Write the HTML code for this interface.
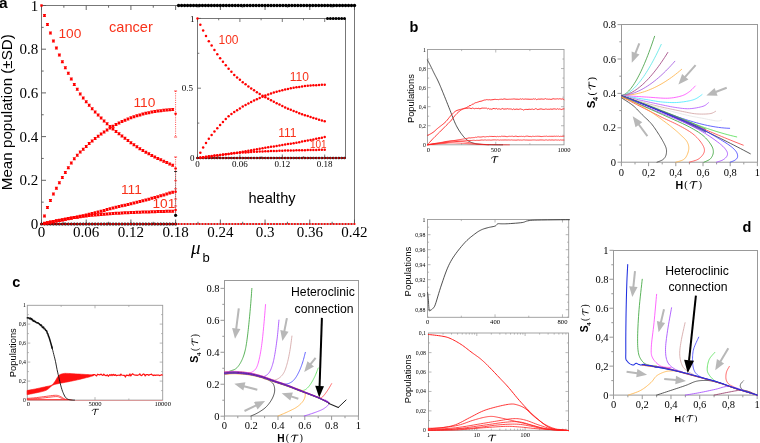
<!DOCTYPE html>
<html><head><meta charset="utf-8"><style>html,body{margin:0;padding:0;background:#fff;overflow:hidden}svg{display:block;will-change:transform}</style></head>
<body>
<svg width="760" height="443" viewBox="0 0 760 443">
<rect width="760" height="443" fill="#fff"/>
<rect x="41.5" y="5.5" width="313" height="218.5" fill="none" stroke="#777" stroke-width="1"/>
<line x1="41.5" y1="224" x2="41.5" y2="219.5" stroke="#555" stroke-width="0.9" />
<line x1="41.5" y1="5.5" x2="41.5" y2="10" stroke="#555" stroke-width="0.9" />
<line x1="63.86" y1="224" x2="63.86" y2="221.8" stroke="#555" stroke-width="0.9" />
<line x1="63.86" y1="5.5" x2="63.86" y2="7.7" stroke="#555" stroke-width="0.9" />
<line x1="86.21" y1="224" x2="86.21" y2="219.5" stroke="#555" stroke-width="0.9" />
<line x1="86.21" y1="5.5" x2="86.21" y2="10" stroke="#555" stroke-width="0.9" />
<line x1="108.57" y1="224" x2="108.57" y2="221.8" stroke="#555" stroke-width="0.9" />
<line x1="108.57" y1="5.5" x2="108.57" y2="7.7" stroke="#555" stroke-width="0.9" />
<line x1="130.92" y1="224" x2="130.92" y2="219.5" stroke="#555" stroke-width="0.9" />
<line x1="130.92" y1="5.5" x2="130.92" y2="10" stroke="#555" stroke-width="0.9" />
<line x1="153.28" y1="224" x2="153.28" y2="221.8" stroke="#555" stroke-width="0.9" />
<line x1="153.28" y1="5.5" x2="153.28" y2="7.7" stroke="#555" stroke-width="0.9" />
<line x1="175.64" y1="224" x2="175.64" y2="219.5" stroke="#555" stroke-width="0.9" />
<line x1="175.64" y1="5.5" x2="175.64" y2="10" stroke="#555" stroke-width="0.9" />
<line x1="197.99" y1="224" x2="197.99" y2="221.8" stroke="#555" stroke-width="0.9" />
<line x1="197.99" y1="5.5" x2="197.99" y2="7.7" stroke="#555" stroke-width="0.9" />
<line x1="220.35" y1="224" x2="220.35" y2="219.5" stroke="#555" stroke-width="0.9" />
<line x1="220.35" y1="5.5" x2="220.35" y2="10" stroke="#555" stroke-width="0.9" />
<line x1="242.7" y1="224" x2="242.7" y2="221.8" stroke="#555" stroke-width="0.9" />
<line x1="242.7" y1="5.5" x2="242.7" y2="7.7" stroke="#555" stroke-width="0.9" />
<line x1="265.06" y1="224" x2="265.06" y2="219.5" stroke="#555" stroke-width="0.9" />
<line x1="265.06" y1="5.5" x2="265.06" y2="10" stroke="#555" stroke-width="0.9" />
<line x1="287.42" y1="224" x2="287.42" y2="221.8" stroke="#555" stroke-width="0.9" />
<line x1="287.42" y1="5.5" x2="287.42" y2="7.7" stroke="#555" stroke-width="0.9" />
<line x1="309.77" y1="224" x2="309.77" y2="219.5" stroke="#555" stroke-width="0.9" />
<line x1="309.77" y1="5.5" x2="309.77" y2="10" stroke="#555" stroke-width="0.9" />
<line x1="332.13" y1="224" x2="332.13" y2="221.8" stroke="#555" stroke-width="0.9" />
<line x1="332.13" y1="5.5" x2="332.13" y2="7.7" stroke="#555" stroke-width="0.9" />
<line x1="354.48" y1="224" x2="354.48" y2="219.5" stroke="#555" stroke-width="0.9" />
<line x1="354.48" y1="5.5" x2="354.48" y2="10" stroke="#555" stroke-width="0.9" />
<line x1="41.5" y1="224" x2="46" y2="224" stroke="#555" stroke-width="0.9" />
<line x1="41.5" y1="202.15" x2="43.7" y2="202.15" stroke="#555" stroke-width="0.9" />
<line x1="41.5" y1="180.3" x2="46" y2="180.3" stroke="#555" stroke-width="0.9" />
<line x1="41.5" y1="158.45" x2="43.7" y2="158.45" stroke="#555" stroke-width="0.9" />
<line x1="41.5" y1="136.6" x2="46" y2="136.6" stroke="#555" stroke-width="0.9" />
<line x1="41.5" y1="114.75" x2="43.7" y2="114.75" stroke="#555" stroke-width="0.9" />
<line x1="41.5" y1="92.9" x2="46" y2="92.9" stroke="#555" stroke-width="0.9" />
<line x1="41.5" y1="71.05" x2="43.7" y2="71.05" stroke="#555" stroke-width="0.9" />
<line x1="41.5" y1="49.2" x2="46" y2="49.2" stroke="#555" stroke-width="0.9" />
<line x1="41.5" y1="27.35" x2="43.7" y2="27.35" stroke="#555" stroke-width="0.9" />
<line x1="41.5" y1="5.5" x2="46" y2="5.5" stroke="#555" stroke-width="0.9" />
<circle cx="41.5" cy="224" r="1.5" fill="#000"/>
<circle cx="44.48" cy="224" r="1.5" fill="#000"/>
<circle cx="47.46" cy="224" r="1.5" fill="#000"/>
<circle cx="50.44" cy="224" r="1.5" fill="#000"/>
<circle cx="53.42" cy="224" r="1.5" fill="#000"/>
<circle cx="56.4" cy="224" r="1.5" fill="#000"/>
<circle cx="59.38" cy="224" r="1.5" fill="#000"/>
<circle cx="62.37" cy="224" r="1.5" fill="#000"/>
<circle cx="65.35" cy="224" r="1.5" fill="#000"/>
<circle cx="68.33" cy="224" r="1.5" fill="#000"/>
<circle cx="71.31" cy="224" r="1.5" fill="#000"/>
<circle cx="74.29" cy="224" r="1.5" fill="#000"/>
<circle cx="77.27" cy="224" r="1.5" fill="#000"/>
<circle cx="80.25" cy="224" r="1.5" fill="#000"/>
<circle cx="83.23" cy="224" r="1.5" fill="#000"/>
<circle cx="86.21" cy="224" r="1.5" fill="#000"/>
<circle cx="89.19" cy="224" r="1.5" fill="#000"/>
<circle cx="92.17" cy="224" r="1.5" fill="#000"/>
<circle cx="95.15" cy="224" r="1.5" fill="#000"/>
<circle cx="98.14" cy="224" r="1.5" fill="#000"/>
<circle cx="101.12" cy="224" r="1.5" fill="#000"/>
<circle cx="104.1" cy="224" r="1.5" fill="#000"/>
<circle cx="107.08" cy="224" r="1.5" fill="#000"/>
<circle cx="110.06" cy="224" r="1.5" fill="#000"/>
<circle cx="113.04" cy="224" r="1.5" fill="#000"/>
<circle cx="116.02" cy="224" r="1.5" fill="#000"/>
<circle cx="119" cy="224" r="1.5" fill="#000"/>
<circle cx="121.98" cy="224" r="1.5" fill="#000"/>
<circle cx="124.96" cy="224" r="1.5" fill="#000"/>
<circle cx="127.94" cy="224" r="1.5" fill="#000"/>
<circle cx="130.92" cy="224" r="1.5" fill="#000"/>
<circle cx="133.9" cy="224" r="1.5" fill="#000"/>
<circle cx="136.89" cy="224" r="1.5" fill="#000"/>
<circle cx="139.87" cy="224" r="1.5" fill="#000"/>
<circle cx="142.85" cy="224" r="1.5" fill="#000"/>
<circle cx="145.83" cy="224" r="1.5" fill="#000"/>
<circle cx="148.81" cy="224" r="1.5" fill="#000"/>
<circle cx="151.79" cy="224" r="1.5" fill="#000"/>
<circle cx="154.77" cy="224" r="1.5" fill="#000"/>
<circle cx="157.75" cy="224" r="1.5" fill="#000"/>
<circle cx="160.73" cy="224" r="1.5" fill="#000"/>
<circle cx="163.71" cy="224" r="1.5" fill="#000"/>
<circle cx="166.69" cy="224" r="1.5" fill="#000"/>
<circle cx="169.67" cy="224" r="1.5" fill="#000"/>
<circle cx="172.66" cy="224" r="1.5" fill="#000"/>
<circle cx="175.64" cy="224" r="1.5" fill="#000"/>
<circle cx="41.5" cy="224" r="1.1" fill="#d00"/>
<circle cx="44.48" cy="224" r="1.1" fill="#d00"/>
<circle cx="47.46" cy="224" r="1.1" fill="#d00"/>
<circle cx="50.44" cy="224" r="1.1" fill="#d00"/>
<circle cx="53.42" cy="224" r="1.1" fill="#d00"/>
<circle cx="56.4" cy="224" r="1.1" fill="#d00"/>
<circle cx="59.38" cy="224" r="1.1" fill="#d00"/>
<circle cx="62.37" cy="224" r="1.1" fill="#d00"/>
<circle cx="65.35" cy="224" r="1.1" fill="#d00"/>
<circle cx="68.33" cy="224" r="1.1" fill="#d00"/>
<circle cx="71.31" cy="224" r="1.1" fill="#d00"/>
<circle cx="74.29" cy="224" r="1.1" fill="#d00"/>
<circle cx="77.27" cy="224" r="1.1" fill="#d00"/>
<circle cx="80.25" cy="224" r="1.1" fill="#d00"/>
<circle cx="83.23" cy="224" r="1.1" fill="#d00"/>
<circle cx="86.21" cy="224" r="1.1" fill="#d00"/>
<circle cx="89.19" cy="224" r="1.1" fill="#d00"/>
<circle cx="92.17" cy="224" r="1.1" fill="#d00"/>
<circle cx="95.15" cy="224" r="1.1" fill="#d00"/>
<circle cx="98.14" cy="224" r="1.1" fill="#d00"/>
<circle cx="101.12" cy="224" r="1.1" fill="#d00"/>
<circle cx="104.1" cy="224" r="1.1" fill="#d00"/>
<circle cx="107.08" cy="224" r="1.1" fill="#d00"/>
<circle cx="110.06" cy="224" r="1.1" fill="#d00"/>
<circle cx="113.04" cy="224" r="1.1" fill="#d00"/>
<circle cx="116.02" cy="224" r="1.1" fill="#d00"/>
<circle cx="119" cy="224" r="1.1" fill="#d00"/>
<circle cx="121.98" cy="224" r="1.1" fill="#d00"/>
<circle cx="124.96" cy="224" r="1.1" fill="#d00"/>
<circle cx="127.94" cy="224" r="1.1" fill="#d00"/>
<circle cx="130.92" cy="224" r="1.1" fill="#d00"/>
<circle cx="133.9" cy="224" r="1.1" fill="#d00"/>
<circle cx="136.89" cy="224" r="1.1" fill="#d00"/>
<circle cx="139.87" cy="224" r="1.1" fill="#d00"/>
<circle cx="142.85" cy="224" r="1.1" fill="#d00"/>
<circle cx="145.83" cy="224" r="1.1" fill="#d00"/>
<circle cx="148.81" cy="224" r="1.1" fill="#d00"/>
<circle cx="151.79" cy="224" r="1.1" fill="#d00"/>
<circle cx="154.77" cy="224" r="1.1" fill="#d00"/>
<circle cx="157.75" cy="224" r="1.1" fill="#d00"/>
<circle cx="160.73" cy="224" r="1.1" fill="#d00"/>
<circle cx="163.71" cy="224" r="1.1" fill="#d00"/>
<circle cx="166.69" cy="224" r="1.1" fill="#d00"/>
<circle cx="169.67" cy="224" r="1.1" fill="#d00"/>
<circle cx="172.66" cy="224" r="1.1" fill="#d00"/>
<circle cx="175.64" cy="224" r="1.1" fill="#ff0000"/>
<circle cx="178.62" cy="224" r="1.1" fill="#ff0000"/>
<circle cx="181.6" cy="224" r="1.1" fill="#ff0000"/>
<circle cx="184.58" cy="224" r="1.1" fill="#ff0000"/>
<circle cx="187.56" cy="224" r="1.1" fill="#ff0000"/>
<circle cx="190.54" cy="224" r="1.1" fill="#ff0000"/>
<circle cx="193.52" cy="224" r="1.1" fill="#ff0000"/>
<circle cx="196.5" cy="224" r="1.1" fill="#ff0000"/>
<circle cx="199.48" cy="224" r="1.1" fill="#ff0000"/>
<circle cx="202.46" cy="224" r="1.1" fill="#ff0000"/>
<circle cx="205.44" cy="224" r="1.1" fill="#ff0000"/>
<circle cx="208.42" cy="224" r="1.1" fill="#ff0000"/>
<circle cx="211.41" cy="224" r="1.1" fill="#ff0000"/>
<circle cx="214.39" cy="224" r="1.1" fill="#ff0000"/>
<circle cx="217.37" cy="224" r="1.1" fill="#ff0000"/>
<circle cx="220.35" cy="224" r="1.1" fill="#ff0000"/>
<circle cx="223.33" cy="224" r="1.1" fill="#ff0000"/>
<circle cx="226.31" cy="224" r="1.1" fill="#ff0000"/>
<circle cx="229.29" cy="224" r="1.1" fill="#ff0000"/>
<circle cx="232.27" cy="224" r="1.1" fill="#ff0000"/>
<circle cx="235.25" cy="224" r="1.1" fill="#ff0000"/>
<circle cx="238.23" cy="224" r="1.1" fill="#ff0000"/>
<circle cx="241.21" cy="224" r="1.1" fill="#ff0000"/>
<circle cx="244.19" cy="224" r="1.1" fill="#ff0000"/>
<circle cx="247.18" cy="224" r="1.1" fill="#ff0000"/>
<circle cx="250.16" cy="224" r="1.1" fill="#ff0000"/>
<circle cx="253.14" cy="224" r="1.1" fill="#ff0000"/>
<circle cx="256.12" cy="224" r="1.1" fill="#ff0000"/>
<circle cx="259.1" cy="224" r="1.1" fill="#ff0000"/>
<circle cx="262.08" cy="224" r="1.1" fill="#ff0000"/>
<circle cx="265.06" cy="224" r="1.1" fill="#ff0000"/>
<circle cx="268.04" cy="224" r="1.1" fill="#ff0000"/>
<circle cx="271.02" cy="224" r="1.1" fill="#ff0000"/>
<circle cx="274" cy="224" r="1.1" fill="#ff0000"/>
<circle cx="276.98" cy="224" r="1.1" fill="#ff0000"/>
<circle cx="279.96" cy="224" r="1.1" fill="#ff0000"/>
<circle cx="282.94" cy="224" r="1.1" fill="#ff0000"/>
<circle cx="285.93" cy="224" r="1.1" fill="#ff0000"/>
<circle cx="288.91" cy="224" r="1.1" fill="#ff0000"/>
<circle cx="291.89" cy="224" r="1.1" fill="#ff0000"/>
<circle cx="294.87" cy="224" r="1.1" fill="#ff0000"/>
<circle cx="297.85" cy="224" r="1.1" fill="#ff0000"/>
<circle cx="300.83" cy="224" r="1.1" fill="#ff0000"/>
<circle cx="303.81" cy="224" r="1.1" fill="#ff0000"/>
<circle cx="306.79" cy="224" r="1.1" fill="#ff0000"/>
<circle cx="309.77" cy="224" r="1.1" fill="#ff0000"/>
<circle cx="312.75" cy="224" r="1.1" fill="#ff0000"/>
<circle cx="315.73" cy="224" r="1.1" fill="#ff0000"/>
<circle cx="318.71" cy="224" r="1.1" fill="#ff0000"/>
<circle cx="321.7" cy="224" r="1.1" fill="#ff0000"/>
<circle cx="324.68" cy="224" r="1.1" fill="#ff0000"/>
<circle cx="327.66" cy="224" r="1.1" fill="#ff0000"/>
<circle cx="330.64" cy="224" r="1.1" fill="#ff0000"/>
<circle cx="333.62" cy="224" r="1.1" fill="#ff0000"/>
<circle cx="336.6" cy="224" r="1.1" fill="#ff0000"/>
<circle cx="339.58" cy="224" r="1.1" fill="#ff0000"/>
<circle cx="342.56" cy="224" r="1.1" fill="#ff0000"/>
<circle cx="345.54" cy="224" r="1.1" fill="#ff0000"/>
<circle cx="348.52" cy="224" r="1.1" fill="#ff0000"/>
<circle cx="351.5" cy="224" r="1.1" fill="#ff0000"/>
<circle cx="354.48" cy="224" r="1.1" fill="#ff0000"/>
<circle cx="178.62" cy="5.5" r="1.7" fill="#000"/>
<circle cx="181.6" cy="5.5" r="1.7" fill="#000"/>
<circle cx="184.58" cy="5.5" r="1.7" fill="#000"/>
<circle cx="187.56" cy="5.5" r="1.7" fill="#000"/>
<circle cx="190.54" cy="5.5" r="1.7" fill="#000"/>
<circle cx="193.52" cy="5.5" r="1.7" fill="#000"/>
<circle cx="196.5" cy="5.5" r="1.7" fill="#000"/>
<circle cx="199.48" cy="5.5" r="1.7" fill="#000"/>
<circle cx="202.46" cy="5.5" r="1.7" fill="#000"/>
<circle cx="205.44" cy="5.5" r="1.7" fill="#000"/>
<circle cx="208.42" cy="5.5" r="1.7" fill="#000"/>
<circle cx="211.41" cy="5.5" r="1.7" fill="#000"/>
<circle cx="214.39" cy="5.5" r="1.7" fill="#000"/>
<circle cx="217.37" cy="5.5" r="1.7" fill="#000"/>
<circle cx="220.35" cy="5.5" r="1.7" fill="#000"/>
<circle cx="223.33" cy="5.5" r="1.7" fill="#000"/>
<circle cx="226.31" cy="5.5" r="1.7" fill="#000"/>
<circle cx="229.29" cy="5.5" r="1.7" fill="#000"/>
<circle cx="232.27" cy="5.5" r="1.7" fill="#000"/>
<circle cx="235.25" cy="5.5" r="1.7" fill="#000"/>
<circle cx="238.23" cy="5.5" r="1.7" fill="#000"/>
<circle cx="241.21" cy="5.5" r="1.7" fill="#000"/>
<circle cx="244.19" cy="5.5" r="1.7" fill="#000"/>
<circle cx="247.18" cy="5.5" r="1.7" fill="#000"/>
<circle cx="250.16" cy="5.5" r="1.7" fill="#000"/>
<circle cx="253.14" cy="5.5" r="1.7" fill="#000"/>
<circle cx="256.12" cy="5.5" r="1.7" fill="#000"/>
<circle cx="259.1" cy="5.5" r="1.7" fill="#000"/>
<circle cx="262.08" cy="5.5" r="1.7" fill="#000"/>
<circle cx="265.06" cy="5.5" r="1.7" fill="#000"/>
<circle cx="268.04" cy="5.5" r="1.7" fill="#000"/>
<circle cx="271.02" cy="5.5" r="1.7" fill="#000"/>
<circle cx="274" cy="5.5" r="1.7" fill="#000"/>
<circle cx="276.98" cy="5.5" r="1.7" fill="#000"/>
<circle cx="279.96" cy="5.5" r="1.7" fill="#000"/>
<circle cx="282.94" cy="5.5" r="1.7" fill="#000"/>
<circle cx="285.93" cy="5.5" r="1.7" fill="#000"/>
<circle cx="288.91" cy="5.5" r="1.7" fill="#000"/>
<circle cx="291.89" cy="5.5" r="1.7" fill="#000"/>
<circle cx="294.87" cy="5.5" r="1.7" fill="#000"/>
<circle cx="297.85" cy="5.5" r="1.7" fill="#000"/>
<circle cx="300.83" cy="5.5" r="1.7" fill="#000"/>
<circle cx="303.81" cy="5.5" r="1.7" fill="#000"/>
<circle cx="306.79" cy="5.5" r="1.7" fill="#000"/>
<circle cx="309.77" cy="5.5" r="1.7" fill="#000"/>
<circle cx="312.75" cy="5.5" r="1.7" fill="#000"/>
<circle cx="315.73" cy="5.5" r="1.7" fill="#000"/>
<circle cx="318.71" cy="5.5" r="1.7" fill="#000"/>
<circle cx="321.7" cy="5.5" r="1.7" fill="#000"/>
<circle cx="324.68" cy="5.5" r="1.7" fill="#000"/>
<circle cx="327.66" cy="5.5" r="1.7" fill="#000"/>
<circle cx="330.64" cy="5.5" r="1.7" fill="#000"/>
<circle cx="333.62" cy="5.5" r="1.7" fill="#000"/>
<circle cx="336.6" cy="5.5" r="1.7" fill="#000"/>
<circle cx="339.58" cy="5.5" r="1.7" fill="#000"/>
<circle cx="342.56" cy="5.5" r="1.7" fill="#000"/>
<circle cx="345.54" cy="5.5" r="1.7" fill="#000"/>
<circle cx="348.52" cy="5.5" r="1.7" fill="#000"/>
<circle cx="351.5" cy="5.5" r="1.7" fill="#000"/>
<circle cx="354.48" cy="5.5" r="1.7" fill="#000"/>
<path d="M42.98,14.05 h3 v0.8 h-0.3 v1.4 h0.3 v0.8 h-3 v-0.8 h0.3 v-1.4 h-0.3z" fill="#ff0000"/>
<path d="M45.96,23.01 h3 v0.8 h-0.3 v1.4 h0.3 v0.8 h-3 v-0.8 h0.3 v-1.4 h-0.3z" fill="#ff0000"/>
<path d="M48.94,31.53 h3 v0.8 h-0.3 v1.4 h0.3 v0.8 h-3 v-0.8 h0.3 v-1.4 h-0.3z" fill="#ff0000"/>
<path d="M51.92,39.62 h3 v0.8 h-0.3 v1.4 h0.3 v0.8 h-3 v-0.8 h0.3 v-1.4 h-0.3z" fill="#ff0000"/>
<path d="M54.9,46.61 h3 v0.8 h-0.3 v1.4 h0.3 v0.8 h-3 v-0.8 h0.3 v-1.4 h-0.3z" fill="#ff0000"/>
<path d="M57.88,53.6 h3 v0.8 h-0.3 v1.4 h0.3 v0.8 h-3 v-0.8 h0.3 v-1.4 h-0.3z" fill="#ff0000"/>
<path d="M60.87,60.15 h3 v0.8 h-0.3 v1.4 h0.3 v0.8 h-3 v-0.8 h0.3 v-1.4 h-0.3z" fill="#ff0000"/>
<path d="M63.85,66.27 h3 v0.8 h-0.3 v1.4 h0.3 v0.8 h-3 v-0.8 h0.3 v-1.4 h-0.3z" fill="#ff0000"/>
<path d="M66.83,71.74 h3 v0.8 h-0.3 v1.4 h0.3 v0.8 h-3 v-0.8 h0.3 v-1.4 h-0.3z" fill="#ff0000"/>
<path d="M69.81,77.42 h3 v0.8 h-0.3 v1.4 h0.3 v0.8 h-3 v-0.8 h0.3 v-1.4 h-0.3z" fill="#ff0000"/>
<path d="M72.79,82.88 h3 v0.8 h-0.3 v1.4 h0.3 v0.8 h-3 v-0.8 h0.3 v-1.4 h-0.3z" fill="#ff0000"/>
<path d="M75.77,87.69 h3 v0.8 h-0.3 v1.4 h0.3 v0.8 h-3 v-0.8 h0.3 v-1.4 h-0.3z" fill="#ff0000"/>
<path d="M78.75,92.49 h3 v0.8 h-0.3 v1.4 h0.3 v0.8 h-3 v-0.8 h0.3 v-1.4 h-0.3z" fill="#ff0000"/>
<path d="M81.73,96.48 h3 v0.8 h-0.3 v1.4 h0.3 v0.8 h-3 v-0.8 h0.3 v-1.4 h-0.3z" fill="#ff0000"/>
<path d="M84.71,100.14 h3 v0.8 h-0.3 v1.4 h0.3 v0.8 h-3 v-0.8 h0.3 v-1.4 h-0.3z" fill="#ff0000"/>
<path d="M87.69,103.76 h3 v0.8 h-0.3 v1.4 h0.3 v0.8 h-3 v-0.8 h0.3 v-1.4 h-0.3z" fill="#ff0000"/>
<path d="M90.67,107.24 h3 v0.8 h-0.3 v1.4 h0.3 v0.8 h-3 v-0.8 h0.3 v-1.4 h-0.3z" fill="#ff0000"/>
<path d="M93.65,110.47 h3 v0.8 h-0.3 v1.4 h0.3 v0.8 h-3 v-0.8 h0.3 v-1.4 h-0.3z" fill="#ff0000"/>
<path d="M96.64,113.58 h3 v0.8 h-0.3 v1.4 h0.3 v0.8 h-3 v-0.8 h0.3 v-1.4 h-0.3z" fill="#ff0000"/>
<path d="M99.62,116.59 h3 v0.8 h-0.3 v1.4 h0.3 v0.8 h-3 v-0.8 h0.3 v-1.4 h-0.3z" fill="#ff0000"/>
<path d="M102.6,119.49 h3 v0.8 h-0.3 v1.4 h0.3 v0.8 h-3 v-0.8 h0.3 v-1.4 h-0.3z" fill="#ff0000"/>
<path d="M105.58,122.28 h3 v0.8 h-0.3 v1.4 h0.3 v0.8 h-3 v-0.8 h0.3 v-1.4 h-0.3z" fill="#ff0000"/>
<path d="M108.56,124.95 h3 v0.8 h-0.3 v1.4 h0.3 v0.8 h-3 v-0.8 h0.3 v-1.4 h-0.3z" fill="#ff0000"/>
<path d="M111.54,127.49 h3 v0.8 h-0.3 v1.4 h0.3 v0.8 h-3 v-0.8 h0.3 v-1.4 h-0.3z" fill="#ff0000"/>
<path d="M114.52,129.88 h3 v0.8 h-0.3 v1.4 h0.3 v0.8 h-3 v-0.8 h0.3 v-1.4 h-0.3z" fill="#ff0000"/>
<path d="M117.5,132.17 h3 v0.8 h-0.3 v1.4 h0.3 v0.8 h-3 v-0.8 h0.3 v-1.4 h-0.3z" fill="#ff0000"/>
<path d="M120.48,134.41 h3 v0.8 h-0.3 v1.4 h0.3 v0.8 h-3 v-0.8 h0.3 v-1.4 h-0.3z" fill="#ff0000"/>
<path d="M123.46,136.67 h3 v0.8 h-0.3 v1.4 h0.3 v0.8 h-3 v-0.8 h0.3 v-1.4 h-0.3z" fill="#ff0000"/>
<path d="M126.44,138.93 h3 v0.8 h-0.3 v1.4 h0.3 v0.8 h-3 v-0.8 h0.3 v-1.4 h-0.3z" fill="#ff0000"/>
<path d="M129.42,141.15 h3 v0.8 h-0.3 v1.4 h0.3 v0.8 h-3 v-0.8 h0.3 v-1.4 h-0.3z" fill="#ff0000"/>
<path d="M132.4,143.27 h3 v0.8 h-0.3 v1.4 h0.3 v0.8 h-3 v-0.8 h0.3 v-1.4 h-0.3z" fill="#ff0000"/>
<path d="M135.39,145.25 h3 v0.8 h-0.3 v1.4 h0.3 v0.8 h-3 v-0.8 h0.3 v-1.4 h-0.3z" fill="#ff0000"/>
<path d="M138.37,147.13 h3 v0.8 h-0.3 v1.4 h0.3 v0.8 h-3 v-0.8 h0.3 v-1.4 h-0.3z" fill="#ff0000"/>
<path d="M141.35,148.93 h3 v0.8 h-0.3 v1.4 h0.3 v0.8 h-3 v-0.8 h0.3 v-1.4 h-0.3z" fill="#ff0000"/>
<path d="M144.33,150.65 h3 v0.8 h-0.3 v1.4 h0.3 v0.8 h-3 v-0.8 h0.3 v-1.4 h-0.3z" fill="#ff0000"/>
<path d="M147.31,152.31 h3 v0.8 h-0.3 v1.4 h0.3 v0.8 h-3 v-0.8 h0.3 v-1.4 h-0.3z" fill="#ff0000"/>
<path d="M150.29,153.89 h3 v0.8 h-0.3 v1.4 h0.3 v0.8 h-3 v-0.8 h0.3 v-1.4 h-0.3z" fill="#ff0000"/>
<path d="M153.27,155.41 h3 v0.8 h-0.3 v1.4 h0.3 v0.8 h-3 v-0.8 h0.3 v-1.4 h-0.3z" fill="#ff0000"/>
<path d="M156.25,156.88 h3 v0.8 h-0.3 v1.4 h0.3 v0.8 h-3 v-0.8 h0.3 v-1.4 h-0.3z" fill="#ff0000"/>
<path d="M159.23,158.32 h3 v0.8 h-0.3 v1.4 h0.3 v0.8 h-3 v-0.8 h0.3 v-1.4 h-0.3z" fill="#ff0000"/>
<path d="M162.21,159.73 h3 v0.8 h-0.3 v1.4 h0.3 v0.8 h-3 v-0.8 h0.3 v-1.4 h-0.3z" fill="#ff0000"/>
<path d="M165.19,161.11 h3 v0.8 h-0.3 v1.4 h0.3 v0.8 h-3 v-0.8 h0.3 v-1.4 h-0.3z" fill="#ff0000"/>
<path d="M168.17,162.46 h3 v0.8 h-0.3 v1.4 h0.3 v0.8 h-3 v-0.8 h0.3 v-1.4 h-0.3z" fill="#ff0000"/>
<path d="M171.16,163.77 h3 v0.8 h-0.3 v1.4 h0.3 v0.8 h-3 v-0.8 h0.3 v-1.4 h-0.3z" fill="#ff0000"/>
<path d="M42.98,214.42 h3 v0.8 h-0.3 v1.4 h0.3 v0.8 h-3 v-0.8 h0.3 v-1.4 h-0.3z" fill="#ff0000"/>
<path d="M45.96,206.11 h3 v0.8 h-0.3 v1.4 h0.3 v0.8 h-3 v-0.8 h0.3 v-1.4 h-0.3z" fill="#ff0000"/>
<path d="M48.94,199.12 h3 v0.8 h-0.3 v1.4 h0.3 v0.8 h-3 v-0.8 h0.3 v-1.4 h-0.3z" fill="#ff0000"/>
<path d="M51.92,192.57 h3 v0.8 h-0.3 v1.4 h0.3 v0.8 h-3 v-0.8 h0.3 v-1.4 h-0.3z" fill="#ff0000"/>
<path d="M54.9,186.67 h3 v0.8 h-0.3 v1.4 h0.3 v0.8 h-3 v-0.8 h0.3 v-1.4 h-0.3z" fill="#ff0000"/>
<path d="M57.88,181.2 h3 v0.8 h-0.3 v1.4 h0.3 v0.8 h-3 v-0.8 h0.3 v-1.4 h-0.3z" fill="#ff0000"/>
<path d="M60.87,175.96 h3 v0.8 h-0.3 v1.4 h0.3 v0.8 h-3 v-0.8 h0.3 v-1.4 h-0.3z" fill="#ff0000"/>
<path d="M63.85,170.93 h3 v0.8 h-0.3 v1.4 h0.3 v0.8 h-3 v-0.8 h0.3 v-1.4 h-0.3z" fill="#ff0000"/>
<path d="M66.83,166.16 h3 v0.8 h-0.3 v1.4 h0.3 v0.8 h-3 v-0.8 h0.3 v-1.4 h-0.3z" fill="#ff0000"/>
<path d="M69.81,161.53 h3 v0.8 h-0.3 v1.4 h0.3 v0.8 h-3 v-0.8 h0.3 v-1.4 h-0.3z" fill="#ff0000"/>
<path d="M72.79,157.3 h3 v0.8 h-0.3 v1.4 h0.3 v0.8 h-3 v-0.8 h0.3 v-1.4 h-0.3z" fill="#ff0000"/>
<path d="M75.77,153.7 h3 v0.8 h-0.3 v1.4 h0.3 v0.8 h-3 v-0.8 h0.3 v-1.4 h-0.3z" fill="#ff0000"/>
<path d="M78.75,150.59 h3 v0.8 h-0.3 v1.4 h0.3 v0.8 h-3 v-0.8 h0.3 v-1.4 h-0.3z" fill="#ff0000"/>
<path d="M81.73,147.74 h3 v0.8 h-0.3 v1.4 h0.3 v0.8 h-3 v-0.8 h0.3 v-1.4 h-0.3z" fill="#ff0000"/>
<path d="M84.71,144.93 h3 v0.8 h-0.3 v1.4 h0.3 v0.8 h-3 v-0.8 h0.3 v-1.4 h-0.3z" fill="#ff0000"/>
<path d="M87.69,142.08 h3 v0.8 h-0.3 v1.4 h0.3 v0.8 h-3 v-0.8 h0.3 v-1.4 h-0.3z" fill="#ff0000"/>
<path d="M90.67,139.4 h3 v0.8 h-0.3 v1.4 h0.3 v0.8 h-3 v-0.8 h0.3 v-1.4 h-0.3z" fill="#ff0000"/>
<path d="M93.65,137 h3 v0.8 h-0.3 v1.4 h0.3 v0.8 h-3 v-0.8 h0.3 v-1.4 h-0.3z" fill="#ff0000"/>
<path d="M96.64,134.72 h3 v0.8 h-0.3 v1.4 h0.3 v0.8 h-3 v-0.8 h0.3 v-1.4 h-0.3z" fill="#ff0000"/>
<path d="M99.62,132.53 h3 v0.8 h-0.3 v1.4 h0.3 v0.8 h-3 v-0.8 h0.3 v-1.4 h-0.3z" fill="#ff0000"/>
<path d="M102.6,130.46 h3 v0.8 h-0.3 v1.4 h0.3 v0.8 h-3 v-0.8 h0.3 v-1.4 h-0.3z" fill="#ff0000"/>
<path d="M105.58,128.48 h3 v0.8 h-0.3 v1.4 h0.3 v0.8 h-3 v-0.8 h0.3 v-1.4 h-0.3z" fill="#ff0000"/>
<path d="M108.56,126.6 h3 v0.8 h-0.3 v1.4 h0.3 v0.8 h-3 v-0.8 h0.3 v-1.4 h-0.3z" fill="#ff0000"/>
<path d="M111.54,124.82 h3 v0.8 h-0.3 v1.4 h0.3 v0.8 h-3 v-0.8 h0.3 v-1.4 h-0.3z" fill="#ff0000"/>
<path d="M114.52,123.12 h3 v0.8 h-0.3 v1.4 h0.3 v0.8 h-3 v-0.8 h0.3 v-1.4 h-0.3z" fill="#ff0000"/>
<path d="M117.5,121.52 h3 v0.8 h-0.3 v1.4 h0.3 v0.8 h-3 v-0.8 h0.3 v-1.4 h-0.3z" fill="#ff0000"/>
<path d="M120.48,120.05 h3 v0.8 h-0.3 v1.4 h0.3 v0.8 h-3 v-0.8 h0.3 v-1.4 h-0.3z" fill="#ff0000"/>
<path d="M123.46,118.71 h3 v0.8 h-0.3 v1.4 h0.3 v0.8 h-3 v-0.8 h0.3 v-1.4 h-0.3z" fill="#ff0000"/>
<path d="M126.44,117.47 h3 v0.8 h-0.3 v1.4 h0.3 v0.8 h-3 v-0.8 h0.3 v-1.4 h-0.3z" fill="#ff0000"/>
<path d="M129.42,116.32 h3 v0.8 h-0.3 v1.4 h0.3 v0.8 h-3 v-0.8 h0.3 v-1.4 h-0.3z" fill="#ff0000"/>
<path d="M132.4,115.27 h3 v0.8 h-0.3 v1.4 h0.3 v0.8 h-3 v-0.8 h0.3 v-1.4 h-0.3z" fill="#ff0000"/>
<path d="M135.39,114.31 h3 v0.8 h-0.3 v1.4 h0.3 v0.8 h-3 v-0.8 h0.3 v-1.4 h-0.3z" fill="#ff0000"/>
<path d="M138.37,113.41 h3 v0.8 h-0.3 v1.4 h0.3 v0.8 h-3 v-0.8 h0.3 v-1.4 h-0.3z" fill="#ff0000"/>
<path d="M141.35,112.59 h3 v0.8 h-0.3 v1.4 h0.3 v0.8 h-3 v-0.8 h0.3 v-1.4 h-0.3z" fill="#ff0000"/>
<path d="M144.33,111.84 h3 v0.8 h-0.3 v1.4 h0.3 v0.8 h-3 v-0.8 h0.3 v-1.4 h-0.3z" fill="#ff0000"/>
<path d="M147.31,111.18 h3 v0.8 h-0.3 v1.4 h0.3 v0.8 h-3 v-0.8 h0.3 v-1.4 h-0.3z" fill="#ff0000"/>
<path d="M150.29,110.56 h3 v0.8 h-0.3 v1.4 h0.3 v0.8 h-3 v-0.8 h0.3 v-1.4 h-0.3z" fill="#ff0000"/>
<path d="M153.27,110 h3 v0.8 h-0.3 v1.4 h0.3 v0.8 h-3 v-0.8 h0.3 v-1.4 h-0.3z" fill="#ff0000"/>
<path d="M156.25,109.52 h3 v0.8 h-0.3 v1.4 h0.3 v0.8 h-3 v-0.8 h0.3 v-1.4 h-0.3z" fill="#ff0000"/>
<path d="M159.23,109.13 h3 v0.8 h-0.3 v1.4 h0.3 v0.8 h-3 v-0.8 h0.3 v-1.4 h-0.3z" fill="#ff0000"/>
<path d="M162.21,108.78 h3 v0.8 h-0.3 v1.4 h0.3 v0.8 h-3 v-0.8 h0.3 v-1.4 h-0.3z" fill="#ff0000"/>
<path d="M165.19,108.45 h3 v0.8 h-0.3 v1.4 h0.3 v0.8 h-3 v-0.8 h0.3 v-1.4 h-0.3z" fill="#ff0000"/>
<path d="M168.17,108.17 h3 v0.8 h-0.3 v1.4 h0.3 v0.8 h-3 v-0.8 h0.3 v-1.4 h-0.3z" fill="#ff0000"/>
<path d="M171.16,107.95 h3 v0.8 h-0.3 v1.4 h0.3 v0.8 h-3 v-0.8 h0.3 v-1.4 h-0.3z" fill="#ff0000"/>
<path d="M42.98,221.93 h3 v0.8 h-0.3 v1.4 h0.3 v0.8 h-3 v-0.8 h0.3 v-1.4 h-0.3z" fill="#ff0000"/>
<path d="M45.96,221.36 h3 v0.8 h-0.3 v1.4 h0.3 v0.8 h-3 v-0.8 h0.3 v-1.4 h-0.3z" fill="#ff0000"/>
<path d="M48.94,220.78 h3 v0.8 h-0.3 v1.4 h0.3 v0.8 h-3 v-0.8 h0.3 v-1.4 h-0.3z" fill="#ff0000"/>
<path d="M51.92,220.2 h3 v0.8 h-0.3 v1.4 h0.3 v0.8 h-3 v-0.8 h0.3 v-1.4 h-0.3z" fill="#ff0000"/>
<path d="M54.9,219.61 h3 v0.8 h-0.3 v1.4 h0.3 v0.8 h-3 v-0.8 h0.3 v-1.4 h-0.3z" fill="#ff0000"/>
<path d="M57.88,219.02 h3 v0.8 h-0.3 v1.4 h0.3 v0.8 h-3 v-0.8 h0.3 v-1.4 h-0.3z" fill="#ff0000"/>
<path d="M60.87,218.43 h3 v0.8 h-0.3 v1.4 h0.3 v0.8 h-3 v-0.8 h0.3 v-1.4 h-0.3z" fill="#ff0000"/>
<path d="M63.85,217.83 h3 v0.8 h-0.3 v1.4 h0.3 v0.8 h-3 v-0.8 h0.3 v-1.4 h-0.3z" fill="#ff0000"/>
<path d="M66.83,217.24 h3 v0.8 h-0.3 v1.4 h0.3 v0.8 h-3 v-0.8 h0.3 v-1.4 h-0.3z" fill="#ff0000"/>
<path d="M69.81,216.66 h3 v0.8 h-0.3 v1.4 h0.3 v0.8 h-3 v-0.8 h0.3 v-1.4 h-0.3z" fill="#ff0000"/>
<path d="M72.79,216.06 h3 v0.8 h-0.3 v1.4 h0.3 v0.8 h-3 v-0.8 h0.3 v-1.4 h-0.3z" fill="#ff0000"/>
<path d="M75.77,215.46 h3 v0.8 h-0.3 v1.4 h0.3 v0.8 h-3 v-0.8 h0.3 v-1.4 h-0.3z" fill="#ff0000"/>
<path d="M78.75,214.85 h3 v0.8 h-0.3 v1.4 h0.3 v0.8 h-3 v-0.8 h0.3 v-1.4 h-0.3z" fill="#ff0000"/>
<path d="M81.73,214.21 h3 v0.8 h-0.3 v1.4 h0.3 v0.8 h-3 v-0.8 h0.3 v-1.4 h-0.3z" fill="#ff0000"/>
<path d="M84.71,213.54 h3 v0.8 h-0.3 v1.4 h0.3 v0.8 h-3 v-0.8 h0.3 v-1.4 h-0.3z" fill="#ff0000"/>
<path d="M87.69,212.84 h3 v0.8 h-0.3 v1.4 h0.3 v0.8 h-3 v-0.8 h0.3 v-1.4 h-0.3z" fill="#ff0000"/>
<path d="M90.67,212.1 h3 v0.8 h-0.3 v1.4 h0.3 v0.8 h-3 v-0.8 h0.3 v-1.4 h-0.3z" fill="#ff0000"/>
<path d="M93.65,211.32 h3 v0.8 h-0.3 v1.4 h0.3 v0.8 h-3 v-0.8 h0.3 v-1.4 h-0.3z" fill="#ff0000"/>
<path d="M96.64,210.53 h3 v0.8 h-0.3 v1.4 h0.3 v0.8 h-3 v-0.8 h0.3 v-1.4 h-0.3z" fill="#ff0000"/>
<path d="M99.62,209.72 h3 v0.8 h-0.3 v1.4 h0.3 v0.8 h-3 v-0.8 h0.3 v-1.4 h-0.3z" fill="#ff0000"/>
<path d="M102.6,208.92 h3 v0.8 h-0.3 v1.4 h0.3 v0.8 h-3 v-0.8 h0.3 v-1.4 h-0.3z" fill="#ff0000"/>
<path d="M105.58,208.11 h3 v0.8 h-0.3 v1.4 h0.3 v0.8 h-3 v-0.8 h0.3 v-1.4 h-0.3z" fill="#ff0000"/>
<path d="M108.56,207.32 h3 v0.8 h-0.3 v1.4 h0.3 v0.8 h-3 v-0.8 h0.3 v-1.4 h-0.3z" fill="#ff0000"/>
<path d="M111.54,206.55 h3 v0.8 h-0.3 v1.4 h0.3 v0.8 h-3 v-0.8 h0.3 v-1.4 h-0.3z" fill="#ff0000"/>
<path d="M114.52,205.8 h3 v0.8 h-0.3 v1.4 h0.3 v0.8 h-3 v-0.8 h0.3 v-1.4 h-0.3z" fill="#ff0000"/>
<path d="M117.5,205.07 h3 v0.8 h-0.3 v1.4 h0.3 v0.8 h-3 v-0.8 h0.3 v-1.4 h-0.3z" fill="#ff0000"/>
<path d="M120.48,204.35 h3 v0.8 h-0.3 v1.4 h0.3 v0.8 h-3 v-0.8 h0.3 v-1.4 h-0.3z" fill="#ff0000"/>
<path d="M123.46,203.64 h3 v0.8 h-0.3 v1.4 h0.3 v0.8 h-3 v-0.8 h0.3 v-1.4 h-0.3z" fill="#ff0000"/>
<path d="M126.44,202.92 h3 v0.8 h-0.3 v1.4 h0.3 v0.8 h-3 v-0.8 h0.3 v-1.4 h-0.3z" fill="#ff0000"/>
<path d="M129.42,202.21 h3 v0.8 h-0.3 v1.4 h0.3 v0.8 h-3 v-0.8 h0.3 v-1.4 h-0.3z" fill="#ff0000"/>
<path d="M132.4,201.49 h3 v0.8 h-0.3 v1.4 h0.3 v0.8 h-3 v-0.8 h0.3 v-1.4 h-0.3z" fill="#ff0000"/>
<path d="M135.39,200.76 h3 v0.8 h-0.3 v1.4 h0.3 v0.8 h-3 v-0.8 h0.3 v-1.4 h-0.3z" fill="#ff0000"/>
<path d="M138.37,200.02 h3 v0.8 h-0.3 v1.4 h0.3 v0.8 h-3 v-0.8 h0.3 v-1.4 h-0.3z" fill="#ff0000"/>
<path d="M141.35,199.25 h3 v0.8 h-0.3 v1.4 h0.3 v0.8 h-3 v-0.8 h0.3 v-1.4 h-0.3z" fill="#ff0000"/>
<path d="M144.33,198.47 h3 v0.8 h-0.3 v1.4 h0.3 v0.8 h-3 v-0.8 h0.3 v-1.4 h-0.3z" fill="#ff0000"/>
<path d="M147.31,197.66 h3 v0.8 h-0.3 v1.4 h0.3 v0.8 h-3 v-0.8 h0.3 v-1.4 h-0.3z" fill="#ff0000"/>
<path d="M150.29,196.83 h3 v0.8 h-0.3 v1.4 h0.3 v0.8 h-3 v-0.8 h0.3 v-1.4 h-0.3z" fill="#ff0000"/>
<path d="M153.27,195.99 h3 v0.8 h-0.3 v1.4 h0.3 v0.8 h-3 v-0.8 h0.3 v-1.4 h-0.3z" fill="#ff0000"/>
<path d="M156.25,195.14 h3 v0.8 h-0.3 v1.4 h0.3 v0.8 h-3 v-0.8 h0.3 v-1.4 h-0.3z" fill="#ff0000"/>
<path d="M159.23,194.27 h3 v0.8 h-0.3 v1.4 h0.3 v0.8 h-3 v-0.8 h0.3 v-1.4 h-0.3z" fill="#ff0000"/>
<path d="M162.21,193.39 h3 v0.8 h-0.3 v1.4 h0.3 v0.8 h-3 v-0.8 h0.3 v-1.4 h-0.3z" fill="#ff0000"/>
<path d="M165.19,192.49 h3 v0.8 h-0.3 v1.4 h0.3 v0.8 h-3 v-0.8 h0.3 v-1.4 h-0.3z" fill="#ff0000"/>
<path d="M168.17,191.58 h3 v0.8 h-0.3 v1.4 h0.3 v0.8 h-3 v-0.8 h0.3 v-1.4 h-0.3z" fill="#ff0000"/>
<path d="M171.16,190.66 h3 v0.8 h-0.3 v1.4 h0.3 v0.8 h-3 v-0.8 h0.3 v-1.4 h-0.3z" fill="#ff0000"/>
<path d="M42.98,221.82 h3 v0.8 h-0.3 v1.4 h0.3 v0.8 h-3 v-0.8 h0.3 v-1.4 h-0.3z" fill="#ff0000"/>
<path d="M45.96,221.17 h3 v0.8 h-0.3 v1.4 h0.3 v0.8 h-3 v-0.8 h0.3 v-1.4 h-0.3z" fill="#ff0000"/>
<path d="M48.94,220.53 h3 v0.8 h-0.3 v1.4 h0.3 v0.8 h-3 v-0.8 h0.3 v-1.4 h-0.3z" fill="#ff0000"/>
<path d="M51.92,219.91 h3 v0.8 h-0.3 v1.4 h0.3 v0.8 h-3 v-0.8 h0.3 v-1.4 h-0.3z" fill="#ff0000"/>
<path d="M54.9,219.31 h3 v0.8 h-0.3 v1.4 h0.3 v0.8 h-3 v-0.8 h0.3 v-1.4 h-0.3z" fill="#ff0000"/>
<path d="M57.88,218.73 h3 v0.8 h-0.3 v1.4 h0.3 v0.8 h-3 v-0.8 h0.3 v-1.4 h-0.3z" fill="#ff0000"/>
<path d="M60.87,218.18 h3 v0.8 h-0.3 v1.4 h0.3 v0.8 h-3 v-0.8 h0.3 v-1.4 h-0.3z" fill="#ff0000"/>
<path d="M63.85,217.65 h3 v0.8 h-0.3 v1.4 h0.3 v0.8 h-3 v-0.8 h0.3 v-1.4 h-0.3z" fill="#ff0000"/>
<path d="M66.83,217.12 h3 v0.8 h-0.3 v1.4 h0.3 v0.8 h-3 v-0.8 h0.3 v-1.4 h-0.3z" fill="#ff0000"/>
<path d="M69.81,216.61 h3 v0.8 h-0.3 v1.4 h0.3 v0.8 h-3 v-0.8 h0.3 v-1.4 h-0.3z" fill="#ff0000"/>
<path d="M72.79,216.11 h3 v0.8 h-0.3 v1.4 h0.3 v0.8 h-3 v-0.8 h0.3 v-1.4 h-0.3z" fill="#ff0000"/>
<path d="M75.77,215.63 h3 v0.8 h-0.3 v1.4 h0.3 v0.8 h-3 v-0.8 h0.3 v-1.4 h-0.3z" fill="#ff0000"/>
<path d="M78.75,215.19 h3 v0.8 h-0.3 v1.4 h0.3 v0.8 h-3 v-0.8 h0.3 v-1.4 h-0.3z" fill="#ff0000"/>
<path d="M81.73,214.78 h3 v0.8 h-0.3 v1.4 h0.3 v0.8 h-3 v-0.8 h0.3 v-1.4 h-0.3z" fill="#ff0000"/>
<path d="M84.71,214.42 h3 v0.8 h-0.3 v1.4 h0.3 v0.8 h-3 v-0.8 h0.3 v-1.4 h-0.3z" fill="#ff0000"/>
<path d="M87.69,214.08 h3 v0.8 h-0.3 v1.4 h0.3 v0.8 h-3 v-0.8 h0.3 v-1.4 h-0.3z" fill="#ff0000"/>
<path d="M90.67,213.76 h3 v0.8 h-0.3 v1.4 h0.3 v0.8 h-3 v-0.8 h0.3 v-1.4 h-0.3z" fill="#ff0000"/>
<path d="M93.65,213.46 h3 v0.8 h-0.3 v1.4 h0.3 v0.8 h-3 v-0.8 h0.3 v-1.4 h-0.3z" fill="#ff0000"/>
<path d="M96.64,213.17 h3 v0.8 h-0.3 v1.4 h0.3 v0.8 h-3 v-0.8 h0.3 v-1.4 h-0.3z" fill="#ff0000"/>
<path d="M99.62,212.9 h3 v0.8 h-0.3 v1.4 h0.3 v0.8 h-3 v-0.8 h0.3 v-1.4 h-0.3z" fill="#ff0000"/>
<path d="M102.6,212.65 h3 v0.8 h-0.3 v1.4 h0.3 v0.8 h-3 v-0.8 h0.3 v-1.4 h-0.3z" fill="#ff0000"/>
<path d="M105.58,212.42 h3 v0.8 h-0.3 v1.4 h0.3 v0.8 h-3 v-0.8 h0.3 v-1.4 h-0.3z" fill="#ff0000"/>
<path d="M108.56,212.21 h3 v0.8 h-0.3 v1.4 h0.3 v0.8 h-3 v-0.8 h0.3 v-1.4 h-0.3z" fill="#ff0000"/>
<path d="M111.54,212.01 h3 v0.8 h-0.3 v1.4 h0.3 v0.8 h-3 v-0.8 h0.3 v-1.4 h-0.3z" fill="#ff0000"/>
<path d="M114.52,211.83 h3 v0.8 h-0.3 v1.4 h0.3 v0.8 h-3 v-0.8 h0.3 v-1.4 h-0.3z" fill="#ff0000"/>
<path d="M117.5,211.66 h3 v0.8 h-0.3 v1.4 h0.3 v0.8 h-3 v-0.8 h0.3 v-1.4 h-0.3z" fill="#ff0000"/>
<path d="M120.48,211.5 h3 v0.8 h-0.3 v1.4 h0.3 v0.8 h-3 v-0.8 h0.3 v-1.4 h-0.3z" fill="#ff0000"/>
<path d="M123.46,211.35 h3 v0.8 h-0.3 v1.4 h0.3 v0.8 h-3 v-0.8 h0.3 v-1.4 h-0.3z" fill="#ff0000"/>
<path d="M126.44,211.21 h3 v0.8 h-0.3 v1.4 h0.3 v0.8 h-3 v-0.8 h0.3 v-1.4 h-0.3z" fill="#ff0000"/>
<path d="M129.42,211.07 h3 v0.8 h-0.3 v1.4 h0.3 v0.8 h-3 v-0.8 h0.3 v-1.4 h-0.3z" fill="#ff0000"/>
<path d="M132.4,210.94 h3 v0.8 h-0.3 v1.4 h0.3 v0.8 h-3 v-0.8 h0.3 v-1.4 h-0.3z" fill="#ff0000"/>
<path d="M135.39,210.82 h3 v0.8 h-0.3 v1.4 h0.3 v0.8 h-3 v-0.8 h0.3 v-1.4 h-0.3z" fill="#ff0000"/>
<path d="M138.37,210.7 h3 v0.8 h-0.3 v1.4 h0.3 v0.8 h-3 v-0.8 h0.3 v-1.4 h-0.3z" fill="#ff0000"/>
<path d="M141.35,210.59 h3 v0.8 h-0.3 v1.4 h0.3 v0.8 h-3 v-0.8 h0.3 v-1.4 h-0.3z" fill="#ff0000"/>
<path d="M144.33,210.48 h3 v0.8 h-0.3 v1.4 h0.3 v0.8 h-3 v-0.8 h0.3 v-1.4 h-0.3z" fill="#ff0000"/>
<path d="M147.31,210.38 h3 v0.8 h-0.3 v1.4 h0.3 v0.8 h-3 v-0.8 h0.3 v-1.4 h-0.3z" fill="#ff0000"/>
<path d="M150.29,210.27 h3 v0.8 h-0.3 v1.4 h0.3 v0.8 h-3 v-0.8 h0.3 v-1.4 h-0.3z" fill="#ff0000"/>
<path d="M153.27,210.18 h3 v0.8 h-0.3 v1.4 h0.3 v0.8 h-3 v-0.8 h0.3 v-1.4 h-0.3z" fill="#ff0000"/>
<path d="M156.25,210.08 h3 v0.8 h-0.3 v1.4 h0.3 v0.8 h-3 v-0.8 h0.3 v-1.4 h-0.3z" fill="#ff0000"/>
<path d="M159.23,209.99 h3 v0.8 h-0.3 v1.4 h0.3 v0.8 h-3 v-0.8 h0.3 v-1.4 h-0.3z" fill="#ff0000"/>
<path d="M162.21,209.9 h3 v0.8 h-0.3 v1.4 h0.3 v0.8 h-3 v-0.8 h0.3 v-1.4 h-0.3z" fill="#ff0000"/>
<path d="M165.19,209.82 h3 v0.8 h-0.3 v1.4 h0.3 v0.8 h-3 v-0.8 h0.3 v-1.4 h-0.3z" fill="#ff0000"/>
<path d="M168.17,209.75 h3 v0.8 h-0.3 v1.4 h0.3 v0.8 h-3 v-0.8 h0.3 v-1.4 h-0.3z" fill="#ff0000"/>
<path d="M171.16,209.67 h3 v0.8 h-0.3 v1.4 h0.3 v0.8 h-3 v-0.8 h0.3 v-1.4 h-0.3z" fill="#ff0000"/>
<rect x="40.3" y="4.3" width="2.4" height="2.4" fill="#ff0000"/>
<line x1="175.6" y1="91" x2="175.6" y2="137" stroke="#ff0000" stroke-width="0.7" stroke-dasharray="1,1.2"/>
<line x1="175.6" y1="157" x2="175.6" y2="215" stroke="#ff0000" stroke-width="0.7" stroke-dasharray="1,1.2"/>
<line x1="175.6" y1="171.5" x2="175.6" y2="215" stroke="#000" stroke-width="0.6" stroke-dasharray="1,1.2"/>
<line x1="174.1" y1="91" x2="177.1" y2="91" stroke="#ff0000" stroke-width="0.7" />
<line x1="174.1" y1="137" x2="177.1" y2="137" stroke="#ff0000" stroke-width="0.7" />
<line x1="174.1" y1="157" x2="177.1" y2="157" stroke="#ff0000" stroke-width="0.7" />
<line x1="174.1" y1="180.7" x2="177.1" y2="180.7" stroke="#ff0000" stroke-width="0.7" />
<line x1="174.1" y1="188.8" x2="177.1" y2="188.8" stroke="#ff0000" stroke-width="0.7" />
<line x1="174.1" y1="199" x2="177.1" y2="199" stroke="#ff0000" stroke-width="0.7" />
<line x1="174.1" y1="206" x2="177.1" y2="206" stroke="#ff0000" stroke-width="0.7" />
<line x1="174.1" y1="171.5" x2="177.1" y2="171.5" stroke="#000" stroke-width="0.8" />
<circle cx="175.6" cy="113.7" r="1.3" fill="#ff0000"/>
<circle cx="175.6" cy="168.5" r="1.3" fill="#ff0000"/>
<circle cx="175.6" cy="191.8" r="1.3" fill="#ff0000"/>
<circle cx="175.6" cy="210" r="1.3" fill="#ff0000"/>
<circle cx="175.6" cy="215.3" r="1.6" fill="#000"/>
<text x="38.3" y="10.6" font-family="Liberation Serif" font-size="15" fill="#000" text-anchor="end" font-weight="normal" font-style="normal" >1</text>
<text x="38.3" y="54.3" font-family="Liberation Serif" font-size="15" fill="#000" text-anchor="end" font-weight="normal" font-style="normal" >0.8</text>
<text x="38.3" y="98" font-family="Liberation Serif" font-size="15" fill="#000" text-anchor="end" font-weight="normal" font-style="normal" >0.6</text>
<text x="38.3" y="141.7" font-family="Liberation Serif" font-size="15" fill="#000" text-anchor="end" font-weight="normal" font-style="normal" >0.4</text>
<text x="38.3" y="185.4" font-family="Liberation Serif" font-size="15" fill="#000" text-anchor="end" font-weight="normal" font-style="normal" >0.2</text>
<text x="38.3" y="229.1" font-family="Liberation Serif" font-size="15" fill="#000" text-anchor="end" font-weight="normal" font-style="normal" >0</text>
<text x="41.5" y="236.9" font-family="Liberation Serif" font-size="15" fill="#000" text-anchor="middle" font-weight="normal" font-style="normal" >0</text>
<text x="86.21" y="236.9" font-family="Liberation Serif" font-size="15" fill="#000" text-anchor="middle" font-weight="normal" font-style="normal" >0.06</text>
<text x="130.92" y="236.9" font-family="Liberation Serif" font-size="15" fill="#000" text-anchor="middle" font-weight="normal" font-style="normal" >0.12</text>
<text x="175.64" y="236.9" font-family="Liberation Serif" font-size="15" fill="#000" text-anchor="middle" font-weight="normal" font-style="normal" >0.18</text>
<text x="220.35" y="236.9" font-family="Liberation Serif" font-size="15" fill="#000" text-anchor="middle" font-weight="normal" font-style="normal" >0.24</text>
<text x="265.06" y="236.9" font-family="Liberation Serif" font-size="15" fill="#000" text-anchor="middle" font-weight="normal" font-style="normal" >0.3</text>
<text x="309.77" y="236.9" font-family="Liberation Serif" font-size="15" fill="#000" text-anchor="middle" font-weight="normal" font-style="normal" >0.36</text>
<text x="354.48" y="236.9" font-family="Liberation Serif" font-size="15" fill="#000" text-anchor="middle" font-weight="normal" font-style="normal" >0.42</text>
<text transform="translate(11.6,112.2) rotate(-90)" font-family="Liberation Sans" font-size="15.2" text-anchor="middle" fill="#000">Mean population (±SD)</text>
<text x="191" y="253.5" font-family="Liberation Serif" font-size="19" fill="#000" text-anchor="start" font-weight="normal" font-style="italic" >&#956;</text>
<text x="202.5" y="261.5" font-family="Liberation Sans" font-size="13" fill="#000" text-anchor="start" font-weight="normal" font-style="normal" >b</text>
<text x="109" y="32" font-family="Liberation Sans" font-size="14.6" fill="#f8321a" text-anchor="start" font-weight="normal" font-style="normal" >cancer</text>
<text x="58.5" y="37.8" font-family="Liberation Sans" font-size="13.7" fill="#f8321a" text-anchor="start" font-weight="normal" font-style="normal" >100</text>
<text x="133.5" y="106.6" font-family="Liberation Sans" font-size="13.7" fill="#f8321a" text-anchor="start" font-weight="normal" font-style="normal" >110</text>
<text x="121" y="193.7" font-family="Liberation Sans" font-size="13.7" fill="#f8321a" text-anchor="start" font-weight="normal" font-style="normal" >111</text>
<text x="152.5" y="207.5" font-family="Liberation Sans" font-size="13.7" fill="#f8321a" text-anchor="start" font-weight="normal" font-style="normal" >101</text>
<text x="248.5" y="202.5" font-family="Liberation Sans" font-size="14.6" fill="#000" text-anchor="start" font-weight="normal" font-style="normal" >healthy</text>
<rect x="197.5" y="18.5" width="148" height="139.5" fill="#fff"/>
<rect x="197.5" y="18.5" width="148" height="139.5" fill="none" stroke="#777" stroke-width="1"/>
<line x1="197.5" y1="158" x2="197.5" y2="154.5" stroke="#555" stroke-width="0.8" />
<line x1="197.5" y1="18.5" x2="197.5" y2="22" stroke="#555" stroke-width="0.8" />
<line x1="218.7" y1="158" x2="218.7" y2="156.2" stroke="#555" stroke-width="0.8" />
<line x1="218.7" y1="18.5" x2="218.7" y2="20.3" stroke="#555" stroke-width="0.8" />
<line x1="239.9" y1="158" x2="239.9" y2="154.5" stroke="#555" stroke-width="0.8" />
<line x1="239.9" y1="18.5" x2="239.9" y2="22" stroke="#555" stroke-width="0.8" />
<line x1="261.1" y1="158" x2="261.1" y2="156.2" stroke="#555" stroke-width="0.8" />
<line x1="261.1" y1="18.5" x2="261.1" y2="20.3" stroke="#555" stroke-width="0.8" />
<line x1="282.3" y1="158" x2="282.3" y2="154.5" stroke="#555" stroke-width="0.8" />
<line x1="282.3" y1="18.5" x2="282.3" y2="22" stroke="#555" stroke-width="0.8" />
<line x1="303.5" y1="158" x2="303.5" y2="156.2" stroke="#555" stroke-width="0.8" />
<line x1="303.5" y1="18.5" x2="303.5" y2="20.3" stroke="#555" stroke-width="0.8" />
<line x1="324.71" y1="158" x2="324.71" y2="154.5" stroke="#555" stroke-width="0.8" />
<line x1="324.71" y1="18.5" x2="324.71" y2="22" stroke="#555" stroke-width="0.8" />
<line x1="197.5" y1="158" x2="201" y2="158" stroke="#555" stroke-width="0.8" />
<line x1="197.5" y1="123.1" x2="199.3" y2="123.1" stroke="#555" stroke-width="0.8" />
<line x1="197.5" y1="88.2" x2="201" y2="88.2" stroke="#555" stroke-width="0.8" />
<line x1="197.5" y1="53.3" x2="199.3" y2="53.3" stroke="#555" stroke-width="0.8" />
<line x1="197.5" y1="18.4" x2="201" y2="18.4" stroke="#555" stroke-width="0.8" />
<circle cx="197.5" cy="158" r="1.3" fill="#000"/>
<circle cx="200.33" cy="158" r="1.3" fill="#000"/>
<circle cx="203.15" cy="158" r="1.3" fill="#000"/>
<circle cx="205.98" cy="158" r="1.3" fill="#000"/>
<circle cx="208.81" cy="158" r="1.3" fill="#000"/>
<circle cx="211.63" cy="158" r="1.3" fill="#000"/>
<circle cx="214.46" cy="158" r="1.3" fill="#000"/>
<circle cx="217.29" cy="158" r="1.3" fill="#000"/>
<circle cx="220.11" cy="158" r="1.3" fill="#000"/>
<circle cx="222.94" cy="158" r="1.3" fill="#000"/>
<circle cx="225.77" cy="158" r="1.3" fill="#000"/>
<circle cx="228.59" cy="158" r="1.3" fill="#000"/>
<circle cx="231.42" cy="158" r="1.3" fill="#000"/>
<circle cx="234.25" cy="158" r="1.3" fill="#000"/>
<circle cx="237.08" cy="158" r="1.3" fill="#000"/>
<circle cx="239.9" cy="158" r="1.3" fill="#000"/>
<circle cx="242.73" cy="158" r="1.3" fill="#000"/>
<circle cx="245.56" cy="158" r="1.3" fill="#000"/>
<circle cx="248.38" cy="158" r="1.3" fill="#000"/>
<circle cx="251.21" cy="158" r="1.3" fill="#000"/>
<circle cx="254.04" cy="158" r="1.3" fill="#000"/>
<circle cx="256.86" cy="158" r="1.3" fill="#000"/>
<circle cx="259.69" cy="158" r="1.3" fill="#000"/>
<circle cx="262.52" cy="158" r="1.3" fill="#000"/>
<circle cx="265.34" cy="158" r="1.3" fill="#000"/>
<circle cx="268.17" cy="158" r="1.3" fill="#000"/>
<circle cx="271" cy="158" r="1.3" fill="#000"/>
<circle cx="273.82" cy="158" r="1.3" fill="#000"/>
<circle cx="276.65" cy="158" r="1.3" fill="#000"/>
<circle cx="279.48" cy="158" r="1.3" fill="#000"/>
<circle cx="282.3" cy="158" r="1.3" fill="#000"/>
<circle cx="285.13" cy="158" r="1.3" fill="#000"/>
<circle cx="287.96" cy="158" r="1.3" fill="#000"/>
<circle cx="290.78" cy="158" r="1.3" fill="#000"/>
<circle cx="293.61" cy="158" r="1.3" fill="#000"/>
<circle cx="296.44" cy="158" r="1.3" fill="#000"/>
<circle cx="299.26" cy="158" r="1.3" fill="#000"/>
<circle cx="302.09" cy="158" r="1.3" fill="#000"/>
<circle cx="304.92" cy="158" r="1.3" fill="#000"/>
<circle cx="307.75" cy="158" r="1.3" fill="#000"/>
<circle cx="310.57" cy="158" r="1.3" fill="#000"/>
<circle cx="313.4" cy="158" r="1.3" fill="#000"/>
<circle cx="316.23" cy="158" r="1.3" fill="#000"/>
<circle cx="319.05" cy="158" r="1.3" fill="#000"/>
<circle cx="321.88" cy="158" r="1.3" fill="#000"/>
<circle cx="324.71" cy="158" r="1.3" fill="#000"/>
<circle cx="327.53" cy="158" r="1.3" fill="#000"/>
<circle cx="330.36" cy="158" r="1.3" fill="#000"/>
<circle cx="333.19" cy="158" r="1.3" fill="#000"/>
<circle cx="336.01" cy="158" r="1.3" fill="#000"/>
<circle cx="338.84" cy="158" r="1.3" fill="#000"/>
<circle cx="341.67" cy="158" r="1.3" fill="#000"/>
<circle cx="344.49" cy="158" r="1.3" fill="#000"/>
<circle cx="197.5" cy="158" r="0.9" fill="#c00"/>
<circle cx="200.33" cy="158" r="0.9" fill="#c00"/>
<circle cx="203.15" cy="158" r="0.9" fill="#c00"/>
<circle cx="205.98" cy="158" r="0.9" fill="#c00"/>
<circle cx="208.81" cy="158" r="0.9" fill="#c00"/>
<circle cx="211.63" cy="158" r="0.9" fill="#c00"/>
<circle cx="214.46" cy="158" r="0.9" fill="#c00"/>
<circle cx="217.29" cy="158" r="0.9" fill="#c00"/>
<circle cx="220.11" cy="158" r="0.9" fill="#c00"/>
<circle cx="222.94" cy="158" r="0.9" fill="#c00"/>
<circle cx="225.77" cy="158" r="0.9" fill="#c00"/>
<circle cx="228.59" cy="158" r="0.9" fill="#c00"/>
<circle cx="231.42" cy="158" r="0.9" fill="#c00"/>
<circle cx="234.25" cy="158" r="0.9" fill="#c00"/>
<circle cx="237.08" cy="158" r="0.9" fill="#c00"/>
<circle cx="239.9" cy="158" r="0.9" fill="#c00"/>
<circle cx="242.73" cy="158" r="0.9" fill="#c00"/>
<circle cx="245.56" cy="158" r="0.9" fill="#c00"/>
<circle cx="248.38" cy="158" r="0.9" fill="#c00"/>
<circle cx="251.21" cy="158" r="0.9" fill="#c00"/>
<circle cx="254.04" cy="158" r="0.9" fill="#c00"/>
<circle cx="256.86" cy="158" r="0.9" fill="#c00"/>
<circle cx="259.69" cy="158" r="0.9" fill="#c00"/>
<circle cx="262.52" cy="158" r="0.9" fill="#c00"/>
<circle cx="265.34" cy="158" r="0.9" fill="#c00"/>
<circle cx="268.17" cy="158" r="0.9" fill="#c00"/>
<circle cx="271" cy="158" r="0.9" fill="#c00"/>
<circle cx="273.82" cy="158" r="0.9" fill="#c00"/>
<circle cx="276.65" cy="158" r="0.9" fill="#c00"/>
<circle cx="279.48" cy="158" r="0.9" fill="#c00"/>
<circle cx="282.3" cy="158" r="0.9" fill="#c00"/>
<circle cx="285.13" cy="158" r="0.9" fill="#c00"/>
<circle cx="287.96" cy="158" r="0.9" fill="#c00"/>
<circle cx="290.78" cy="158" r="0.9" fill="#c00"/>
<circle cx="293.61" cy="158" r="0.9" fill="#c00"/>
<circle cx="296.44" cy="158" r="0.9" fill="#c00"/>
<circle cx="299.26" cy="158" r="0.9" fill="#c00"/>
<circle cx="302.09" cy="158" r="0.9" fill="#c00"/>
<circle cx="304.92" cy="158" r="0.9" fill="#c00"/>
<circle cx="307.75" cy="158" r="0.9" fill="#c00"/>
<circle cx="310.57" cy="158" r="0.9" fill="#c00"/>
<circle cx="313.4" cy="158" r="0.9" fill="#c00"/>
<circle cx="316.23" cy="158" r="0.9" fill="#c00"/>
<circle cx="319.05" cy="158" r="0.9" fill="#c00"/>
<circle cx="321.88" cy="158" r="0.9" fill="#c00"/>
<circle cx="324.71" cy="158" r="0.9" fill="#c00"/>
<circle cx="327.53" cy="158" r="0.9" fill="#c00"/>
<circle cx="330.36" cy="158" r="0.9" fill="#c00"/>
<circle cx="333.19" cy="158" r="0.9" fill="#c00"/>
<circle cx="336.01" cy="158" r="0.9" fill="#c00"/>
<circle cx="338.84" cy="158" r="0.9" fill="#c00"/>
<circle cx="341.67" cy="158" r="0.9" fill="#c00"/>
<circle cx="344.49" cy="158" r="0.9" fill="#c00"/>
<circle cx="327.53" cy="18.5" r="1.5" fill="#000"/>
<circle cx="330.36" cy="18.5" r="1.5" fill="#000"/>
<circle cx="333.19" cy="18.5" r="1.5" fill="#000"/>
<circle cx="336.01" cy="18.5" r="1.5" fill="#000"/>
<circle cx="338.84" cy="18.5" r="1.5" fill="#000"/>
<circle cx="341.67" cy="18.5" r="1.5" fill="#000"/>
<circle cx="344.49" cy="18.5" r="1.5" fill="#000"/>
<circle cx="200.33" cy="24.82" r="1.25" fill="#ff0000"/>
<circle cx="203.15" cy="30.55" r="1.25" fill="#ff0000"/>
<circle cx="205.98" cy="35.99" r="1.25" fill="#ff0000"/>
<circle cx="208.81" cy="41.15" r="1.25" fill="#ff0000"/>
<circle cx="211.63" cy="45.62" r="1.25" fill="#ff0000"/>
<circle cx="214.46" cy="50.09" r="1.25" fill="#ff0000"/>
<circle cx="217.29" cy="54.28" r="1.25" fill="#ff0000"/>
<circle cx="220.11" cy="58.19" r="1.25" fill="#ff0000"/>
<circle cx="222.94" cy="61.68" r="1.25" fill="#ff0000"/>
<circle cx="225.77" cy="65.31" r="1.25" fill="#ff0000"/>
<circle cx="228.59" cy="68.8" r="1.25" fill="#ff0000"/>
<circle cx="231.42" cy="71.87" r="1.25" fill="#ff0000"/>
<circle cx="234.25" cy="74.94" r="1.25" fill="#ff0000"/>
<circle cx="237.08" cy="77.49" r="1.25" fill="#ff0000"/>
<circle cx="239.9" cy="79.82" r="1.25" fill="#ff0000"/>
<circle cx="242.73" cy="82.14" r="1.25" fill="#ff0000"/>
<circle cx="245.56" cy="84.36" r="1.25" fill="#ff0000"/>
<circle cx="248.38" cy="86.43" r="1.25" fill="#ff0000"/>
<circle cx="251.21" cy="88.41" r="1.25" fill="#ff0000"/>
<circle cx="254.04" cy="90.33" r="1.25" fill="#ff0000"/>
<circle cx="256.86" cy="92.19" r="1.25" fill="#ff0000"/>
<circle cx="259.69" cy="93.97" r="1.25" fill="#ff0000"/>
<circle cx="262.52" cy="95.68" r="1.25" fill="#ff0000"/>
<circle cx="265.34" cy="97.3" r="1.25" fill="#ff0000"/>
<circle cx="268.17" cy="98.83" r="1.25" fill="#ff0000"/>
<circle cx="271" cy="100.29" r="1.25" fill="#ff0000"/>
<circle cx="273.82" cy="101.72" r="1.25" fill="#ff0000"/>
<circle cx="276.65" cy="103.16" r="1.25" fill="#ff0000"/>
<circle cx="279.48" cy="104.61" r="1.25" fill="#ff0000"/>
<circle cx="282.3" cy="106.02" r="1.25" fill="#ff0000"/>
<circle cx="285.13" cy="107.38" r="1.25" fill="#ff0000"/>
<circle cx="287.96" cy="108.65" r="1.25" fill="#ff0000"/>
<circle cx="290.78" cy="109.85" r="1.25" fill="#ff0000"/>
<circle cx="293.61" cy="111" r="1.25" fill="#ff0000"/>
<circle cx="296.44" cy="112.1" r="1.25" fill="#ff0000"/>
<circle cx="299.26" cy="113.15" r="1.25" fill="#ff0000"/>
<circle cx="302.09" cy="114.16" r="1.25" fill="#ff0000"/>
<circle cx="304.92" cy="115.13" r="1.25" fill="#ff0000"/>
<circle cx="307.75" cy="116.08" r="1.25" fill="#ff0000"/>
<circle cx="310.57" cy="117" r="1.25" fill="#ff0000"/>
<circle cx="313.4" cy="117.9" r="1.25" fill="#ff0000"/>
<circle cx="316.23" cy="118.78" r="1.25" fill="#ff0000"/>
<circle cx="319.05" cy="119.64" r="1.25" fill="#ff0000"/>
<circle cx="321.88" cy="120.47" r="1.25" fill="#ff0000"/>
<circle cx="324.71" cy="121.29" r="1.25" fill="#ff0000"/>
<circle cx="200.33" cy="152.83" r="1.25" fill="#ff0000"/>
<circle cx="203.15" cy="147.53" r="1.25" fill="#ff0000"/>
<circle cx="205.98" cy="143.06" r="1.25" fill="#ff0000"/>
<circle cx="208.81" cy="138.87" r="1.25" fill="#ff0000"/>
<circle cx="211.63" cy="135.11" r="1.25" fill="#ff0000"/>
<circle cx="214.46" cy="131.62" r="1.25" fill="#ff0000"/>
<circle cx="217.29" cy="128.27" r="1.25" fill="#ff0000"/>
<circle cx="220.11" cy="125.05" r="1.25" fill="#ff0000"/>
<circle cx="222.94" cy="122" r="1.25" fill="#ff0000"/>
<circle cx="225.77" cy="119.04" r="1.25" fill="#ff0000"/>
<circle cx="228.59" cy="116.34" r="1.25" fill="#ff0000"/>
<circle cx="231.42" cy="114.04" r="1.25" fill="#ff0000"/>
<circle cx="234.25" cy="112.06" r="1.25" fill="#ff0000"/>
<circle cx="237.08" cy="110.23" r="1.25" fill="#ff0000"/>
<circle cx="239.9" cy="108.44" r="1.25" fill="#ff0000"/>
<circle cx="242.73" cy="106.62" r="1.25" fill="#ff0000"/>
<circle cx="245.56" cy="104.91" r="1.25" fill="#ff0000"/>
<circle cx="248.38" cy="103.38" r="1.25" fill="#ff0000"/>
<circle cx="251.21" cy="101.91" r="1.25" fill="#ff0000"/>
<circle cx="254.04" cy="100.52" r="1.25" fill="#ff0000"/>
<circle cx="256.86" cy="99.19" r="1.25" fill="#ff0000"/>
<circle cx="259.69" cy="97.93" r="1.25" fill="#ff0000"/>
<circle cx="262.52" cy="96.73" r="1.25" fill="#ff0000"/>
<circle cx="265.34" cy="95.59" r="1.25" fill="#ff0000"/>
<circle cx="268.17" cy="94.5" r="1.25" fill="#ff0000"/>
<circle cx="271" cy="93.49" r="1.25" fill="#ff0000"/>
<circle cx="273.82" cy="92.55" r="1.25" fill="#ff0000"/>
<circle cx="276.65" cy="91.69" r="1.25" fill="#ff0000"/>
<circle cx="279.48" cy="90.9" r="1.25" fill="#ff0000"/>
<circle cx="282.3" cy="90.16" r="1.25" fill="#ff0000"/>
<circle cx="285.13" cy="89.49" r="1.25" fill="#ff0000"/>
<circle cx="287.96" cy="88.88" r="1.25" fill="#ff0000"/>
<circle cx="290.78" cy="88.3" r="1.25" fill="#ff0000"/>
<circle cx="293.61" cy="87.78" r="1.25" fill="#ff0000"/>
<circle cx="296.44" cy="87.3" r="1.25" fill="#ff0000"/>
<circle cx="299.26" cy="86.88" r="1.25" fill="#ff0000"/>
<circle cx="302.09" cy="86.48" r="1.25" fill="#ff0000"/>
<circle cx="304.92" cy="86.12" r="1.25" fill="#ff0000"/>
<circle cx="307.75" cy="85.82" r="1.25" fill="#ff0000"/>
<circle cx="310.57" cy="85.57" r="1.25" fill="#ff0000"/>
<circle cx="313.4" cy="85.34" r="1.25" fill="#ff0000"/>
<circle cx="316.23" cy="85.14" r="1.25" fill="#ff0000"/>
<circle cx="319.05" cy="84.96" r="1.25" fill="#ff0000"/>
<circle cx="321.88" cy="84.81" r="1.25" fill="#ff0000"/>
<circle cx="324.71" cy="84.71" r="1.25" fill="#ff0000"/>
<circle cx="200.33" cy="157.64" r="1.25" fill="#ff0000"/>
<circle cx="203.15" cy="157.27" r="1.25" fill="#ff0000"/>
<circle cx="205.98" cy="156.9" r="1.25" fill="#ff0000"/>
<circle cx="208.81" cy="156.53" r="1.25" fill="#ff0000"/>
<circle cx="211.63" cy="156.15" r="1.25" fill="#ff0000"/>
<circle cx="214.46" cy="155.78" r="1.25" fill="#ff0000"/>
<circle cx="217.29" cy="155.4" r="1.25" fill="#ff0000"/>
<circle cx="220.11" cy="155.02" r="1.25" fill="#ff0000"/>
<circle cx="222.94" cy="154.64" r="1.25" fill="#ff0000"/>
<circle cx="225.77" cy="154.27" r="1.25" fill="#ff0000"/>
<circle cx="228.59" cy="153.89" r="1.25" fill="#ff0000"/>
<circle cx="231.42" cy="153.5" r="1.25" fill="#ff0000"/>
<circle cx="234.25" cy="153.11" r="1.25" fill="#ff0000"/>
<circle cx="237.08" cy="152.7" r="1.25" fill="#ff0000"/>
<circle cx="239.9" cy="152.28" r="1.25" fill="#ff0000"/>
<circle cx="242.73" cy="151.83" r="1.25" fill="#ff0000"/>
<circle cx="245.56" cy="151.35" r="1.25" fill="#ff0000"/>
<circle cx="248.38" cy="150.86" r="1.25" fill="#ff0000"/>
<circle cx="251.21" cy="150.35" r="1.25" fill="#ff0000"/>
<circle cx="254.04" cy="149.84" r="1.25" fill="#ff0000"/>
<circle cx="256.86" cy="149.32" r="1.25" fill="#ff0000"/>
<circle cx="259.69" cy="148.81" r="1.25" fill="#ff0000"/>
<circle cx="262.52" cy="148.3" r="1.25" fill="#ff0000"/>
<circle cx="265.34" cy="147.81" r="1.25" fill="#ff0000"/>
<circle cx="268.17" cy="147.33" r="1.25" fill="#ff0000"/>
<circle cx="271" cy="146.86" r="1.25" fill="#ff0000"/>
<circle cx="273.82" cy="146.4" r="1.25" fill="#ff0000"/>
<circle cx="276.65" cy="145.95" r="1.25" fill="#ff0000"/>
<circle cx="279.48" cy="145.49" r="1.25" fill="#ff0000"/>
<circle cx="282.3" cy="145.04" r="1.25" fill="#ff0000"/>
<circle cx="285.13" cy="144.58" r="1.25" fill="#ff0000"/>
<circle cx="287.96" cy="144.11" r="1.25" fill="#ff0000"/>
<circle cx="290.78" cy="143.63" r="1.25" fill="#ff0000"/>
<circle cx="293.61" cy="143.15" r="1.25" fill="#ff0000"/>
<circle cx="296.44" cy="142.64" r="1.25" fill="#ff0000"/>
<circle cx="299.26" cy="142.13" r="1.25" fill="#ff0000"/>
<circle cx="302.09" cy="141.6" r="1.25" fill="#ff0000"/>
<circle cx="304.92" cy="141.07" r="1.25" fill="#ff0000"/>
<circle cx="307.75" cy="140.52" r="1.25" fill="#ff0000"/>
<circle cx="310.57" cy="139.96" r="1.25" fill="#ff0000"/>
<circle cx="313.4" cy="139.4" r="1.25" fill="#ff0000"/>
<circle cx="316.23" cy="138.83" r="1.25" fill="#ff0000"/>
<circle cx="319.05" cy="138.25" r="1.25" fill="#ff0000"/>
<circle cx="321.88" cy="137.66" r="1.25" fill="#ff0000"/>
<circle cx="324.71" cy="137.06" r="1.25" fill="#ff0000"/>
<circle cx="200.33" cy="157.57" r="1.25" fill="#ff0000"/>
<circle cx="203.15" cy="157.15" r="1.25" fill="#ff0000"/>
<circle cx="205.98" cy="156.74" r="1.25" fill="#ff0000"/>
<circle cx="208.81" cy="156.34" r="1.25" fill="#ff0000"/>
<circle cx="211.63" cy="155.96" r="1.25" fill="#ff0000"/>
<circle cx="214.46" cy="155.59" r="1.25" fill="#ff0000"/>
<circle cx="217.29" cy="155.24" r="1.25" fill="#ff0000"/>
<circle cx="220.11" cy="154.9" r="1.25" fill="#ff0000"/>
<circle cx="222.94" cy="154.56" r="1.25" fill="#ff0000"/>
<circle cx="225.77" cy="154.24" r="1.25" fill="#ff0000"/>
<circle cx="228.59" cy="153.92" r="1.25" fill="#ff0000"/>
<circle cx="231.42" cy="153.61" r="1.25" fill="#ff0000"/>
<circle cx="234.25" cy="153.33" r="1.25" fill="#ff0000"/>
<circle cx="237.08" cy="153.07" r="1.25" fill="#ff0000"/>
<circle cx="239.9" cy="152.83" r="1.25" fill="#ff0000"/>
<circle cx="242.73" cy="152.62" r="1.25" fill="#ff0000"/>
<circle cx="245.56" cy="152.42" r="1.25" fill="#ff0000"/>
<circle cx="248.38" cy="152.22" r="1.25" fill="#ff0000"/>
<circle cx="251.21" cy="152.04" r="1.25" fill="#ff0000"/>
<circle cx="254.04" cy="151.87" r="1.25" fill="#ff0000"/>
<circle cx="256.86" cy="151.71" r="1.25" fill="#ff0000"/>
<circle cx="259.69" cy="151.56" r="1.25" fill="#ff0000"/>
<circle cx="262.52" cy="151.42" r="1.25" fill="#ff0000"/>
<circle cx="265.34" cy="151.3" r="1.25" fill="#ff0000"/>
<circle cx="268.17" cy="151.18" r="1.25" fill="#ff0000"/>
<circle cx="271" cy="151.08" r="1.25" fill="#ff0000"/>
<circle cx="273.82" cy="150.97" r="1.25" fill="#ff0000"/>
<circle cx="276.65" cy="150.88" r="1.25" fill="#ff0000"/>
<circle cx="279.48" cy="150.79" r="1.25" fill="#ff0000"/>
<circle cx="282.3" cy="150.7" r="1.25" fill="#ff0000"/>
<circle cx="285.13" cy="150.62" r="1.25" fill="#ff0000"/>
<circle cx="287.96" cy="150.54" r="1.25" fill="#ff0000"/>
<circle cx="290.78" cy="150.46" r="1.25" fill="#ff0000"/>
<circle cx="293.61" cy="150.39" r="1.25" fill="#ff0000"/>
<circle cx="296.44" cy="150.32" r="1.25" fill="#ff0000"/>
<circle cx="299.26" cy="150.25" r="1.25" fill="#ff0000"/>
<circle cx="302.09" cy="150.19" r="1.25" fill="#ff0000"/>
<circle cx="304.92" cy="150.13" r="1.25" fill="#ff0000"/>
<circle cx="307.75" cy="150.07" r="1.25" fill="#ff0000"/>
<circle cx="310.57" cy="150.01" r="1.25" fill="#ff0000"/>
<circle cx="313.4" cy="149.95" r="1.25" fill="#ff0000"/>
<circle cx="316.23" cy="149.9" r="1.25" fill="#ff0000"/>
<circle cx="319.05" cy="149.85" r="1.25" fill="#ff0000"/>
<circle cx="321.88" cy="149.81" r="1.25" fill="#ff0000"/>
<circle cx="324.71" cy="149.76" r="1.25" fill="#ff0000"/>
<circle cx="197.5" cy="18.5" r="1.2" fill="#ff0000"/>
<text x="194.5" y="21.5" font-family="Liberation Serif" font-size="9" fill="#000" text-anchor="end" font-weight="normal" font-style="normal" >1</text>
<text x="193" y="91" font-family="Liberation Serif" font-size="9" fill="#000" text-anchor="end" font-weight="normal" font-style="normal" >0.5</text>
<text x="194.5" y="161" font-family="Liberation Serif" font-size="9" fill="#000" text-anchor="end" font-weight="normal" font-style="normal" >0</text>
<text x="197.5" y="167.2" font-family="Liberation Serif" font-size="9" fill="#000" text-anchor="middle" font-weight="normal" font-style="normal" >0</text>
<text x="239.9" y="167.2" font-family="Liberation Serif" font-size="9" fill="#000" text-anchor="middle" font-weight="normal" font-style="normal" >0.06</text>
<text x="282.3" y="167.2" font-family="Liberation Serif" font-size="9" fill="#000" text-anchor="middle" font-weight="normal" font-style="normal" >0.12</text>
<text x="324.71" y="167.2" font-family="Liberation Serif" font-size="9" fill="#000" text-anchor="middle" font-weight="normal" font-style="normal" >0.18</text>
<text x="218.5" y="44.3" font-family="Liberation Sans" font-size="12" fill="#f8321a" text-anchor="start" font-weight="normal" font-style="normal" >100</text>
<text x="289.8" y="80.8" font-family="Liberation Sans" font-size="12" fill="#f8321a" text-anchor="start" font-weight="normal" font-style="normal" >110</text>
<text x="278.3" y="137.4" font-family="Liberation Sans" font-size="12" fill="#f8321a" text-anchor="start" font-weight="normal" font-style="normal" >111</text>
<text x="310" y="148" font-family="Liberation Sans" font-size="10" fill="#f8321a" text-anchor="start" font-weight="normal" font-style="normal" >101</text>
<text x="409.5" y="32.3" font-family="Liberation Sans" font-size="14.5" fill="#000" text-anchor="start" font-weight="bold" font-style="normal" >b</text>
<text x="12.3" y="287.2" font-family="Liberation Sans" font-size="14.5" fill="#000" text-anchor="start" font-weight="bold" font-style="normal" >c</text>
<text x="742.5" y="232.2" font-family="Liberation Sans" font-size="14.5" fill="#000" text-anchor="start" font-weight="bold" font-style="normal" >d</text>
<text x="-0.9" y="7.8" font-family="Liberation Sans" font-size="15.5" fill="#000" text-anchor="start" font-weight="bold" font-style="normal" >a</text>
<rect x="427.5" y="49.5" width="136.5" height="95.3" fill="none" stroke="#9a9a9a" stroke-width="0.9"/>
<line x1="495.75" y1="144.8" x2="495.75" y2="141.8" stroke="#9a9a9a" stroke-width="0.7" />
<line x1="495.75" y1="49.5" x2="495.75" y2="52.5" stroke="#9a9a9a" stroke-width="0.7" />
<line x1="461.62" y1="144.8" x2="461.62" y2="143.2" stroke="#9a9a9a" stroke-width="0.7" />
<line x1="461.62" y1="49.5" x2="461.62" y2="51.1" stroke="#9a9a9a" stroke-width="0.7" />
<line x1="529.88" y1="144.8" x2="529.88" y2="143.2" stroke="#9a9a9a" stroke-width="0.7" />
<line x1="529.88" y1="49.5" x2="529.88" y2="51.1" stroke="#9a9a9a" stroke-width="0.7" />
<line x1="427.5" y1="125.74" x2="430.5" y2="125.74" stroke="#9a9a9a" stroke-width="0.7" />
<line x1="564" y1="125.74" x2="561" y2="125.74" stroke="#9a9a9a" stroke-width="0.7" />
<line x1="427.5" y1="106.68" x2="430.5" y2="106.68" stroke="#9a9a9a" stroke-width="0.7" />
<line x1="564" y1="106.68" x2="561" y2="106.68" stroke="#9a9a9a" stroke-width="0.7" />
<line x1="427.5" y1="87.62" x2="430.5" y2="87.62" stroke="#9a9a9a" stroke-width="0.7" />
<line x1="564" y1="87.62" x2="561" y2="87.62" stroke="#9a9a9a" stroke-width="0.7" />
<line x1="427.5" y1="68.56" x2="430.5" y2="68.56" stroke="#9a9a9a" stroke-width="0.7" />
<line x1="564" y1="68.56" x2="561" y2="68.56" stroke="#9a9a9a" stroke-width="0.7" />
<line x1="427.5" y1="135.27" x2="429.1" y2="135.27" stroke="#9a9a9a" stroke-width="0.7" />
<line x1="564" y1="135.27" x2="562.4" y2="135.27" stroke="#9a9a9a" stroke-width="0.7" />
<line x1="427.5" y1="116.21" x2="429.1" y2="116.21" stroke="#9a9a9a" stroke-width="0.7" />
<line x1="564" y1="116.21" x2="562.4" y2="116.21" stroke="#9a9a9a" stroke-width="0.7" />
<line x1="427.5" y1="97.15" x2="429.1" y2="97.15" stroke="#9a9a9a" stroke-width="0.7" />
<line x1="564" y1="97.15" x2="562.4" y2="97.15" stroke="#9a9a9a" stroke-width="0.7" />
<line x1="427.5" y1="78.09" x2="429.1" y2="78.09" stroke="#9a9a9a" stroke-width="0.7" />
<line x1="564" y1="78.09" x2="562.4" y2="78.09" stroke="#9a9a9a" stroke-width="0.7" />
<line x1="427.5" y1="59.03" x2="429.1" y2="59.03" stroke="#9a9a9a" stroke-width="0.7" />
<line x1="564" y1="59.03" x2="562.4" y2="59.03" stroke="#9a9a9a" stroke-width="0.7" />
<text x="425.9" y="146.8" font-family="Liberation Serif" font-size="5.8" fill="#000" text-anchor="end" font-weight="normal" font-style="normal" >0</text>
<text x="425.9" y="127.74" font-family="Liberation Serif" font-size="5.8" fill="#000" text-anchor="end" font-weight="normal" font-style="normal" >0,2</text>
<text x="425.9" y="108.68" font-family="Liberation Serif" font-size="5.8" fill="#000" text-anchor="end" font-weight="normal" font-style="normal" >0,4</text>
<text x="425.9" y="89.62" font-family="Liberation Serif" font-size="5.8" fill="#000" text-anchor="end" font-weight="normal" font-style="normal" >0,6</text>
<text x="425.9" y="70.56" font-family="Liberation Serif" font-size="5.8" fill="#000" text-anchor="end" font-weight="normal" font-style="normal" >0,8</text>
<text x="425.9" y="51.5" font-family="Liberation Serif" font-size="5.8" fill="#000" text-anchor="end" font-weight="normal" font-style="normal" >1</text>
<text x="428.5" y="151.8" font-family="Liberation Serif" font-size="6.6" fill="#000" text-anchor="middle" font-weight="normal" font-style="normal" >0</text>
<text x="495.75" y="151.8" font-family="Liberation Serif" font-size="6.6" fill="#000" text-anchor="middle" font-weight="normal" font-style="normal" >500</text>
<text x="564" y="151.8" font-family="Liberation Serif" font-size="6.6" fill="#000" text-anchor="middle" font-weight="normal" font-style="normal" >1000</text>
<text transform="translate(413.6,98.6) rotate(-90)" font-family="Liberation Sans" font-size="9.4" text-anchor="middle" font-weight="normal" fill="#000" >Populations</text>
<path d="M491.63,158.24 C492.1,156.9 492.98,156.64 494.11,156.64 L498,156.64" fill="none" stroke="#000" stroke-width="0.8" stroke-linecap="round"/><path d="M495.19,156.77 C494.65,159.45 494.11,161.46 493.98,162.6" fill="none" stroke="#000" stroke-width="1.05" stroke-linecap="round"/>
<path d="M427.5,59.98 L427.7,60.38 L427.97,60.89 L428.28,61.5 L428.63,62.18 L429.01,62.91 L429.4,63.68 L429.8,64.46 L430.19,65.23 L430.57,65.96 L430.91,66.65 L431.23,67.3 L431.54,67.92 L431.83,68.53 L432.12,69.14 L432.41,69.75 L432.71,70.37 L433.02,71.01 L433.34,71.68 L433.68,72.39 L434.05,73.13 L434.45,73.92 L434.86,74.72 L435.29,75.55 L435.74,76.41 L436.19,77.29 L436.66,78.19 L437.13,79.12 L437.61,80.08 L438.08,81.07 L438.56,82.09 L439.03,83.14 L439.49,84.2 L439.96,85.29 L440.43,86.41 L440.91,87.55 L441.4,88.73 L441.89,89.94 L442.4,91.19 L442.93,92.48 L443.47,93.81 L444.03,95.2 L444.62,96.65 L445.22,98.15 L445.84,99.69 L446.46,101.26 L447.1,102.85 L447.73,104.44 L448.36,106.03 L448.99,107.61 L449.61,109.16 L450.23,110.72 L450.84,112.31 L451.46,113.93 L452.07,115.55 L452.68,117.16 L453.3,118.75 L453.91,120.29 L454.53,121.77 L455.14,123.18 L455.76,124.5 L456.37,125.74 L456.98,126.9 L457.6,128.02 L458.21,129.07 L458.83,130.08 L459.44,131.04 L460.06,131.95 L460.67,132.84 L461.28,133.69 L461.9,134.51 L462.51,135.3 L463.1,136.04 L463.69,136.75 L464.28,137.42 L464.88,138.05 L465.48,138.64 L466.09,139.2 L466.72,139.73 L467.37,140.23 L468.04,140.7 L468.73,141.14 L469.43,141.53 L470.13,141.89 L470.85,142.21 L471.58,142.51 L472.34,142.77 L473.12,143.02 L473.94,143.25 L474.79,143.46 L475.68,143.66 L476.6,143.84 L477.53,143.99 L478.48,144.11 L479.46,144.22 L480.47,144.31 L481.53,144.38 L482.63,144.44 L483.8,144.5 L485.03,144.55 L486.33,144.61 L487.8,144.66 L489.48,144.7 L491.3,144.73 L493.21,144.75 L495.12,144.76 L496.98,144.77 L498.72,144.78 L500.28,144.79 L501.58,144.79 L502.57,144.8" fill="none" stroke="#222" stroke-width="0.8" stroke-linejoin="round" stroke-linecap="round" />
<path d="M427.5,135.27 L428.59,134.86 L429.68,134.35 L430.78,133.76 L431.87,133.11 L432.96,132.41 L434.05,131.58 L435.14,130.61 L436.24,129.58 L437.33,128.6 L438.42,127.71 L439.51,126.86 L440.6,126.03 L441.7,125.2 L442.79,124.35 L443.88,123.45 L444.97,122.48 L446.06,121.41 L447.16,120.15 L448.25,118.77 L449.34,117.38 L450.43,116.08 L451.52,114.92 L452.62,113.75 L453.71,112.64 L454.8,111.68 L455.89,110.94 L456.98,110.44 L458.08,110.06 L459.17,109.73 L460.26,109.43 L461.35,109.18 L462.44,108.97 L463.54,108.78 L464.63,108.6 L465.72,108.43 L466.81,108.3 L467.9,108.22 L469,107.88 L470.09,108.24 L471.18,108.68 L472.27,108.03 L473.36,108.33 L474.46,108.73 L475.55,108.42 L476.64,108.43 L477.73,108.52 L478.82,108.28 L479.92,108.94 L481.01,108.4 L482.1,108.06 L483.19,108.15 L484.28,108.12 L485.38,108.16 L486.47,108.11 L487.56,108.91 L488.65,108.4 L489.74,109.22 L490.84,108.91 L491.93,109.33 L493.02,108.52 L494.11,108.47 L495.2,108.94 L496.3,108.4 L497.39,109.12 L498.48,108.9 L499.57,108.93 L500.66,109.3 L501.76,108.89 L502.85,108.48 L503.94,109.35 L505.03,108.82 L506.12,109.14 L507.22,108.6 L508.31,108.99 L509.4,108.95 L510.49,108.98 L511.58,109.1 L512.68,109.59 L513.77,108.8 L514.86,109.6 L515.95,109.15 L517.04,109.05 L518.14,109.48 L519.23,109.2 L520.32,108.91 L521.41,109.26 L522.5,109.51 L523.6,110.09 L524.69,109.53 L525.78,109.42 L526.87,109.4 L527.96,109.53 L529.06,109.14 L530.15,109.41 L531.24,109.28 L532.33,109.05 L533.42,109.49 L534.52,109.33 L535.61,108.62 L536.7,108.99 L537.79,109.6 L538.88,109.25 L539.98,109.06 L541.07,108.87 L542.16,109.17 L543.25,109.36 L544.34,109.41 L545.44,109.01 L546.53,109.1 L547.62,109.33 L548.71,109.23 L549.8,109.28 L550.9,108.94 L551.99,109.34 L553.08,108.99 L554.17,108.87 L555.26,108.96 L556.36,109.33 L557.45,108.69 L558.54,109.25 L559.63,108.92 L560.72,109.24 L561.82,109.51 L562.91,108.92 L564,108.89" fill="none" stroke="#ff2020" stroke-width="0.9" stroke-linejoin="round" stroke-linecap="round" />
<path d="M427.5,144.8 L428.59,143.53 L429.68,142.28 L430.78,141.06 L431.87,139.87 L432.96,138.7 L434.05,137.57 L435.14,136.48 L436.24,135.41 L437.33,134.36 L438.42,133.3 L439.51,132.22 L440.6,131.13 L441.7,130.03 L442.79,128.93 L443.88,127.82 L444.97,126.72 L446.06,125.62 L447.16,124.54 L448.25,123.48 L449.34,122.39 L450.43,121.24 L451.52,119.98 L452.62,118.56 L453.71,117.13 L454.8,115.79 L455.89,114.59 L456.98,113.44 L458.08,112.38 L459.17,111.45 L460.26,110.62 L461.35,109.87 L462.44,109.2 L463.54,108.65 L464.63,108.21 L465.72,107.83 L466.81,107.41 L467.9,106.88 L469,105.78 L470.09,105.67 L471.18,105.31 L472.27,104.17 L473.36,104.09 L474.46,103.28 L475.55,102.69 L476.64,102.55 L477.73,102.11 L478.82,101.75 L479.92,101.31 L481.01,101.26 L482.1,100.9 L483.19,100.46 L484.28,100.06 L485.38,99.99 L486.47,99.64 L487.56,99.71 L488.65,99.84 L489.74,99.68 L490.84,99.97 L491.93,99.72 L493.02,99.69 L494.11,99.41 L495.2,99.3 L496.3,99.5 L497.39,99.48 L498.48,99.64 L499.57,99.34 L500.66,99.25 L501.76,99.2 L502.85,99.42 L503.94,98.88 L505.03,99.02 L506.12,99.26 L507.22,99.34 L508.31,99.3 L509.4,99.21 L510.49,99.23 L511.58,99.13 L512.68,99.08 L513.77,98.96 L514.86,99 L515.95,99.23 L517.04,99.14 L518.14,99.28 L519.23,99.32 L520.32,98.84 L521.41,99.29 L522.5,98.82 L523.6,99.26 L524.69,99.14 L525.78,98.98 L526.87,99.18 L527.96,99.11 L529.06,99.23 L530.15,99.27 L531.24,99.21 L532.33,99.3 L533.42,98.86 L534.52,99.2 L535.61,98.84 L536.7,99.68 L537.79,99.16 L538.88,99.06 L539.98,99.22 L541.07,98.96 L542.16,99.04 L543.25,99.21 L544.34,99.08 L545.44,98.62 L546.53,99.11 L547.62,99.1 L548.71,99.24 L549.8,99.13 L550.9,99.4 L551.99,99.19 L553.08,98.69 L554.17,98.95 L555.26,99.03 L556.36,98.94 L557.45,98.79 L558.54,99.04 L559.63,98.76 L560.72,98.95 L561.82,99.12 L562.91,98.82 L564,99.6" fill="none" stroke="#ff2020" stroke-width="0.9" stroke-linejoin="round" stroke-linecap="round" />
<path d="M427.5,144.8 L428.59,144.64 L429.68,144.48 L430.78,144.31 L431.87,144.15 L432.96,143.98 L434.05,143.82 L435.14,143.65 L436.24,143.48 L437.33,143.31 L438.42,143.14 L439.51,142.96 L440.6,142.79 L441.7,142.62 L442.79,142.44 L443.88,142.26 L444.97,142.08 L446.06,141.89 L447.16,141.71 L448.25,141.52 L449.34,141.34 L450.43,141.15 L451.52,140.96 L452.62,140.78 L453.71,140.6 L454.8,140.42 L455.89,140.24 L456.98,140.06 L458.08,139.88 L459.17,139.71 L460.26,139.53 L461.35,139.35 L462.44,139.17 L463.54,138.99 L464.63,138.79 L465.72,138.59 L466.81,138.39 L467.9,138.21 L469,137.78 L470.09,138.06 L471.18,137.82 L472.27,137.74 L473.36,137.62 L474.46,137.58 L475.55,137.2 L476.64,137.33 L477.73,136.87 L478.82,136.88 L479.92,137.09 L481.01,137.02 L482.1,136.91 L483.19,136.57 L484.28,136.84 L485.38,136.89 L486.47,136.65 L487.56,136.55 L488.65,136.66 L489.74,136.3 L490.84,136.46 L491.93,136.4 L493.02,136.57 L494.11,136.43 L495.2,136.44 L496.3,136.74 L497.39,136.37 L498.48,136.66 L499.57,136.41 L500.66,136.61 L501.76,136.11 L502.85,136.34 L503.94,136.27 L505.03,136.25 L506.12,136.57 L507.22,136.71 L508.31,136.42 L509.4,136.25 L510.49,136.36 L511.58,136.26 L512.68,136.23 L513.77,136.58 L514.86,136.32 L515.95,136.08 L517.04,136.44 L518.14,136.65 L519.23,136.39 L520.32,136.42 L521.41,136.29 L522.5,136.48 L523.6,136.33 L524.69,136.66 L525.78,136.22 L526.87,136.11 L527.96,136.15 L529.06,136.55 L530.15,136.29 L531.24,136.76 L532.33,136.29 L533.42,136.34 L534.52,136.47 L535.61,136.28 L536.7,136.31 L537.79,136.19 L538.88,136.31 L539.98,136.29 L541.07,136.6 L542.16,136.49 L543.25,136.39 L544.34,136.28 L545.44,136.32 L546.53,136.11 L547.62,136.45 L548.71,136.36 L549.8,136.28 L550.9,136.35 L551.99,136.25 L553.08,136.4 L554.17,136.12 L555.26,136.36 L556.36,136.16 L557.45,136.32 L558.54,136.11 L559.63,136.52 L560.72,136.24 L561.82,136.38 L562.91,136.29 L564,136.15" fill="none" stroke="#ff2020" stroke-width="0.8" stroke-linejoin="round" stroke-linecap="round" />
<path d="M427.5,144.8 L428.59,144.67 L429.68,144.53 L430.78,144.4 L431.87,144.27 L432.96,144.14 L434.05,144.01 L435.14,143.88 L436.24,143.75 L437.33,143.62 L438.42,143.5 L439.51,143.37 L440.6,143.24 L441.7,143.12 L442.79,142.99 L443.88,142.86 L444.97,142.74 L446.06,142.61 L447.16,142.49 L448.25,142.36 L449.34,142.24 L450.43,142.12 L451.52,142 L452.62,141.88 L453.71,141.77 L454.8,141.66 L455.89,141.54 L456.98,141.43 L458.08,141.32 L459.17,141.21 L460.26,141.11 L461.35,141.01 L462.44,140.93 L463.54,140.86 L464.63,140.79 L465.72,140.73 L466.81,140.67 L467.9,140.61 L469,140.6 L470.09,140.47 L471.18,140.5 L472.27,140.42 L473.36,140.27 L474.46,140.35 L475.55,140.49 L476.64,140.3 L477.73,140.32 L478.82,140.36 L479.92,140.26 L481.01,140.06 L482.1,139.97 L483.19,140.15 L484.28,139.99 L485.38,139.95 L486.47,140.16 L487.56,140.04 L488.65,140.04 L489.74,140.02 L490.84,140.19 L491.93,140.07 L493.02,139.93 L494.11,139.91 L495.2,139.86 L496.3,140.07 L497.39,139.86 L498.48,139.97 L499.57,140.16 L500.66,139.96 L501.76,140.07 L502.85,139.99 L503.94,140.04 L505.03,139.92 L506.12,140.01 L507.22,140.06 L508.31,139.94 L509.4,140.01 L510.49,140.07 L511.58,139.91 L512.68,140.07 L513.77,140.1 L514.86,140.09 L515.95,140.17 L517.04,140.09 L518.14,139.86 L519.23,140.12 L520.32,140.03 L521.41,140.14 L522.5,140.09 L523.6,139.89 L524.69,139.95 L525.78,140.09 L526.87,140.03 L527.96,140.11 L529.06,140.11 L530.15,140.12 L531.24,140.12 L532.33,140 L533.42,139.98 L534.52,139.99 L535.61,140.05 L536.7,140.16 L537.79,140.04 L538.88,140.12 L539.98,139.95 L541.07,139.98 L542.16,139.96 L543.25,140.07 L544.34,140.21 L545.44,139.94 L546.53,139.92 L547.62,140.18 L548.71,140.02 L549.8,139.92 L550.9,140.14 L551.99,139.87 L553.08,140.07 L554.17,140.14 L555.26,139.9 L556.36,140.01 L557.45,140.1 L558.54,139.95 L559.63,140.22 L560.72,139.86 L561.82,140.11 L562.91,140.01 L564,140.07" fill="none" stroke="#ff2020" stroke-width="0.8" stroke-linejoin="round" stroke-linecap="round" />
<path d="M427.5,144.8 L428.59,144.59 L429.68,144.39 L430.78,144.19 L431.87,143.99 L432.96,143.8 L434.05,143.61 L435.14,143.42 L436.24,143.23 L437.33,143.04 L438.42,142.86 L439.51,142.68 L440.6,142.51 L441.7,142.33 L442.79,142.13 L443.88,141.92 L444.97,141.7 L446.06,141.49 L447.16,141.29 L448.25,141.11 L449.34,140.97 L450.43,140.86 L451.52,140.8 L452.62,140.8 L453.71,140.83 L454.8,140.88 L455.89,140.94 L456.98,141.03 L458.08,141.12 L459.17,141.23 L460.26,141.33 L461.35,141.44 L462.44,141.55 L463.54,141.69 L464.63,141.86 L465.72,142.05 L466.81,142.24 L467.9,142.45 L469,142.66 L470.09,142.87 L471.18,143.07 L472.27,143.26 L473.36,143.42 L474.46,143.57 L475.55,143.68 L476.64,143.79 L477.73,143.89 L478.82,143.99 L479.92,144.09 L481.01,144.18 L482.1,144.27 L483.19,144.35 L484.28,144.42 L485.38,144.48 L486.47,144.53 L487.56,144.58 L488.65,144.6 L489.74,144.62 L490.84,144.64 L491.93,144.66 L493.02,144.67 L494.11,144.69 L495.2,144.7 L496.3,144.72 L497.39,144.73 L498.48,144.74 L499.57,144.75 L500.66,144.76 L501.76,144.77 L502.85,144.78 L503.94,144.79 L505.03,144.79 L506.12,144.79 L507.22,144.8 L508.31,144.8 L509.4,144.8" fill="none" stroke="#ff2020" stroke-width="0.7" stroke-linejoin="round" stroke-linecap="round" />
<path d="M427.5,144.8 L428.59,144.7 L429.68,144.6 L430.78,144.51 L431.87,144.41 L432.96,144.32 L434.05,144.22 L435.14,144.13 L436.24,144.04 L437.33,143.96 L438.42,143.87 L439.51,143.78 L440.6,143.7 L441.7,143.61 L442.79,143.52 L443.88,143.42 L444.97,143.32 L446.06,143.22 L447.16,143.13 L448.25,143.04 L449.34,142.97 L450.43,142.92 L451.52,142.9 L452.62,142.9 L453.71,142.91 L454.8,142.94 L455.89,142.98 L456.98,143.03 L458.08,143.09 L459.17,143.14 L460.26,143.2 L461.35,143.26 L462.44,143.32 L463.54,143.38 L464.63,143.46 L465.72,143.54 L466.81,143.62 L467.9,143.7 L469,143.79 L470.09,143.88 L471.18,143.96 L472.27,144.04 L473.36,144.11 L474.46,144.18 L475.55,144.24 L476.64,144.3 L477.73,144.35 L478.82,144.41 L479.92,144.46 L481.01,144.51 L482.1,144.56 L483.19,144.6 L484.28,144.64 L485.38,144.69 L486.47,144.72 L487.56,144.76 L488.65,144.79" fill="none" stroke="#ff2020" stroke-width="0.7" stroke-linejoin="round" stroke-linecap="round" />
<rect x="427.5" y="219.5" width="141.2" height="97.8" fill="none" stroke="#9a9a9a" stroke-width="0.9"/>
<line x1="495.04" y1="317.3" x2="495.04" y2="314.3" stroke="#9a9a9a" stroke-width="0.7" />
<line x1="495.04" y1="219.5" x2="495.04" y2="222.5" stroke="#9a9a9a" stroke-width="0.7" />
<line x1="562.48" y1="317.3" x2="562.48" y2="314.3" stroke="#9a9a9a" stroke-width="0.7" />
<line x1="562.48" y1="219.5" x2="562.48" y2="222.5" stroke="#9a9a9a" stroke-width="0.7" />
<line x1="461.32" y1="317.3" x2="461.32" y2="315.7" stroke="#9a9a9a" stroke-width="0.7" />
<line x1="461.32" y1="219.5" x2="461.32" y2="221.1" stroke="#9a9a9a" stroke-width="0.7" />
<line x1="528.76" y1="317.3" x2="528.76" y2="315.7" stroke="#9a9a9a" stroke-width="0.7" />
<line x1="528.76" y1="219.5" x2="528.76" y2="221.1" stroke="#9a9a9a" stroke-width="0.7" />
<line x1="427.5" y1="309.7" x2="430.5" y2="309.7" stroke="#9a9a9a" stroke-width="0.7" />
<line x1="568.7" y1="309.7" x2="565.7" y2="309.7" stroke="#9a9a9a" stroke-width="0.7" />
<line x1="427.5" y1="294.7" x2="430.5" y2="294.7" stroke="#9a9a9a" stroke-width="0.7" />
<line x1="568.7" y1="294.7" x2="565.7" y2="294.7" stroke="#9a9a9a" stroke-width="0.7" />
<line x1="427.5" y1="279.7" x2="430.5" y2="279.7" stroke="#9a9a9a" stroke-width="0.7" />
<line x1="568.7" y1="279.7" x2="565.7" y2="279.7" stroke="#9a9a9a" stroke-width="0.7" />
<line x1="427.5" y1="264.7" x2="430.5" y2="264.7" stroke="#9a9a9a" stroke-width="0.7" />
<line x1="568.7" y1="264.7" x2="565.7" y2="264.7" stroke="#9a9a9a" stroke-width="0.7" />
<line x1="427.5" y1="249.7" x2="430.5" y2="249.7" stroke="#9a9a9a" stroke-width="0.7" />
<line x1="568.7" y1="249.7" x2="565.7" y2="249.7" stroke="#9a9a9a" stroke-width="0.7" />
<line x1="427.5" y1="234.7" x2="430.5" y2="234.7" stroke="#9a9a9a" stroke-width="0.7" />
<line x1="568.7" y1="234.7" x2="565.7" y2="234.7" stroke="#9a9a9a" stroke-width="0.7" />
<line x1="427.5" y1="317.2" x2="429.1" y2="317.2" stroke="#9a9a9a" stroke-width="0.7" />
<line x1="568.7" y1="317.2" x2="567.1" y2="317.2" stroke="#9a9a9a" stroke-width="0.7" />
<line x1="427.5" y1="302.2" x2="429.1" y2="302.2" stroke="#9a9a9a" stroke-width="0.7" />
<line x1="568.7" y1="302.2" x2="567.1" y2="302.2" stroke="#9a9a9a" stroke-width="0.7" />
<line x1="427.5" y1="287.2" x2="429.1" y2="287.2" stroke="#9a9a9a" stroke-width="0.7" />
<line x1="568.7" y1="287.2" x2="567.1" y2="287.2" stroke="#9a9a9a" stroke-width="0.7" />
<line x1="427.5" y1="272.2" x2="429.1" y2="272.2" stroke="#9a9a9a" stroke-width="0.7" />
<line x1="568.7" y1="272.2" x2="567.1" y2="272.2" stroke="#9a9a9a" stroke-width="0.7" />
<line x1="427.5" y1="257.2" x2="429.1" y2="257.2" stroke="#9a9a9a" stroke-width="0.7" />
<line x1="568.7" y1="257.2" x2="567.1" y2="257.2" stroke="#9a9a9a" stroke-width="0.7" />
<line x1="427.5" y1="242.2" x2="429.1" y2="242.2" stroke="#9a9a9a" stroke-width="0.7" />
<line x1="568.7" y1="242.2" x2="567.1" y2="242.2" stroke="#9a9a9a" stroke-width="0.7" />
<line x1="427.5" y1="227.2" x2="429.1" y2="227.2" stroke="#9a9a9a" stroke-width="0.7" />
<line x1="568.7" y1="227.2" x2="567.1" y2="227.2" stroke="#9a9a9a" stroke-width="0.7" />
<text x="425.4" y="311.7" font-family="Liberation Serif" font-size="5.8" fill="#000" text-anchor="end" font-weight="normal" font-style="normal" >0,88</text>
<text x="425.4" y="296.7" font-family="Liberation Serif" font-size="5.8" fill="#000" text-anchor="end" font-weight="normal" font-style="normal" >0,9</text>
<text x="425.4" y="281.7" font-family="Liberation Serif" font-size="5.8" fill="#000" text-anchor="end" font-weight="normal" font-style="normal" >0,92</text>
<text x="425.4" y="266.7" font-family="Liberation Serif" font-size="5.8" fill="#000" text-anchor="end" font-weight="normal" font-style="normal" >0,94</text>
<text x="425.4" y="251.7" font-family="Liberation Serif" font-size="5.8" fill="#000" text-anchor="end" font-weight="normal" font-style="normal" >0,96</text>
<text x="425.4" y="236.7" font-family="Liberation Serif" font-size="5.8" fill="#000" text-anchor="end" font-weight="normal" font-style="normal" >0,98</text>
<text x="425.4" y="221.7" font-family="Liberation Serif" font-size="5.8" fill="#000" text-anchor="end" font-weight="normal" font-style="normal" >1</text>
<text x="427.6" y="324.1" font-family="Liberation Serif" font-size="6.6" fill="#000" text-anchor="middle" font-weight="normal" font-style="normal" >0</text>
<text x="495.04" y="324.1" font-family="Liberation Serif" font-size="6.6" fill="#000" text-anchor="middle" font-weight="normal" font-style="normal" >400</text>
<text x="562.48" y="324.1" font-family="Liberation Serif" font-size="6.6" fill="#000" text-anchor="middle" font-weight="normal" font-style="normal" >800</text>
<text transform="translate(411.2,271.6) rotate(-90)" font-family="Liberation Sans" font-size="9.5" text-anchor="middle" font-weight="normal" fill="#000" >Populations</text>
<path d="M427.6,292.68 L427.67,293.24 L427.77,293.96 L427.88,294.84 L428.01,295.88 L428.14,297.08 L428.27,298.45 L428.4,300.18 L428.53,302.31 L428.66,304.6 L428.81,306.82 L428.96,308.72 L429.12,310.08 L429.28,310.81 L429.44,311.12 L429.61,311.11 L429.8,310.91 L430.03,310.65 L430.3,310.45 L430.62,310.29 L430.99,310.06 L431.39,309.77 L431.81,309.42 L432.24,309.02 L432.66,308.58 L433.04,308.22 L433.38,307.98 L433.73,307.68 L434.12,307.17 L434.59,306.27 L435.19,304.83 L435.92,302.71 L436.75,300.03 L437.67,296.97 L438.64,293.69 L439.66,290.38 L440.68,287.2 L441.74,284.03 L442.86,280.71 L444.01,277.34 L445.18,274.05 L446.35,270.95 L447.49,268.15 L448.57,265.72 L449.59,263.6 L450.61,261.66 L451.68,259.8 L452.87,257.9 L454.24,255.85 L455.84,253.59 L457.63,251.2 L459.54,248.77 L461.49,246.4 L463.4,244.18 L465.2,242.2 L466.91,240.46 L468.61,238.9 L470.28,237.48 L471.88,236.19 L473.4,235.02 L474.81,233.95 L476.08,233 L477.21,232.2 L478.26,231.51 L479.28,230.91 L480.3,230.36 L481.38,229.82 L482.52,229.33 L483.67,228.91 L484.83,228.54 L485.99,228.2 L487.15,227.88 L488.3,227.57 L489.48,227.29 L490.71,227.05 L491.93,226.82 L493.1,226.6 L494.15,226.36 L495.04,226.07 L495.71,225.72 L496.19,225.3 L496.56,224.86 L496.89,224.44 L497.26,224.08 L497.74,223.82 L498.3,223.7 L498.88,223.66 L499.5,223.69 L500.17,223.75 L500.93,223.81 L501.78,223.82 L502.69,223.82 L503.63,223.82 L504.65,223.82 L505.8,223.8 L507.13,223.76 L508.7,223.67 L510.66,223.55 L513,223.39 L515.52,223.21 L518.03,223.01 L520.32,222.78 L522.18,222.55 L523.53,222.29 L524.48,221.98 L525.22,221.66 L525.9,221.35 L526.69,221.06 L527.75,220.82 L528.83,220.64 L529.76,220.49 L530.79,220.37 L532.2,220.26 L534.24,220.17 L537.19,220.07 L541.63,219.99 L547.48,219.91 L553.97,219.84 L560.32,219.78 L565.77,219.74 L569.56,219.7" fill="none" stroke="#222" stroke-width="0.8" stroke-linejoin="round" stroke-linecap="round" />
<rect x="428.5" y="333" width="140" height="97.3" fill="none" stroke="#9a9a9a" stroke-width="0.9"/>
<line x1="476.8" y1="430.3" x2="476.8" y2="427.3" stroke="#9a9a9a" stroke-width="0.7" />
<line x1="476.8" y1="333" x2="476.8" y2="336" stroke="#9a9a9a" stroke-width="0.7" />
<line x1="525.1" y1="430.3" x2="525.1" y2="427.3" stroke="#9a9a9a" stroke-width="0.7" />
<line x1="525.1" y1="333" x2="525.1" y2="336" stroke="#9a9a9a" stroke-width="0.7" />
<line x1="443.04" y1="430.3" x2="443.04" y2="428.7" stroke="#9a9a9a" stroke-width="0.7" />
<line x1="443.04" y1="333" x2="443.04" y2="334.6" stroke="#9a9a9a" stroke-width="0.7" />
<line x1="451.54" y1="430.3" x2="451.54" y2="428.7" stroke="#9a9a9a" stroke-width="0.7" />
<line x1="451.54" y1="333" x2="451.54" y2="334.6" stroke="#9a9a9a" stroke-width="0.7" />
<line x1="457.58" y1="430.3" x2="457.58" y2="428.7" stroke="#9a9a9a" stroke-width="0.7" />
<line x1="457.58" y1="333" x2="457.58" y2="334.6" stroke="#9a9a9a" stroke-width="0.7" />
<line x1="462.26" y1="430.3" x2="462.26" y2="428.7" stroke="#9a9a9a" stroke-width="0.7" />
<line x1="462.26" y1="333" x2="462.26" y2="334.6" stroke="#9a9a9a" stroke-width="0.7" />
<line x1="466.08" y1="430.3" x2="466.08" y2="428.7" stroke="#9a9a9a" stroke-width="0.7" />
<line x1="466.08" y1="333" x2="466.08" y2="334.6" stroke="#9a9a9a" stroke-width="0.7" />
<line x1="469.32" y1="430.3" x2="469.32" y2="428.7" stroke="#9a9a9a" stroke-width="0.7" />
<line x1="469.32" y1="333" x2="469.32" y2="334.6" stroke="#9a9a9a" stroke-width="0.7" />
<line x1="472.12" y1="430.3" x2="472.12" y2="428.7" stroke="#9a9a9a" stroke-width="0.7" />
<line x1="472.12" y1="333" x2="472.12" y2="334.6" stroke="#9a9a9a" stroke-width="0.7" />
<line x1="474.59" y1="430.3" x2="474.59" y2="428.7" stroke="#9a9a9a" stroke-width="0.7" />
<line x1="474.59" y1="333" x2="474.59" y2="334.6" stroke="#9a9a9a" stroke-width="0.7" />
<line x1="491.34" y1="430.3" x2="491.34" y2="428.7" stroke="#9a9a9a" stroke-width="0.7" />
<line x1="491.34" y1="333" x2="491.34" y2="334.6" stroke="#9a9a9a" stroke-width="0.7" />
<line x1="499.84" y1="430.3" x2="499.84" y2="428.7" stroke="#9a9a9a" stroke-width="0.7" />
<line x1="499.84" y1="333" x2="499.84" y2="334.6" stroke="#9a9a9a" stroke-width="0.7" />
<line x1="505.88" y1="430.3" x2="505.88" y2="428.7" stroke="#9a9a9a" stroke-width="0.7" />
<line x1="505.88" y1="333" x2="505.88" y2="334.6" stroke="#9a9a9a" stroke-width="0.7" />
<line x1="510.56" y1="430.3" x2="510.56" y2="428.7" stroke="#9a9a9a" stroke-width="0.7" />
<line x1="510.56" y1="333" x2="510.56" y2="334.6" stroke="#9a9a9a" stroke-width="0.7" />
<line x1="514.38" y1="430.3" x2="514.38" y2="428.7" stroke="#9a9a9a" stroke-width="0.7" />
<line x1="514.38" y1="333" x2="514.38" y2="334.6" stroke="#9a9a9a" stroke-width="0.7" />
<line x1="517.62" y1="430.3" x2="517.62" y2="428.7" stroke="#9a9a9a" stroke-width="0.7" />
<line x1="517.62" y1="333" x2="517.62" y2="334.6" stroke="#9a9a9a" stroke-width="0.7" />
<line x1="520.42" y1="430.3" x2="520.42" y2="428.7" stroke="#9a9a9a" stroke-width="0.7" />
<line x1="520.42" y1="333" x2="520.42" y2="334.6" stroke="#9a9a9a" stroke-width="0.7" />
<line x1="522.89" y1="430.3" x2="522.89" y2="428.7" stroke="#9a9a9a" stroke-width="0.7" />
<line x1="522.89" y1="333" x2="522.89" y2="334.6" stroke="#9a9a9a" stroke-width="0.7" />
<line x1="539.64" y1="430.3" x2="539.64" y2="428.7" stroke="#9a9a9a" stroke-width="0.7" />
<line x1="539.64" y1="333" x2="539.64" y2="334.6" stroke="#9a9a9a" stroke-width="0.7" />
<line x1="548.14" y1="430.3" x2="548.14" y2="428.7" stroke="#9a9a9a" stroke-width="0.7" />
<line x1="548.14" y1="333" x2="548.14" y2="334.6" stroke="#9a9a9a" stroke-width="0.7" />
<line x1="554.18" y1="430.3" x2="554.18" y2="428.7" stroke="#9a9a9a" stroke-width="0.7" />
<line x1="554.18" y1="333" x2="554.18" y2="334.6" stroke="#9a9a9a" stroke-width="0.7" />
<line x1="558.86" y1="430.3" x2="558.86" y2="428.7" stroke="#9a9a9a" stroke-width="0.7" />
<line x1="558.86" y1="333" x2="558.86" y2="334.6" stroke="#9a9a9a" stroke-width="0.7" />
<line x1="562.68" y1="430.3" x2="562.68" y2="428.7" stroke="#9a9a9a" stroke-width="0.7" />
<line x1="562.68" y1="333" x2="562.68" y2="334.6" stroke="#9a9a9a" stroke-width="0.7" />
<line x1="565.92" y1="430.3" x2="565.92" y2="428.7" stroke="#9a9a9a" stroke-width="0.7" />
<line x1="565.92" y1="333" x2="565.92" y2="334.6" stroke="#9a9a9a" stroke-width="0.7" />
<line x1="428.5" y1="410.88" x2="431.5" y2="410.88" stroke="#9a9a9a" stroke-width="0.7" />
<line x1="568.5" y1="410.88" x2="565.5" y2="410.88" stroke="#9a9a9a" stroke-width="0.7" />
<line x1="428.5" y1="391.46" x2="431.5" y2="391.46" stroke="#9a9a9a" stroke-width="0.7" />
<line x1="568.5" y1="391.46" x2="565.5" y2="391.46" stroke="#9a9a9a" stroke-width="0.7" />
<line x1="428.5" y1="372.04" x2="431.5" y2="372.04" stroke="#9a9a9a" stroke-width="0.7" />
<line x1="568.5" y1="372.04" x2="565.5" y2="372.04" stroke="#9a9a9a" stroke-width="0.7" />
<line x1="428.5" y1="352.62" x2="431.5" y2="352.62" stroke="#9a9a9a" stroke-width="0.7" />
<line x1="568.5" y1="352.62" x2="565.5" y2="352.62" stroke="#9a9a9a" stroke-width="0.7" />
<line x1="428.5" y1="420.59" x2="430.1" y2="420.59" stroke="#9a9a9a" stroke-width="0.7" />
<line x1="568.5" y1="420.59" x2="566.9" y2="420.59" stroke="#9a9a9a" stroke-width="0.7" />
<line x1="428.5" y1="401.17" x2="430.1" y2="401.17" stroke="#9a9a9a" stroke-width="0.7" />
<line x1="568.5" y1="401.17" x2="566.9" y2="401.17" stroke="#9a9a9a" stroke-width="0.7" />
<line x1="428.5" y1="381.75" x2="430.1" y2="381.75" stroke="#9a9a9a" stroke-width="0.7" />
<line x1="568.5" y1="381.75" x2="566.9" y2="381.75" stroke="#9a9a9a" stroke-width="0.7" />
<line x1="428.5" y1="362.33" x2="430.1" y2="362.33" stroke="#9a9a9a" stroke-width="0.7" />
<line x1="568.5" y1="362.33" x2="566.9" y2="362.33" stroke="#9a9a9a" stroke-width="0.7" />
<line x1="428.5" y1="342.91" x2="430.1" y2="342.91" stroke="#9a9a9a" stroke-width="0.7" />
<line x1="568.5" y1="342.91" x2="566.9" y2="342.91" stroke="#9a9a9a" stroke-width="0.7" />
<text x="426" y="432.3" font-family="Liberation Serif" font-size="5.8" fill="#000" text-anchor="end" font-weight="normal" font-style="normal" >0</text>
<text x="426" y="412.88" font-family="Liberation Serif" font-size="5.8" fill="#000" text-anchor="end" font-weight="normal" font-style="normal" >0,02</text>
<text x="426" y="393.46" font-family="Liberation Serif" font-size="5.8" fill="#000" text-anchor="end" font-weight="normal" font-style="normal" >0,04</text>
<text x="426" y="374.04" font-family="Liberation Serif" font-size="5.8" fill="#000" text-anchor="end" font-weight="normal" font-style="normal" >0,06</text>
<text x="426" y="354.62" font-family="Liberation Serif" font-size="5.8" fill="#000" text-anchor="end" font-weight="normal" font-style="normal" >0,08</text>
<text x="426" y="335.2" font-family="Liberation Serif" font-size="5.8" fill="#000" text-anchor="end" font-weight="normal" font-style="normal" >0,1</text>
<text x="428.5" y="437" font-family="Liberation Serif" font-size="6.6" fill="#000" text-anchor="middle" font-weight="normal" font-style="normal" >1</text>
<text x="476.8" y="437" font-family="Liberation Serif" font-size="6.6" fill="#000" text-anchor="middle" font-weight="normal" font-style="normal" >10</text>
<text x="525.1" y="437" font-family="Liberation Serif" font-size="6.6" fill="#000" text-anchor="middle" font-weight="normal" font-style="normal" >100</text>
<text transform="translate(411.2,379) rotate(-90)" font-family="Liberation Sans" font-size="9.3" text-anchor="middle" font-weight="normal" fill="#000" >Populations</text>
<path d="M488.58,436.75 C489.11,435.47 490.1,435.21 491.39,435.21 L495.8,435.21" fill="none" stroke="#000" stroke-width="0.78" stroke-linecap="round"/><path d="M492.61,435.34 C492,437.9 491.39,439.82 491.24,440.91" fill="none" stroke="#000" stroke-width="1.02" stroke-linecap="round"/>
<path d="M428.33,334.44 L429.4,334.57 L430.85,334.73 L432.58,334.92 L434.48,335.14 L436.45,335.37 L438.37,335.62 L440.15,335.86 L441.67,336.11 L442.93,336.34 L444.04,336.54 L445.04,336.73 L445.97,336.94 L446.89,337.19 L447.84,337.49 L448.86,337.87 L450,338.33 L451.26,338.9 L452.58,339.54 L453.96,340.24 L455.38,341.01 L456.82,341.82 L458.27,342.67 L459.7,343.55 L461.11,344.44 L462.52,345.39 L463.95,346.42 L465.4,347.5 L466.84,348.61 L468.26,349.72 L469.64,350.8 L470.97,351.83 L472.22,352.78 L473.4,353.64 L474.5,354.42 L475.55,355.16 L476.56,355.87 L477.55,356.57 L478.54,357.3 L479.53,358.06 L480.56,358.89 L481.58,359.75 L482.57,360.62 L483.56,361.51 L484.55,362.43 L485.56,363.39 L486.61,364.41 L487.71,365.5 L488.89,366.67 L490.16,367.96 L491.54,369.38 L492.97,370.88 L494.44,372.43 L495.91,373.99 L497.35,375.52 L498.73,376.98 L500,378.33 L501.16,379.55 L502.21,380.65 L503.21,381.67 L504.17,382.67 L505.13,383.69 L506.12,384.75 L507.18,385.92 L508.33,387.22 L509.59,388.69 L510.92,390.28 L512.3,391.96 L513.72,393.7 L515.16,395.46 L516.6,397.22 L518.04,398.92 L519.44,400.56 L520.85,402.15 L522.29,403.74 L523.73,405.33 L525.17,406.89 L526.59,408.41 L527.97,409.86 L529.3,411.23 L530.56,412.5 L531.73,413.66 L532.83,414.71 L533.88,415.69 L534.9,416.6 L535.89,417.46 L536.87,418.31 L537.87,419.15 L538.89,420 L539.93,420.87 L540.97,421.75 L542.01,422.62 L543.06,423.47 L544.1,424.29 L545.14,425.05 L546.18,425.76 L547.22,426.39 L548.23,426.94 L549.19,427.43 L550.14,427.86 L551.09,428.25 L552.08,428.59 L553.14,428.9 L554.29,429.18 L555.56,429.44 L557.05,429.68 L558.79,429.88 L560.68,430.05 L562.6,430.19 L564.46,430.31 L566.15,430.4 L567.57,430.48 L568.61,430.56" fill="none" stroke="#ff2020" stroke-width="1.0" stroke-linejoin="round" stroke-linecap="round" />
<path d="M428.33,428.33 L429.36,428.31 L430.72,428.29 L432.33,428.28 L434.13,428.25 L436.04,428.19 L437.98,428.11 L439.88,427.97 L441.67,427.78 L443.38,427.54 L445.1,427.28 L446.83,426.99 L448.58,426.65 L450.32,426.26 L452.07,425.82 L453.82,425.31 L455.56,424.72 L457.29,424.04 L459.03,423.26 L460.76,422.4 L462.5,421.49 L464.24,420.55 L465.97,419.61 L467.71,418.67 L469.44,417.78 L471.18,416.89 L472.92,415.98 L474.65,415.05 L476.39,414.13 L478.12,413.23 L479.86,412.37 L481.6,411.57 L483.33,410.83 L485.08,410.17 L486.84,409.56 L488.6,408.99 L490.36,408.47 L492.12,407.99 L493.85,407.53 L495.55,407.09 L497.22,406.67 L498.89,406.25 L500.58,405.85 L502.26,405.47 L503.91,405.12 L505.5,404.81 L507.02,404.54 L508.44,404.32 L509.72,404.17 L510.85,404.07 L511.82,404.02 L512.67,404.02 L513.45,404.06 L514.2,404.16 L514.96,404.3 L515.77,404.49 L516.67,404.72 L517.64,405 L518.65,405.32 L519.69,405.68 L520.75,406.09 L521.81,406.56 L522.88,407.09 L523.95,407.67 L525,408.33 L526.02,409.08 L527.02,409.92 L528,410.82 L528.99,411.79 L530,412.79 L531.05,413.81 L532.16,414.83 L533.33,415.83 L534.59,416.86 L535.92,417.94 L537.3,419.06 L538.72,420.17 L540.16,421.27 L541.6,422.32 L543.04,423.29 L544.44,424.17 L545.82,424.95 L547.18,425.67 L548.53,426.34 L549.88,426.94 L551.25,427.5 L552.64,428.01 L554.07,428.47 L555.56,428.89 L557.18,429.25 L558.99,429.56 L560.88,429.81 L562.78,430.02 L564.59,430.19 L566.22,430.33 L567.59,430.45 L568.61,430.56" fill="none" stroke="#ff2020" stroke-width="0.9" stroke-linejoin="round" stroke-linecap="round" />
<path d="M428.33,428.89 L430.51,428.67 L433.47,428.39 L437.01,428.06 L440.9,427.69 L444.92,427.28 L448.85,426.83 L452.47,426.34 L455.56,425.83 L458.18,425.26 L460.59,424.62 L462.82,423.92 L464.9,423.19 L466.84,422.47 L468.69,421.77 L470.48,421.12 L472.22,420.56 L473.9,420.05 L475.46,419.59 L476.92,419.16 L478.3,418.77 L479.61,418.41 L480.88,418.08 L482.12,417.77 L483.33,417.5 L484.51,417.25 L485.61,417.03 L486.66,416.83 L487.67,416.67 L488.66,416.54 L489.65,416.45 L490.64,416.39 L491.67,416.39 L492.69,416.44 L493.68,416.53 L494.67,416.68 L495.66,416.86 L496.67,417.07 L497.72,417.29 L498.83,417.53 L500,417.78 L501.24,418.03 L502.52,418.31 L503.84,418.6 L505.21,418.91 L506.62,419.23 L508.07,419.57 L509.57,419.92 L511.11,420.28 L512.71,420.65 L514.39,421.05 L516.12,421.45 L517.88,421.88 L519.67,422.3 L521.46,422.74 L523.24,423.18 L525,423.61 L526.74,424.06 L528.47,424.52 L530.21,424.99 L531.94,425.47 L533.68,425.94 L535.42,426.39 L537.15,426.82 L538.89,427.22 L540.61,427.6 L542.32,427.96 L544.01,428.31 L545.71,428.65 L547.43,428.96 L549.17,429.24 L550.95,429.5 L552.78,429.72 L554.77,429.91 L556.97,430.07 L559.27,430.19 L561.56,430.3 L563.75,430.38 L565.72,430.44 L567.38,430.5 L568.61,430.56" fill="none" stroke="#ff2020" stroke-width="0.8" stroke-linejoin="round" stroke-linecap="round" />
<path d="M428.33,429.44 L430.43,429.33 L433.21,429.21 L436.52,429.06 L440.21,428.89 L444.11,428.68 L448.07,428.43 L451.94,428.13 L455.56,427.78 L459.08,427.34 L462.72,426.82 L466.42,426.24 L470.1,425.62 L473.71,425 L477.16,424.39 L480.39,423.83 L483.33,423.33 L485.97,422.9 L488.35,422.5 L490.52,422.13 L492.53,421.79 L494.44,421.46 L496.29,421.15 L498.13,420.85 L500,420.56 L501.89,420.25 L503.73,419.93 L505.53,419.62 L507.29,419.32 L509.01,419.06 L510.68,418.84 L512.3,418.69 L513.89,418.61 L515.39,418.6 L516.8,418.64 L518.14,418.73 L519.44,418.87 L520.75,419.07 L522.09,419.32 L523.5,419.63 L525,420 L526.6,420.46 L528.28,421.02 L530,421.65 L531.77,422.33 L533.56,423.03 L535.35,423.72 L537.13,424.39 L538.89,425 L540.61,425.58 L542.32,426.17 L544.01,426.75 L545.71,427.31 L547.43,427.84 L549.17,428.34 L550.95,428.78 L552.78,429.17 L554.77,429.48 L556.97,429.74 L559.27,429.95 L561.56,430.12 L563.75,430.26 L565.72,430.37 L567.38,430.47 L568.61,430.56" fill="none" stroke="#ff2020" stroke-width="0.8" stroke-linejoin="round" stroke-linecap="round" />
<path d="M428.33,430 L430.43,429.93 L433.21,429.86 L436.52,429.77 L440.21,429.67 L444.11,429.54 L448.07,429.37 L451.94,429.16 L455.56,428.89 L459.04,428.55 L462.59,428.15 L466.18,427.69 L469.76,427.2 L473.3,426.7 L476.77,426.2 L480.12,425.72 L483.33,425.28 L486.43,424.85 L489.47,424.41 L492.44,423.97 L495.31,423.54 L498.08,423.14 L500.72,422.78 L503.21,422.47 L505.56,422.22 L507.69,422.03 L509.61,421.87 L511.37,421.74 L513.02,421.67 L514.6,421.64 L516.17,421.68 L517.77,421.77 L519.44,421.94 L521.18,422.21 L522.92,422.57 L524.65,423.01 L526.39,423.51 L528.12,424.03 L529.86,424.56 L531.6,425.08 L533.33,425.56 L535.02,426.02 L536.63,426.51 L538.21,427.01 L539.81,427.5 L541.46,427.98 L543.22,428.42 L545.13,428.82 L547.22,429.17 L549.68,429.46 L552.54,429.7 L555.63,429.91 L558.78,430.09 L561.83,430.23 L564.59,430.36 L566.91,430.46 L568.61,430.56" fill="none" stroke="#ff2020" stroke-width="0.8" stroke-linejoin="round" stroke-linecap="round" />
<path d="M428.33,430.28 L431.6,430.14 L436.03,429.96 L441.32,429.75 L447.15,429.51 L453.2,429.25 L459.14,428.96 L464.66,428.66 L469.44,428.33 L473.61,427.97 L477.52,427.54 L481.2,427.08 L484.69,426.6 L488,426.13 L491.18,425.69 L494.24,425.31 L497.22,425 L500.09,424.76 L502.8,424.55 L505.37,424.38 L507.81,424.25 L510.15,424.17 L512.39,424.12 L514.56,424.12 L516.67,424.17 L518.67,424.27 L520.53,424.44 L522.28,424.66 L523.96,424.91 L525.59,425.2 L527.21,425.5 L528.86,425.81 L530.56,426.11 L532.22,426.43 L533.79,426.77 L535.31,427.14 L536.86,427.52 L538.48,427.89 L540.25,428.25 L542.22,428.59 L544.44,428.89 L547.14,429.16 L550.33,429.42 L553.82,429.67 L557.4,429.9 L560.87,430.1 L564.03,430.28 L566.68,430.43 L568.61,430.56" fill="none" stroke="#ff2020" stroke-width="0.8" stroke-linejoin="round" stroke-linecap="round" />
<path d="M428.33,430.56 L430.43,430.52 L433.21,430.49 L436.52,430.46 L440.21,430.42 L444.11,430.35 L448.07,430.27 L451.94,430.15 L455.56,430 L459.04,429.8 L462.59,429.54 L466.18,429.25 L469.76,428.94 L473.3,428.62 L476.77,428.31 L480.12,428.03 L483.33,427.78 L486.43,427.55 L489.47,427.33 L492.44,427.11 L495.31,426.91 L498.08,426.73 L500.72,426.58 L503.21,426.46 L505.56,426.39 L507.65,426.36 L509.48,426.36 L511.13,426.39 L512.67,426.46 L514.2,426.55 L515.78,426.66 L517.5,426.8 L519.44,426.94 L521.54,427.12 L523.67,427.34 L525.88,427.58 L528.18,427.85 L530.6,428.12 L533.17,428.39 L535.93,428.65 L538.89,428.89 L542.32,429.12 L546.29,429.36 L550.59,429.61 L554.97,429.84 L559.19,430.06 L563.03,430.26 L566.25,430.43 L568.61,430.56" fill="none" stroke="#ff2020" stroke-width="0.8" stroke-linejoin="round" stroke-linecap="round" />
<rect x="27.3" y="305.3" width="135.4" height="94.8" fill="none" stroke="#9a9a9a" stroke-width="0.9"/>
<line x1="95" y1="400.1" x2="95" y2="397.1" stroke="#9a9a9a" stroke-width="0.7" />
<line x1="95" y1="305.3" x2="95" y2="308.3" stroke="#9a9a9a" stroke-width="0.7" />
<line x1="61.15" y1="400.1" x2="61.15" y2="398.5" stroke="#9a9a9a" stroke-width="0.7" />
<line x1="61.15" y1="305.3" x2="61.15" y2="306.9" stroke="#9a9a9a" stroke-width="0.7" />
<line x1="128.85" y1="400.1" x2="128.85" y2="398.5" stroke="#9a9a9a" stroke-width="0.7" />
<line x1="128.85" y1="305.3" x2="128.85" y2="306.9" stroke="#9a9a9a" stroke-width="0.7" />
<line x1="27.3" y1="381.1" x2="30.3" y2="381.1" stroke="#9a9a9a" stroke-width="0.7" />
<line x1="162.7" y1="381.1" x2="159.7" y2="381.1" stroke="#9a9a9a" stroke-width="0.7" />
<line x1="27.3" y1="362.1" x2="30.3" y2="362.1" stroke="#9a9a9a" stroke-width="0.7" />
<line x1="162.7" y1="362.1" x2="159.7" y2="362.1" stroke="#9a9a9a" stroke-width="0.7" />
<line x1="27.3" y1="343.1" x2="30.3" y2="343.1" stroke="#9a9a9a" stroke-width="0.7" />
<line x1="162.7" y1="343.1" x2="159.7" y2="343.1" stroke="#9a9a9a" stroke-width="0.7" />
<line x1="27.3" y1="324.1" x2="30.3" y2="324.1" stroke="#9a9a9a" stroke-width="0.7" />
<line x1="162.7" y1="324.1" x2="159.7" y2="324.1" stroke="#9a9a9a" stroke-width="0.7" />
<line x1="27.3" y1="390.6" x2="28.9" y2="390.6" stroke="#9a9a9a" stroke-width="0.7" />
<line x1="162.7" y1="390.6" x2="161.1" y2="390.6" stroke="#9a9a9a" stroke-width="0.7" />
<line x1="27.3" y1="371.6" x2="28.9" y2="371.6" stroke="#9a9a9a" stroke-width="0.7" />
<line x1="162.7" y1="371.6" x2="161.1" y2="371.6" stroke="#9a9a9a" stroke-width="0.7" />
<line x1="27.3" y1="352.6" x2="28.9" y2="352.6" stroke="#9a9a9a" stroke-width="0.7" />
<line x1="162.7" y1="352.6" x2="161.1" y2="352.6" stroke="#9a9a9a" stroke-width="0.7" />
<line x1="27.3" y1="333.6" x2="28.9" y2="333.6" stroke="#9a9a9a" stroke-width="0.7" />
<line x1="162.7" y1="333.6" x2="161.1" y2="333.6" stroke="#9a9a9a" stroke-width="0.7" />
<line x1="27.3" y1="314.6" x2="28.9" y2="314.6" stroke="#9a9a9a" stroke-width="0.7" />
<line x1="162.7" y1="314.6" x2="161.1" y2="314.6" stroke="#9a9a9a" stroke-width="0.7" />
<text x="26" y="402.1" font-family="Liberation Serif" font-size="5.8" fill="#000" text-anchor="end" font-weight="normal" font-style="normal" >0</text>
<text x="26" y="383.1" font-family="Liberation Serif" font-size="5.8" fill="#000" text-anchor="end" font-weight="normal" font-style="normal" >0,2</text>
<text x="26" y="364.1" font-family="Liberation Serif" font-size="5.8" fill="#000" text-anchor="end" font-weight="normal" font-style="normal" >0,4</text>
<text x="26" y="345.1" font-family="Liberation Serif" font-size="5.8" fill="#000" text-anchor="end" font-weight="normal" font-style="normal" >0,6</text>
<text x="26" y="326.1" font-family="Liberation Serif" font-size="5.8" fill="#000" text-anchor="end" font-weight="normal" font-style="normal" >0,8</text>
<text x="26" y="307.1" font-family="Liberation Serif" font-size="5.8" fill="#000" text-anchor="end" font-weight="normal" font-style="normal" >1</text>
<text x="28.3" y="406.3" font-family="Liberation Serif" font-size="6.6" fill="#000" text-anchor="middle" font-weight="normal" font-style="normal" >0</text>
<text x="95" y="406.3" font-family="Liberation Serif" font-size="6.6" fill="#000" text-anchor="middle" font-weight="normal" font-style="normal" >5000</text>
<text x="162.7" y="406.3" font-family="Liberation Serif" font-size="6.6" fill="#000" text-anchor="middle" font-weight="normal" font-style="normal" >10000</text>
<text transform="translate(16.3,352.7) rotate(-90)" font-family="Liberation Sans" font-size="9.4" text-anchor="middle" font-weight="normal" fill="#000" >Populations</text>
<path d="M92.14,410.69 C92.62,409.51 93.5,409.27 94.66,409.27 L98.6,409.27" fill="none" stroke="#000" stroke-width="0.73" stroke-linecap="round"/><path d="M95.74,409.39 C95.2,411.75 94.66,413.52 94.52,414.52" fill="none" stroke="#000" stroke-width="0.96" stroke-linecap="round"/>
<polygon points="27.1,390.5 27.99,390.33 29.2,390.11 30.64,389.84 32.23,389.54 33.88,389.23 35.5,388.9 37.2,388.55 39.07,388.15 41,387.73 42.89,387.32 44.62,386.93 46.1,386.6 47.3,386.35 48.31,386.16 49.16,386.01 49.91,385.84 50.61,385.62 51.3,385.3 51.94,384.91 52.48,384.5 52.96,384.02 53.43,383.48 53.93,382.85 54.5,382.1 55.14,381.15 55.83,380.01 56.54,378.77 57.26,377.55 57.99,376.46 58.7,375.6 59.4,375 60.1,374.57 60.8,374.26 61.5,374.04 62.2,373.87 62.9,373.7 63.53,373.55 64.07,373.45 64.61,373.39 65.23,373.37 66.04,373.38 67.1,373.4 68.48,373.45 70.13,373.53 71.95,373.64 73.86,373.77 75.77,373.89 77.6,374 79.42,374.1 81.33,374.21 83.23,374.32 85.06,374.43 86.74,374.52 88.2,374.6 89.44,374.66 90.53,374.7 91.46,374.74 92.25,374.76 92.9,374.78 93.4,374.8 93.4,375.8 92.9,375.94 92.25,376.12 91.46,376.34 90.53,376.59 89.44,376.88 88.2,377.2 86.74,377.57 85.06,377.99 83.23,378.45 81.33,378.92 79.42,379.38 77.6,379.8 75.84,380.19 74.09,380.57 72.34,380.94 70.6,381.3 68.85,381.65 67.1,382 65.28,382.35 63.39,382.69 61.49,383.02 59.68,383.36 58.02,383.68 56.6,384 55.48,384.28 54.61,384.51 53.9,384.74 53.26,385.01 52.59,385.35 51.8,385.8 50.96,386.41 50.15,387.17 49.31,387.99 48.4,388.83 47.34,389.62 46.1,390.3 44.59,390.87 42.85,391.37 40.97,391.83 39.05,392.24 37.2,392.63 35.5,393 33.88,393.36 32.23,393.7 30.64,394.02 29.2,394.3 27.99,394.53 27.1,394.7" fill="#ff1010" stroke="#ff1010" stroke-width="0.6"/>
<path d="M93,374.91 L93.9,374.48 L94.8,374.66 L95.7,375.31 L96.6,375.92 L97.5,374.21 L98.4,374.5 L99.3,374.9 L100.2,374.65 L101.1,374.09 L102,375.01 L102.9,375.41 L103.8,374.13 L104.7,375.12 L105.6,375.53 L106.5,375.54 L107.4,374.77 L108.3,376.27 L109.2,375.31 L110.1,374.55 L111,375.54 L111.9,374.38 L112.8,375.49 L113.7,374.31 L114.6,375.43 L115.5,374.68 L116.4,375.62 L117.3,375.41 L118.2,375.25 L119.1,375.03 L120,375.6 L120.9,374.01 L121.8,375.24 L122.7,375.23 L123.6,375.31 L124.5,375.45 L125.4,377.04 L126.3,375.06 L127.2,375.44 L128.1,375.08 L129,375.86 L129.9,373.89 L130.8,375.93 L131.7,374.62 L132.6,373.76 L133.5,374.41 L134.4,374.9 L135.3,375.11 L136.2,374.97 L137.1,375.45 L138,374.98 L138.9,374.97 L139.8,373.82 L140.7,375.27 L141.6,375.56 L142.5,374.77 L143.4,373.97 L144.3,374.26 L145.2,375.92 L146.1,374.67 L147,374.63 L147.9,374.55 L148.8,375.37 L149.7,374.68 L150.6,374.52 L151.5,374.17 L152.4,374.94 L153.3,375.55 L154.2,374.92 L155.1,375.49 L156,375.1 L156.9,375.08 L157.8,375.1 L158.7,375.02 L159.6,375.56 L160.5,375.27 L161.4,374.68 L162.3,375.07" fill="none" stroke="#ff1010" stroke-width="1.2" stroke-linejoin="round" stroke-linecap="round" />
<path d="M27.3,398.4 L28.11,398.34 L29.21,398.27 L30.53,398.18 L31.98,398.07 L33.49,397.95 L35,397.8 L36.53,397.62 L38.14,397.41 L39.83,397.19 L41.54,396.95 L43.28,396.72 L45,396.5 L46.79,396.27 L48.69,396.01 L50.59,395.76 L52.43,395.53 L54.09,395.37 L55.5,395.3 L56.6,395.32 L57.46,395.42 L58.16,395.58 L58.76,395.79 L59.35,396.03 L60,396.3 L60.71,396.62 L61.4,397.02 L62.09,397.45 L62.75,397.88 L63.39,398.28 L64,398.6 L64.55,398.85 L65.03,399.05 L65.49,399.22 L65.97,399.36 L66.49,399.48 L67.1,399.6 L67.87,399.71 L68.78,399.79 L69.74,399.86 L70.66,399.92 L71.45,399.96 L72,400" fill="none" stroke="#ff2020" stroke-width="0.8" stroke-linejoin="round" stroke-linecap="round" />
<path d="M27.3,399.1 L28.65,399.02 L30.49,398.93 L32.68,398.81 L35.09,398.66 L37.57,398.49 L40,398.3 L42.55,398.04 L45.37,397.7 L48.26,397.34 L51.04,397.01 L53.52,396.74 L55.5,396.6 L56.89,396.59 L57.83,396.67 L58.47,396.83 L58.94,397.04 L59.41,397.27 L60,397.5 L60.7,397.76 L61.37,398.07 L62.03,398.41 L62.69,398.75 L63.34,399.05 L64,399.3 L64.71,399.49 L65.48,399.64 L66.25,399.76 L66.96,399.86 L67.56,399.94 L68,400" fill="none" stroke="#ff2020" stroke-width="0.8" stroke-linejoin="round" stroke-linecap="round" />
<path d="M27.3,399.6 L60,399.5 L70,400" fill="none" stroke="#ff2020" stroke-width="0.8" stroke-linejoin="round" stroke-linecap="round" />
<line x1="27.3" y1="400.5" x2="162.7" y2="400.5" stroke="#d89a9a" stroke-width="1" />
<path d="M27.3,317.86 L27.84,317.68 L28.38,317.89 L28.92,317.93 L29.47,318.8 L30.01,318.26 L30.55,318.13 L31.09,319.46 L31.63,318.71 L32.17,319.62 L32.72,320.22 L33.26,321.21 L33.8,320.43 L34.34,321.51 L34.88,321.61 L35.42,321.48 L35.97,322.34 L36.51,322.6 L37.05,322.94 L37.59,322.86 L38.13,322.93 L38.67,323.37 L39.22,323.78 L39.76,324.5 L40.3,324.77 L40.84,325.56 L41.38,325.02 L41.92,326.19 L42.46,327.47 L43.01,327.59 L43.55,327.06 L44.09,328.69 L44.63,328.9 L45.17,329.19 L45.71,330.46 L46.26,330.48 L46.8,331.26 L47.34,333.35 L47.88,333.85 L48.42,335.94 L48.96,337.07 L49.51,338.72 L50.05,340.49 L50.59,342.35 L51.13,344.24 L51.67,346.2 L52.21,348.27" fill="none" stroke="#111" stroke-width="1.5" stroke-linejoin="round" stroke-linecap="round" />
<path d="M51.67,346.2 L52.21,348.27 L52.76,350.4 L53.3,352.56 L53.84,354.71 L54.38,356.81 L54.92,358.95 L55.46,361.27 L56,364 L56.55,366.94 L57.09,369.7 L57.63,372.12 L58.17,374.41 L58.71,376.7 L59.25,379.11 L59.8,381.54 L60.34,383.85 L60.88,385.92 L61.42,387.85 L61.96,389.64 L62.5,391.23 L63.05,392.57 L63.59,393.83 L64.13,395.01 L64.67,396.07 L65.21,396.97 L65.75,397.67 L66.3,398.15 L66.84,398.56 L67.38,398.92 L67.92,399.21 L68.46,399.44 L69,399.6 L69.54,399.71 L70.09,399.8 L70.63,399.89 L71.17,399.96 L71.71,400.02 L72.25,400.06 L72.79,400.09 L73.34,400.1 L73.88,400.1 L74.42,400.1" fill="none" stroke="#111" stroke-width="0.9" stroke-linejoin="round" stroke-linecap="round" />
<rect x="621.5" y="24.5" width="136" height="137.7" fill="none" stroke="#999" stroke-width="1"/>
<line x1="621.4" y1="162.2" x2="621.4" y2="166.2" stroke="#999" stroke-width="1" />
<line x1="648.6" y1="162.2" x2="648.6" y2="166.2" stroke="#999" stroke-width="1" />
<line x1="675.8" y1="162.2" x2="675.8" y2="166.2" stroke="#999" stroke-width="1" />
<line x1="703" y1="162.2" x2="703" y2="166.2" stroke="#999" stroke-width="1" />
<line x1="730.2" y1="162.2" x2="730.2" y2="166.2" stroke="#999" stroke-width="1" />
<line x1="757.4" y1="162.2" x2="757.4" y2="166.2" stroke="#999" stroke-width="1" />
<line x1="635" y1="162.2" x2="635" y2="164.4" stroke="#999" stroke-width="1" />
<line x1="662.2" y1="162.2" x2="662.2" y2="164.4" stroke="#999" stroke-width="1" />
<line x1="689.4" y1="162.2" x2="689.4" y2="164.4" stroke="#999" stroke-width="1" />
<line x1="716.6" y1="162.2" x2="716.6" y2="164.4" stroke="#999" stroke-width="1" />
<line x1="743.8" y1="162.2" x2="743.8" y2="164.4" stroke="#999" stroke-width="1" />
<line x1="621.5" y1="162.2" x2="617.5" y2="162.2" stroke="#999" stroke-width="1" />
<line x1="621.5" y1="127.8" x2="617.5" y2="127.8" stroke="#999" stroke-width="1" />
<line x1="621.5" y1="93.4" x2="617.5" y2="93.4" stroke="#999" stroke-width="1" />
<line x1="621.5" y1="59" x2="617.5" y2="59" stroke="#999" stroke-width="1" />
<line x1="621.5" y1="24.6" x2="617.5" y2="24.6" stroke="#999" stroke-width="1" />
<line x1="621.5" y1="145" x2="619.3" y2="145" stroke="#999" stroke-width="1" />
<line x1="621.5" y1="110.6" x2="619.3" y2="110.6" stroke="#999" stroke-width="1" />
<line x1="621.5" y1="76.2" x2="619.3" y2="76.2" stroke="#999" stroke-width="1" />
<line x1="621.5" y1="41.8" x2="619.3" y2="41.8" stroke="#999" stroke-width="1" />
<text x="616" y="165.8" font-family="Liberation Serif" font-size="10.5" fill="#000" text-anchor="end" font-weight="normal" font-style="normal" >0</text>
<text x="616" y="131.4" font-family="Liberation Serif" font-size="10.5" fill="#000" text-anchor="end" font-weight="normal" font-style="normal" >0.2</text>
<text x="616" y="97" font-family="Liberation Serif" font-size="10.5" fill="#000" text-anchor="end" font-weight="normal" font-style="normal" >0.4</text>
<text x="616" y="62.6" font-family="Liberation Serif" font-size="10.5" fill="#000" text-anchor="end" font-weight="normal" font-style="normal" >0.6</text>
<text x="616" y="28.2" font-family="Liberation Serif" font-size="10.5" fill="#000" text-anchor="end" font-weight="normal" font-style="normal" >0.8</text>
<text x="621.4" y="175.5" font-family="Liberation Serif" font-size="10.5" fill="#000" text-anchor="middle" font-weight="normal" font-style="normal" >0</text>
<text x="648.6" y="175.5" font-family="Liberation Serif" font-size="10.5" fill="#000" text-anchor="middle" font-weight="normal" font-style="normal" >0,2</text>
<text x="675.8" y="175.5" font-family="Liberation Serif" font-size="10.5" fill="#000" text-anchor="middle" font-weight="normal" font-style="normal" >0,4</text>
<text x="703" y="175.5" font-family="Liberation Serif" font-size="10.5" fill="#000" text-anchor="middle" font-weight="normal" font-style="normal" >0,6</text>
<text x="730.2" y="175.5" font-family="Liberation Serif" font-size="10.5" fill="#000" text-anchor="middle" font-weight="normal" font-style="normal" >0,8</text>
<text x="757.4" y="175.5" font-family="Liberation Serif" font-size="10.5" fill="#000" text-anchor="middle" font-weight="normal" font-style="normal" >1</text>
<g transform="translate(676.1,188.7) scale(1)"><text x="-0.71" y="0" font-family="Liberation Sans" font-size="10.6" font-weight="bold">H</text><text x="8.13" y="-0.8" font-family="Liberation Serif" font-size="10.7">(</text><path d="M13.97,-5.33 C14.49,-6.81 15.45,-7.11 16.71,-7.11 L21,-7.11" fill="none" stroke="#000" stroke-width="0.87" stroke-linecap="round"/><path d="M17.89,-6.96 C17.3,-4 16.71,-1.78 16.56,-0.52" fill="none" stroke="#000" stroke-width="1.14" stroke-linecap="round"/><text x="22.46" y="-0.8" font-family="Liberation Serif" font-size="10.7">)</text></g>
<g transform="translate(595.3,107.8) rotate(-90) scale(1)"><text x="-0.33" y="0" font-family="Liberation Sans" font-size="11.4" font-weight="bold">S</text><text x="7.0" y="3.1" font-family="Liberation Sans" font-size="6.7" font-weight="bold">4</text><text x="12.34" y="-0.4" font-family="Liberation Serif" font-size="10.4">(</text><path d="M18.58,-4.62 C19.11,-5.98 20.1,-6.26 21.39,-6.26 L25.8,-6.26" fill="none" stroke="#000" stroke-width="0.81" stroke-linecap="round"/><path d="M22.61,-6.12 C22,-3.4 21.39,-1.36 21.24,-0.2" fill="none" stroke="#000" stroke-width="1.07" stroke-linecap="round"/><text x="27.2" y="-0.4" font-family="Liberation Serif" font-size="10.4">)</text></g>
<line x1="639.3" y1="43.4" x2="635.39" y2="53.47" stroke="#b8b8b8" stroke-width="2.0" />
<polygon points="631.8,62.7 631.65,51.48 639.48,54.53" fill="#b8b8b8"/>
<line x1="695.6" y1="65.1" x2="684.95" y2="77.18" stroke="#b8b8b8" stroke-width="2.0" />
<polygon points="678.4,84.6 682.13,74.02 688.43,79.58" fill="#b8b8b8"/>
<line x1="726.7" y1="87.7" x2="715.63" y2="92.01" stroke="#b8b8b8" stroke-width="2.0" />
<polygon points="706.4,95.6 714.57,87.91 717.62,95.74" fill="#b8b8b8"/>
<line x1="647.4" y1="136.1" x2="638.6" y2="124.25" stroke="#b8b8b8" stroke-width="2.0" />
<polygon points="632.7,116.3 642.27,122.15 635.53,127.15" fill="#b8b8b8"/>
<path d="M654.58,36.3 L653.45,39.68 L652.32,42.98 L651.19,46.2 L650.06,49.34 L648.93,52.39 L647.8,55.35 L646.67,58.22 L645.54,61.01 L644.41,63.71 L643.28,66.31 L642.15,68.83 L641.02,71.25 L639.89,73.57 L638.76,75.79 L637.63,77.92 L636.5,79.95 L635.37,81.87 L634.24,83.69 L633.11,85.39 L631.98,86.99 L630.85,88.47 L629.72,89.83 L628.59,91.07 L627.46,92.18 L626.33,93.15 L625.2,93.98 L624.07,94.65 L622.94,95.14 L621.81,95.43" fill="none" stroke="#3a9a3a" stroke-width="0.8" stroke-linejoin="round" stroke-linecap="round" />
<path d="M661.25,44.38 L659.89,47.31 L658.53,50.17 L657.17,52.95 L655.81,55.66 L654.45,58.3 L653.09,60.86 L651.73,63.35 L650.37,65.76 L649.01,68.09 L647.65,70.34 L646.29,72.51 L644.93,74.61 L643.57,76.61 L642.21,78.54 L640.85,80.37 L639.49,82.12 L638.13,83.78 L636.77,85.35 L635.41,86.83 L634.05,88.2 L632.69,89.48 L631.33,90.65 L629.97,91.72 L628.61,92.67 L627.25,93.51 L625.89,94.22 L624.53,94.79 L623.17,95.21 L621.81,95.44" fill="none" stroke="#55e5e5" stroke-width="0.8" stroke-linejoin="round" stroke-linecap="round" />
<path d="M667.78,52.46 L666.19,55 L664.61,57.48 L663.02,59.88 L661.44,62.22 L659.85,64.49 L658.27,66.69 L656.68,68.82 L655.1,70.88 L653.51,72.87 L651.92,74.78 L650.34,76.62 L648.75,78.39 L647.17,80.09 L645.58,81.7 L644,83.24 L642.41,84.7 L640.83,86.08 L639.24,87.38 L637.66,88.6 L636.07,89.72 L634.49,90.76 L632.9,91.71 L631.32,92.57 L629.73,93.33 L628.15,93.99 L626.56,94.54 L624.98,94.98 L623.39,95.29 L621.81,95.45" fill="none" stroke="#9a3a7a" stroke-width="0.8" stroke-linejoin="round" stroke-linecap="round" />
<path d="M674.85,61.24 L673.02,63.32 L671.19,65.34 L669.36,67.3 L667.53,69.2 L665.7,71.05 L663.87,72.83 L662.05,74.56 L660.22,76.22 L658.39,77.82 L656.56,79.36 L654.73,80.84 L652.9,82.25 L651.07,83.6 L649.24,84.88 L647.41,86.1 L645.58,87.25 L643.76,88.34 L641.93,89.35 L640.1,90.3 L638.27,91.17 L636.44,91.97 L634.61,92.7 L632.78,93.35 L630.95,93.92 L629.12,94.41 L627.29,94.82 L625.47,95.13 L623.64,95.35 L621.81,95.46" fill="none" stroke="#a050e0" stroke-width="0.8" stroke-linejoin="round" stroke-linecap="round" />
<path d="M681.65,69.32 L679.58,71.08 L677.52,72.78 L675.46,74.42 L673.39,75.99 L671.33,77.51 L669.27,78.96 L667.2,80.35 L665.14,81.68 L663.08,82.95 L661.01,84.16 L658.95,85.31 L656.89,86.39 L654.82,87.42 L652.76,88.38 L650.7,89.28 L648.63,90.12 L646.57,90.9 L644.51,91.62 L642.44,92.27 L640.38,92.87 L638.32,93.4 L636.25,93.88 L634.19,94.29 L632.13,94.64 L630.06,94.92 L628,95.15 L625.93,95.32 L623.87,95.42 L621.81,95.46" fill="none" stroke="#ffb040" stroke-width="0.8" stroke-linejoin="round" stroke-linecap="round" />
<path d="M695.25,86 L694.81,86.45 L694.25,87.06 L693.58,87.78 L692.83,88.57 L692.02,89.4 L691.16,90.22 L690.28,91 L689.4,91.68 L688.53,92.3 L687.65,92.9 L686.75,93.48 L685.8,94.04 L684.8,94.58 L683.72,95.08 L682.54,95.55 L681.24,95.98 L679.84,96.38 L678.35,96.76 L676.78,97.11 L675.12,97.43 L673.38,97.71 L671.55,97.94 L669.64,98.11 L667.64,98.22 L665.48,98.24 L663.13,98.18 L660.66,98.06 L658.12,97.89 L655.58,97.7 L653.11,97.51 L650.76,97.33 L648.6,97.18 L646.64,97.07 L644.81,96.96 L643.08,96.85 L641.43,96.74 L639.83,96.64 L638.24,96.53 L636.64,96.43 L635,96.32 L633.24,96.21 L631.36,96.09 L629.44,95.96 L627.55,95.84 L625.77,95.72 L624.17,95.62 L622.82,95.53 L621.81,95.46" fill="none" stroke="#ff40ff" stroke-width="0.8" stroke-linejoin="round" stroke-linecap="round" />
<path d="M702.05,94.6 L701.6,94.92 L701.02,95.36 L700.33,95.87 L699.55,96.44 L698.72,97.03 L697.87,97.6 L697.02,98.12 L696.2,98.56 L695.44,98.93 L694.71,99.25 L693.99,99.55 L693.24,99.82 L692.44,100.07 L691.55,100.31 L690.55,100.55 L689.4,100.8 L688.09,101.05 L686.63,101.31 L685.06,101.58 L683.41,101.83 L681.69,102.06 L679.95,102.26 L678.2,102.41 L676.48,102.52 L674.76,102.57 L672.99,102.58 L671.19,102.55 L669.38,102.49 L667.56,102.41 L665.75,102.29 L663.96,102.15 L662.2,102 L660.47,101.82 L658.75,101.6 L657.05,101.35 L655.36,101.08 L653.67,100.79 L651.98,100.5 L650.3,100.21 L648.6,99.94 L646.9,99.66 L645.19,99.39 L643.48,99.11 L641.77,98.83 L640.07,98.55 L638.37,98.26 L636.68,97.98 L635,97.7 L633.24,97.41 L631.36,97.09 L629.44,96.76 L627.55,96.44 L625.77,96.14 L624.17,95.87 L622.82,95.64 L621.81,95.46" fill="none" stroke="#40e8ff" stroke-width="0.8" stroke-linejoin="round" stroke-linecap="round" />
<path d="M708.44,102.69 L708.08,102.97 L707.65,103.37 L707.16,103.83 L706.57,104.34 L705.88,104.87 L705.06,105.4 L704.11,105.88 L703,106.3 L701.69,106.68 L700.17,107.07 L698.5,107.45 L696.71,107.8 L694.86,108.12 L692.99,108.39 L691.16,108.59 L689.4,108.71 L687.7,108.74 L686,108.69 L684.3,108.58 L682.6,108.42 L680.9,108.22 L679.2,107.99 L677.5,107.75 L675.8,107.5 L674.1,107.25 L672.4,106.96 L670.7,106.65 L669,106.32 L667.3,105.98 L665.6,105.63 L663.9,105.27 L662.2,104.92 L660.5,104.58 L658.8,104.22 L657.1,103.86 L655.4,103.49 L653.7,103.12 L652,102.75 L650.3,102.38 L648.6,102 L646.9,101.62 L645.19,101.25 L643.48,100.87 L641.77,100.48 L640.07,100.1 L638.37,99.71 L636.68,99.31 L635,98.9 L633.24,98.47 L631.36,97.99 L629.44,97.49 L627.55,96.99 L625.77,96.52 L624.17,96.09 L622.82,95.73 L621.81,95.46" fill="none" stroke="#b050ff" stroke-width="0.8" stroke-linejoin="round" stroke-linecap="round" />
<path d="M715.65,111.29 L715.25,111.49 L714.78,111.77 L714.22,112.11 L713.57,112.48 L712.82,112.85 L711.94,113.19 L710.94,113.49 L709.8,113.7 L708.47,113.84 L706.95,113.96 L705.27,114.04 L703.48,114.08 L701.64,114.09 L699.78,114.06 L697.95,113.99 L696.2,113.87 L694.55,113.7 L692.96,113.49 L691.4,113.24 L689.83,112.94 L688.2,112.61 L686.48,112.26 L684.63,111.87 L682.6,111.46 L680.38,111.02 L677.98,110.54 L675.45,110.02 L672.83,109.48 L670.15,108.92 L667.46,108.34 L664.8,107.75 L662.2,107.16 L659.65,106.57 L657.09,105.96 L654.53,105.35 L651.97,104.72 L649.42,104.07 L646.87,103.41 L644.33,102.72 L641.8,102 L639.14,101.2 L636.3,100.31 L633.39,99.36 L630.53,98.41 L627.82,97.5 L625.39,96.67 L623.35,95.98 L621.81,95.46" fill="none" stroke="#d0a0a0" stroke-width="0.8" stroke-linejoin="round" stroke-linecap="round" />
<path d="M721.63,120.06 L721.3,120.15 L720.93,120.3 L720.49,120.47 L719.97,120.65 L719.34,120.81 L718.58,120.93 L717.67,120.97 L716.6,120.92 L715.31,120.76 L713.8,120.52 L712.13,120.2 L710.34,119.84 L708.48,119.46 L706.6,119.07 L704.76,118.69 L703,118.34 L701.35,118.04 L699.76,117.76 L698.2,117.49 L696.62,117.21 L695,116.92 L693.28,116.59 L691.43,116.21 L689.4,115.76 L687.18,115.24 L684.78,114.67 L682.25,114.05 L679.62,113.39 L676.95,112.71 L674.26,112.01 L671.6,111.3 L669,110.6 L666.49,109.91 L664.05,109.23 L661.63,108.54 L659.2,107.84 L656.72,107.1 L654.15,106.32 L651.46,105.49 L648.6,104.58 L645.37,103.53 L641.72,102.31 L637.84,100.99 L633.93,99.65 L630.17,98.35 L626.77,97.17 L623.92,96.19 L621.81,95.46" fill="none" stroke="#e4e4e4" stroke-width="0.8" stroke-linejoin="round" stroke-linecap="round" />
<path d="M729.66,128.32 L726.89,128.19 L724.13,127.99 L721.36,127.72 L718.59,127.38 L715.83,126.99 L713.06,126.54 L710.3,126.03 L707.53,125.47 L704.77,124.86 L702,124.21 L699.24,123.51 L696.47,122.77 L693.71,121.99 L690.94,121.18 L688.18,120.33 L685.41,119.45 L682.65,118.54 L679.88,117.61 L677.11,116.66 L674.35,115.68 L671.58,114.69 L668.82,113.68 L666.05,112.65 L663.29,111.61 L660.52,110.57 L657.76,109.51 L654.99,108.45 L652.23,107.38 L649.46,106.31 L646.7,105.24 L643.93,104.17 L641.17,103.1 L638.4,102.04 L635.63,100.98 L632.87,99.92 L630.1,98.88 L627.34,97.84 L624.57,96.81 L621.81,95.79" fill="none" stroke="#4040ff" stroke-width="0.8" stroke-linejoin="round" stroke-linecap="round" />
<path d="M736.73,136.92 L733.78,136.24 L730.83,135.52 L727.89,134.75 L724.94,133.96 L721.99,133.12 L719.05,132.25 L716.1,131.35 L713.15,130.42 L710.21,129.46 L707.26,128.48 L704.31,127.47 L701.37,126.44 L698.42,125.39 L695.47,124.32 L692.53,123.23 L689.58,122.13 L686.63,121.01 L683.69,119.89 L680.74,118.75 L677.79,117.6 L674.85,116.44 L671.9,115.28 L668.95,114.11 L666.01,112.94 L663.06,111.77 L660.11,110.6 L657.17,109.43 L654.22,108.26 L651.27,107.09 L648.33,105.92 L645.38,104.77 L642.43,103.61 L639.49,102.47 L636.54,101.33 L633.59,100.2 L630.65,99.08 L627.7,97.97 L624.75,96.87 L621.81,95.79" fill="none" stroke="#50dd50" stroke-width="0.8" stroke-linejoin="round" stroke-linecap="round" />
<path d="M743.26,145.17 L740.14,143.96 L737.03,142.73 L733.91,141.5 L730.8,140.24 L727.69,138.98 L724.57,137.71 L721.46,136.43 L718.34,135.14 L715.23,133.85 L712.12,132.55 L709,131.24 L705.89,129.93 L702.77,128.62 L699.66,127.3 L696.55,125.98 L693.43,124.67 L690.32,123.35 L687.2,122.03 L684.09,120.72 L680.97,119.4 L677.86,118.09 L674.75,116.79 L671.63,115.49 L668.52,114.19 L665.4,112.9 L662.29,111.62 L659.18,110.34 L656.06,109.07 L652.95,107.81 L649.83,106.56 L646.72,105.32 L643.61,104.09 L640.49,102.87 L637.38,101.66 L634.26,100.46 L631.15,99.27 L628.04,98.1 L624.92,96.94 L621.81,95.79" fill="none" stroke="#ff4040" stroke-width="0.8" stroke-linejoin="round" stroke-linecap="round" />
<path d="M750.33,153.77 L747.03,152.01 L743.74,150.27 L740.44,148.54 L737.15,146.83 L733.85,145.13 L730.56,143.44 L727.26,141.77 L723.96,140.11 L720.67,138.47 L717.37,136.84 L714.08,135.23 L710.78,133.63 L707.49,132.04 L704.19,130.47 L700.9,128.91 L697.6,127.37 L694.31,125.84 L691.01,124.32 L687.72,122.82 L684.42,121.34 L681.12,119.86 L677.83,118.41 L674.53,116.96 L671.24,115.53 L667.94,114.12 L664.65,112.72 L661.35,111.33 L658.06,109.96 L654.76,108.6 L651.47,107.25 L648.17,105.92 L644.88,104.6 L641.58,103.3 L638.28,102.01 L634.99,100.74 L631.69,99.48 L628.4,98.23 L625.1,97 L621.81,95.79" fill="none" stroke="#333" stroke-width="0.8" stroke-linejoin="round" stroke-linecap="round" />
<path d="M705.72,130.5 L702.83,129.15 L699.93,127.81 L697.04,126.49 L694.15,125.17 L691.25,123.86 L688.36,122.57 L685.47,121.28 L682.57,120.01 L679.68,118.75 L676.78,117.49 L673.89,116.25 L671,115.02 L668.1,113.8 L665.21,112.6 L662.32,111.4 L659.42,110.21 L656.53,109.04 L653.64,107.87 L650.74,106.72 L647.85,105.58 L644.96,104.44 L642.06,103.32 L639.17,102.21 L636.28,101.11 L633.38,100.03 L630.49,98.95 L627.6,97.88 L624.7,96.83 L621.81,95.78" fill="none" stroke="#7030c0" stroke-width="0.75" stroke-linejoin="round" stroke-linecap="round" />
<path d="M705.72,132.22 L702.83,130.81 L699.93,129.41 L697.04,128.03 L694.15,126.65 L691.25,125.29 L688.36,123.93 L685.47,122.59 L682.57,121.26 L679.68,119.93 L676.78,118.62 L673.89,117.32 L671,116.04 L668.1,114.76 L665.21,113.49 L662.32,112.23 L659.42,110.99 L656.53,109.75 L653.64,108.53 L650.74,107.32 L647.85,106.12 L644.96,104.93 L642.06,103.75 L639.17,102.58 L636.28,101.42 L633.38,100.27 L630.49,99.13 L627.6,98.01 L624.7,96.89 L621.81,95.79" fill="none" stroke="#2020a0" stroke-width="0.75" stroke-linejoin="round" stroke-linecap="round" />
<path d="M705.72,129.13 L702.83,127.82 L699.93,126.53 L697.04,125.25 L694.15,123.98 L691.25,122.72 L688.36,121.47 L685.47,120.24 L682.57,119.01 L679.68,117.79 L676.78,116.59 L673.89,115.4 L671,114.21 L668.1,113.04 L665.21,111.88 L662.32,110.73 L659.42,109.59 L656.53,108.46 L653.64,107.35 L650.74,106.24 L647.85,105.14 L644.96,104.06 L642.06,102.99 L639.17,101.92 L636.28,100.87 L633.38,99.83 L630.49,98.8 L627.6,97.78 L624.7,96.77 L621.81,95.78" fill="none" stroke="#40a040" stroke-width="0.75" stroke-linejoin="round" stroke-linecap="round" />
<path d="M730.2,162.2 L730.58,162.05 L731.11,161.85 L731.73,161.62 L732.42,161.36 L733.13,161.08 L733.81,160.77 L734.44,160.46 L734.96,160.14 L735.41,159.81 L735.85,159.48 L736.26,159.14 L736.63,158.78 L736.95,158.4 L737.22,157.98 L737.42,157.53 L737.54,157.04 L737.61,156.5 L737.62,155.92 L737.58,155.29 L737.48,154.64 L737.3,153.97 L737.06,153.28 L736.73,152.58 L736.32,151.88 L735.84,151.19 L735.31,150.5 L734.71,149.8 L734.03,149.08 L733.26,148.34 L732.37,147.57 L731.36,146.74 L730.2,145.86 L728.9,144.93 L727.49,143.95 L725.95,142.94 L724.29,141.88 L722.53,140.79 L720.65,139.65 L718.68,138.48 L716.6,137.26 L714.38,135.97 L711.98,134.59 L709.45,133.14 L706.82,131.67 L704.15,130.2 L701.46,128.75 L698.8,127.37 L696.2,126.08 L693.7,124.9 L691.26,123.81 L688.85,122.78 L686.42,121.78 L683.95,120.78 L681.38,119.75 L678.68,118.66 L675.8,117.48 L672.72,116.2 L669.47,114.85 L666.08,113.44 L662.6,112 L659.07,110.54 L655.53,109.09 L652.03,107.67 L648.6,106.3 L645.05,104.9 L641.25,103.42 L637.35,101.91 L633.5,100.44 L629.87,99.06 L626.61,97.81 L623.87,96.77 L621.81,95.98" fill="none" stroke="#3030ff" stroke-width="0.8" stroke-linejoin="round" stroke-linecap="round" />
<path d="M716.6,162.2 L717.14,162.01 L717.89,161.78 L718.78,161.5 L719.75,161.19 L720.76,160.84 L721.74,160.46 L722.64,160.05 L723.4,159.62 L724.06,159.16 L724.71,158.65 L725.32,158.1 L725.87,157.53 L726.37,156.95 L726.79,156.35 L727.12,155.74 L727.34,155.15 L727.48,154.56 L727.53,153.98 L727.51,153.4 L727.4,152.8 L727.21,152.19 L726.94,151.55 L726.58,150.88 L726.12,150.16 L725.6,149.42 L725.04,148.67 L724.4,147.91 L723.66,147.11 L722.81,146.26 L721.82,145.35 L720.66,144.36 L719.32,143.28 L717.76,142.08 L716,140.77 L714.08,139.36 L712.01,137.91 L709.84,136.42 L707.59,134.94 L705.3,133.49 L703,132.1 L700.69,130.77 L698.35,129.48 L695.95,128.2 L693.48,126.94 L690.93,125.68 L688.27,124.4 L685.5,123.11 L682.6,121.78 L679.57,120.44 L676.43,119.12 L673.18,117.79 L669.82,116.44 L666.37,115.06 L662.81,113.63 L659.15,112.15 L655.4,110.6 L651.28,108.87 L646.66,106.91 L641.79,104.85 L636.9,102.76 L632.23,100.77 L627.99,98.96 L624.44,97.45 L621.81,96.32" fill="none" stroke="#a040ff" stroke-width="0.8" stroke-linejoin="round" stroke-linecap="round" />
<path d="M703.95,162.2 L704.48,161.96 L705.21,161.65 L706.08,161.3 L707.04,160.89 L708.01,160.43 L708.95,159.92 L709.8,159.36 L710.48,158.76 L711.05,158.1 L711.57,157.36 L712.04,156.57 L712.45,155.73 L712.79,154.86 L713.06,153.98 L713.24,153.1 L713.34,152.22 L713.35,151.37 L713.29,150.52 L713.15,149.66 L712.94,148.79 L712.64,147.9 L712.24,146.98 L711.75,146.01 L711.16,145 L710.46,143.92 L709.67,142.77 L708.78,141.58 L707.79,140.36 L706.72,139.12 L705.56,137.9 L704.32,136.7 L703,135.54 L701.61,134.43 L700.14,133.35 L698.6,132.29 L696.96,131.24 L695.24,130.19 L693.41,129.13 L691.46,128.05 L689.4,126.94 L687.22,125.82 L684.94,124.7 L682.55,123.57 L680.05,122.42 L677.45,121.25 L674.74,120.05 L671.92,118.79 L669,117.48 L665.88,116.08 L662.51,114.58 L658.98,113.02 L655.37,111.43 L651.77,109.84 L648.25,108.29 L644.9,106.81 L641.8,105.44 L638.82,104.11 L635.83,102.78 L632.9,101.47 L630.1,100.22 L627.52,99.06 L625.23,98.03 L623.3,97.16 L621.81,96.5" fill="none" stroke="#30a030" stroke-width="0.8" stroke-linejoin="round" stroke-linecap="round" />
<path d="M689.4,162.2 L690.16,161.96 L691.21,161.67 L692.45,161.34 L693.82,160.94 L695.23,160.49 L696.6,159.98 L697.86,159.4 L698.92,158.76 L699.85,158.03 L700.76,157.21 L701.62,156.31 L702.4,155.35 L703.1,154.36 L703.67,153.35 L704.1,152.35 L704.36,151.36 L704.45,150.4 L704.4,149.42 L704.21,148.44 L703.89,147.45 L703.47,146.44 L702.94,145.41 L702.33,144.36 L701.64,143.28 L700.87,142.16 L699.99,140.99 L699.01,139.8 L697.94,138.58 L696.78,137.36 L695.54,136.16 L694.21,134.97 L692.8,133.82 L691.29,132.7 L689.66,131.59 L687.93,130.49 L686.13,129.41 L684.26,128.34 L682.36,127.29 L680.44,126.25 L678.52,125.22 L676.61,124.23 L674.68,123.28 L672.73,122.37 L670.74,121.46 L668.71,120.53 L666.61,119.58 L664.45,118.57 L662.2,117.48 L659.84,116.31 L657.38,115.08 L654.83,113.8 L652.23,112.48 L649.6,111.14 L646.97,109.8 L644.36,108.47 L641.8,107.16 L639.14,105.8 L636.3,104.34 L633.39,102.84 L630.53,101.35 L627.82,99.95 L625.39,98.69 L623.35,97.64 L621.81,96.84" fill="none" stroke="#ff4040" stroke-width="0.8" stroke-linejoin="round" stroke-linecap="round" />
<path d="M675.8,162.2 L676.51,161.97 L677.5,161.72 L678.68,161.42 L679.96,161.06 L681.29,160.63 L682.56,160.11 L683.7,159.49 L684.64,158.76 L685.42,157.87 L686.13,156.82 L686.78,155.64 L687.34,154.4 L687.83,153.11 L688.22,151.83 L688.52,150.61 L688.72,149.47 L688.81,148.41 L688.81,147.38 L688.71,146.37 L688.52,145.39 L688.25,144.42 L687.89,143.46 L687.46,142.51 L686.95,141.56 L686.33,140.61 L685.56,139.66 L684.69,138.72 L683.75,137.79 L682.77,136.88 L681.8,135.99 L680.87,135.14 L680.02,134.34 L679.25,133.6 L678.56,132.94 L677.91,132.33 L677.25,131.73 L676.57,131.13 L675.83,130.5 L674.99,129.8 L674.03,129 L672.96,128.13 L671.81,127.2 L670.6,126.23 L669.31,125.21 L667.94,124.15 L666.51,123.05 L665,121.92 L663.42,120.75 L661.74,119.51 L659.94,118.19 L658.04,116.82 L656.09,115.42 L654.1,114.01 L652.1,112.64 L650.12,111.32 L648.19,110.08 L646.27,108.91 L644.32,107.76 L642.35,106.65 L640.4,105.57 L638.47,104.54 L636.6,103.57 L634.8,102.66 L633.1,101.83 L631.43,101.06 L629.74,100.34 L628.09,99.68 L626.51,99.08 L625.05,98.54 L623.75,98.07 L622.65,97.68 L621.81,97.36" fill="none" stroke="#ffb040" stroke-width="0.8" stroke-linejoin="round" stroke-linecap="round" />
<path d="M657.03,162.2 L657.5,162.01 L658.15,161.77 L658.92,161.49 L659.77,161.17 L660.64,160.81 L661.48,160.43 L662.25,160.03 L662.88,159.62 L663.41,159.19 L663.89,158.74 L664.32,158.27 L664.71,157.77 L665.05,157.25 L665.36,156.69 L665.63,156.11 L665.87,155.49 L666.08,154.83 L666.25,154.12 L666.38,153.37 L666.48,152.6 L666.53,151.81 L666.54,151.02 L666.5,150.24 L666.42,149.47 L666.28,148.74 L666.11,148.04 L665.89,147.35 L665.63,146.66 L665.32,145.94 L664.96,145.17 L664.56,144.35 L664.1,143.45 L663.6,142.47 L663.04,141.43 L662.43,140.33 L661.77,139.18 L661.08,138 L660.35,136.8 L659.59,135.57 L658.8,134.34 L657.98,133.07 L657.12,131.74 L656.23,130.37 L655.3,128.99 L654.34,127.61 L653.36,126.25 L652.35,124.93 L651.32,123.67 L650.26,122.47 L649.16,121.32 L648.02,120.2 L646.87,119.1 L645.7,118.02 L644.52,116.94 L643.36,115.84 L642.21,114.73 L641.08,113.59 L639.98,112.42 L638.89,111.25 L637.79,110.08 L636.67,108.92 L635.53,107.79 L634.34,106.68 L633.1,105.61 L631.71,104.54 L630.16,103.43 L628.53,102.33 L626.88,101.26 L625.31,100.26 L623.89,99.37 L622.69,98.62 L621.81,98.04" fill="none" stroke="#333333" stroke-width="0.8" stroke-linejoin="round" stroke-linecap="round" />
<rect x="224.5" y="280.5" width="134" height="135.5" fill="none" stroke="#999" stroke-width="1"/>
<line x1="224.4" y1="416" x2="224.4" y2="420" stroke="#999" stroke-width="1" />
<line x1="251.2" y1="416" x2="251.2" y2="420" stroke="#999" stroke-width="1" />
<line x1="278" y1="416" x2="278" y2="420" stroke="#999" stroke-width="1" />
<line x1="304.8" y1="416" x2="304.8" y2="420" stroke="#999" stroke-width="1" />
<line x1="331.6" y1="416" x2="331.6" y2="420" stroke="#999" stroke-width="1" />
<line x1="358.4" y1="416" x2="358.4" y2="420" stroke="#999" stroke-width="1" />
<line x1="237.8" y1="416" x2="237.8" y2="418.2" stroke="#999" stroke-width="1" />
<line x1="264.6" y1="416" x2="264.6" y2="418.2" stroke="#999" stroke-width="1" />
<line x1="291.4" y1="416" x2="291.4" y2="418.2" stroke="#999" stroke-width="1" />
<line x1="318.2" y1="416" x2="318.2" y2="418.2" stroke="#999" stroke-width="1" />
<line x1="345" y1="416" x2="345" y2="418.2" stroke="#999" stroke-width="1" />
<line x1="224.5" y1="416.2" x2="220.5" y2="416.2" stroke="#999" stroke-width="1" />
<line x1="224.5" y1="384.24" x2="220.5" y2="384.24" stroke="#999" stroke-width="1" />
<line x1="224.5" y1="352.28" x2="220.5" y2="352.28" stroke="#999" stroke-width="1" />
<line x1="224.5" y1="320.32" x2="220.5" y2="320.32" stroke="#999" stroke-width="1" />
<line x1="224.5" y1="288.36" x2="220.5" y2="288.36" stroke="#999" stroke-width="1" />
<line x1="224.5" y1="400.22" x2="222.3" y2="400.22" stroke="#999" stroke-width="1" />
<line x1="224.5" y1="368.26" x2="222.3" y2="368.26" stroke="#999" stroke-width="1" />
<line x1="224.5" y1="336.3" x2="222.3" y2="336.3" stroke="#999" stroke-width="1" />
<line x1="224.5" y1="304.34" x2="222.3" y2="304.34" stroke="#999" stroke-width="1" />
<text x="219.5" y="419.8" font-family="Liberation Serif" font-size="10.5" fill="#000" text-anchor="end" font-weight="normal" font-style="normal" >0</text>
<text x="219.5" y="387.84" font-family="Liberation Serif" font-size="10.5" fill="#000" text-anchor="end" font-weight="normal" font-style="normal" >0.2</text>
<text x="219.5" y="355.88" font-family="Liberation Serif" font-size="10.5" fill="#000" text-anchor="end" font-weight="normal" font-style="normal" >0.4</text>
<text x="219.5" y="323.92" font-family="Liberation Serif" font-size="10.5" fill="#000" text-anchor="end" font-weight="normal" font-style="normal" >0.6</text>
<text x="219.5" y="291.96" font-family="Liberation Serif" font-size="10.5" fill="#000" text-anchor="end" font-weight="normal" font-style="normal" >0.8</text>
<text x="224.4" y="429" font-family="Liberation Serif" font-size="10.5" fill="#000" text-anchor="middle" font-weight="normal" font-style="normal" >0</text>
<text x="251.2" y="429" font-family="Liberation Serif" font-size="10.5" fill="#000" text-anchor="middle" font-weight="normal" font-style="normal" >0.2</text>
<text x="278" y="429" font-family="Liberation Serif" font-size="10.5" fill="#000" text-anchor="middle" font-weight="normal" font-style="normal" >0.4</text>
<text x="304.8" y="429" font-family="Liberation Serif" font-size="10.5" fill="#000" text-anchor="middle" font-weight="normal" font-style="normal" >0.6</text>
<text x="331.6" y="429" font-family="Liberation Serif" font-size="10.5" fill="#000" text-anchor="middle" font-weight="normal" font-style="normal" >0.8</text>
<text x="358.4" y="429" font-family="Liberation Serif" font-size="10.5" fill="#000" text-anchor="middle" font-weight="normal" font-style="normal" >1</text>
<g transform="translate(277.9,442) scale(0.96)"><text x="-0.71" y="0" font-family="Liberation Sans" font-size="10.6" font-weight="bold">H</text><text x="8.13" y="-0.8" font-family="Liberation Serif" font-size="10.7">(</text><path d="M13.97,-5.33 C14.49,-6.81 15.45,-7.11 16.71,-7.11 L21,-7.11" fill="none" stroke="#000" stroke-width="0.87" stroke-linecap="round"/><path d="M17.89,-6.96 C17.3,-4 16.71,-1.78 16.56,-0.52" fill="none" stroke="#000" stroke-width="1.14" stroke-linecap="round"/><text x="22.46" y="-0.8" font-family="Liberation Serif" font-size="10.7">)</text></g>
<g transform="translate(197.9,362.5) rotate(-90) scale(0.93)"><text x="-0.33" y="0" font-family="Liberation Sans" font-size="11.4" font-weight="bold">S</text><text x="7.0" y="3.1" font-family="Liberation Sans" font-size="6.7" font-weight="bold">4</text><text x="12.34" y="-0.4" font-family="Liberation Serif" font-size="10.4">(</text><path d="M18.58,-4.62 C19.11,-5.98 20.1,-6.26 21.39,-6.26 L25.8,-6.26" fill="none" stroke="#000" stroke-width="0.81" stroke-linecap="round"/><path d="M22.61,-6.12 C22,-3.4 21.39,-1.36 21.24,-0.2" fill="none" stroke="#000" stroke-width="1.07" stroke-linecap="round"/><text x="27.2" y="-0.4" font-family="Liberation Serif" font-size="10.4">)</text></g>
<line x1="238.8" y1="308.4" x2="236.23" y2="328.98" stroke="#b8b8b8" stroke-width="2.0" />
<polygon points="235,338.8 232.12,327.96 240.46,329" fill="#b8b8b8"/>
<line x1="286.9" y1="318.1" x2="284.3" y2="331.38" stroke="#b8b8b8" stroke-width="2.0" />
<polygon points="282.4,341.1 280.28,330.09 288.52,331.7" fill="#b8b8b8"/>
<line x1="315.6" y1="357.8" x2="310.4" y2="364.28" stroke="#b8b8b8" stroke-width="2.0" />
<polygon points="304.2,372 307.44,361.26 313.99,366.52" fill="#b8b8b8"/>
<line x1="257.3" y1="389.7" x2="243.89" y2="386.26" stroke="#b8b8b8" stroke-width="2.0" />
<polygon points="234.3,383.8 245.42,382.32 243.33,390.45" fill="#b8b8b8"/>
<line x1="298.3" y1="398.7" x2="291.11" y2="396.36" stroke="#b8b8b8" stroke-width="2.0" />
<polygon points="281.7,393.3 292.89,392.52 290.29,400.51" fill="#b8b8b8"/>
<line x1="244.5" y1="411" x2="256.18" y2="405.39" stroke="#b8b8b8" stroke-width="2.0" />
<polygon points="265.1,401.1 257.55,409.39 253.91,401.82" fill="#b8b8b8"/>
<path d="M251.87,288.41 L251.77,289.76 L251.64,291.53 L251.5,293.63 L251.33,295.99 L251.14,298.5 L250.94,301.1 L250.74,303.68 L250.53,306.18 L250.31,308.68 L250.07,311.32 L249.83,314.03 L249.57,316.78 L249.3,319.51 L249.04,322.19 L248.78,324.76 L248.52,327.18 L248.27,329.47 L248.02,331.7 L247.77,333.87 L247.51,335.96 L247.26,337.95 L247.01,339.86 L246.76,341.65 L246.51,343.32 L246.26,344.86 L246.02,346.26 L245.79,347.54 L245.55,348.73 L245.3,349.84 L245.05,350.91 L244.78,351.96 L244.5,353.01 L244.2,354.05 L243.89,355.04 L243.57,355.99 L243.24,356.9 L242.9,357.78 L242.55,358.64 L242.19,359.47 L241.82,360.28 L241.43,361.08 L241.03,361.87 L240.61,362.63 L240.19,363.36 L239.76,364.06 L239.32,364.73 L238.89,365.36 L238.47,365.94 L238.06,366.46 L237.68,366.94 L237.3,367.38 L236.92,367.78 L236.52,368.15 L236.1,368.51 L235.63,368.84 L235.12,369.17 L234.51,369.48 L233.8,369.79 L233.02,370.07 L232.23,370.34 L231.47,370.57 L230.77,370.79 L230.19,370.96 L229.76,371.1" fill="none" stroke="#30a030" stroke-width="0.8" stroke-linejoin="round" stroke-linecap="round" />
<path d="M265.54,304.56 L265.42,306.06 L265.26,308.05 L265.07,310.41 L264.86,313.04 L264.63,315.83 L264.4,318.65 L264.16,321.39 L263.93,323.94 L263.7,326.4 L263.47,328.9 L263.22,331.43 L262.98,333.94 L262.72,336.41 L262.46,338.82 L262.19,341.13 L261.92,343.32 L261.64,345.41 L261.36,347.41 L261.07,349.34 L260.77,351.2 L260.47,352.98 L260.16,354.68 L259.84,356.31 L259.51,357.86 L259.17,359.34 L258.83,360.75 L258.49,362.09 L258.13,363.35 L257.77,364.53 L257.38,365.63 L256.98,366.63 L256.56,367.55 L256.12,368.35 L255.66,369.04 L255.19,369.63 L254.7,370.13 L254.19,370.58 L253.66,370.99 L253.11,371.37 L252.54,371.75 L251.9,372.11 L251.17,372.44 L250.39,372.73 L249.61,372.98 L248.86,373.2 L248.17,373.39 L247.6,373.55 L247.18,373.69" fill="none" stroke="#ff40ff" stroke-width="0.8" stroke-linejoin="round" stroke-linecap="round" />
<path d="M278.94,320.07 L278.82,321.37 L278.66,323.1 L278.48,325.17 L278.28,327.46 L278.05,329.88 L277.82,332.32 L277.57,334.68 L277.33,336.87 L277.08,338.95 L276.81,341.06 L276.53,343.18 L276.24,345.28 L275.95,347.34 L275.65,349.33 L275.35,351.23 L275.05,353.01 L274.76,354.68 L274.48,356.26 L274.2,357.75 L273.91,359.17 L273.62,360.53 L273.31,361.83 L272.99,363.09 L272.64,364.32 L272.28,365.51 L271.9,366.66 L271.51,367.77 L271.11,368.82 L270.69,369.82 L270.24,370.75 L269.78,371.61 L269.29,372.39 L268.77,373.1 L268.23,373.73 L267.66,374.28 L267.07,374.78 L266.47,375.21 L265.85,375.6 L265.23,375.95 L264.6,376.27 L263.93,376.54 L263.18,376.74 L262.4,376.89 L261.63,377 L260.89,377.08 L260.22,377.13 L259.66,377.19 L259.24,377.24" fill="none" stroke="#a040ff" stroke-width="0.8" stroke-linejoin="round" stroke-linecap="round" />
<path d="M291.94,336.06 L291.8,337.12 L291.62,338.54 L291.41,340.24 L291.17,342.11 L290.9,344.09 L290.63,346.09 L290.35,348.01 L290.06,349.79 L289.77,351.46 L289.46,353.15 L289.14,354.83 L288.81,356.5 L288.47,358.13 L288.12,359.72 L287.75,361.25 L287.38,362.7 L287,364.1 L286.62,365.45 L286.23,366.76 L285.83,368.01 L285.41,369.21 L284.98,370.34 L284.52,371.41 L284.03,372.39 L283.51,373.3 L282.97,374.14 L282.4,374.9 L281.81,375.6 L281.21,376.25 L280.59,376.84 L279.97,377.38 L279.34,377.89 L278.7,378.34 L278.05,378.74 L277.38,379.09 L276.7,379.39 L276.02,379.64 L275.34,379.85 L274.65,380.02 L273.98,380.15 L273.27,380.21 L272.51,380.21 L271.73,380.15 L270.96,380.05 L270.24,379.93 L269.58,379.81 L269.03,379.72 L268.62,379.66" fill="none" stroke="#d0a0a0" stroke-width="0.8" stroke-linejoin="round" stroke-linecap="round" />
<path d="M305.34,352.37 L305.15,353.11 L304.9,354.1 L304.6,355.27 L304.27,356.58 L303.92,357.95 L303.54,359.34 L303.16,360.67 L302.79,361.9 L302.41,363.05 L302.02,364.2 L301.62,365.35 L301.21,366.48 L300.78,367.6 L300.34,368.69 L299.9,369.75 L299.44,370.78 L298.97,371.79 L298.48,372.79 L297.98,373.77 L297.47,374.72 L296.96,375.63 L296.44,376.5 L295.93,377.3 L295.42,378.05 L294.93,378.72 L294.45,379.33 L293.97,379.89 L293.49,380.4 L293.01,380.87 L292.5,381.3 L291.97,381.7 L291.4,382.08 L290.79,382.45 L290.15,382.79 L289.49,383.1 L288.8,383.38 L288.11,383.61 L287.41,383.8 L286.72,383.94 L286.04,384.02 L285.33,384.02 L284.57,383.93 L283.79,383.77 L283.03,383.58 L282.3,383.37 L281.64,383.17 L281.09,383 L280.68,382.89" fill="none" stroke="#4040ff" stroke-width="0.8" stroke-linejoin="round" stroke-linecap="round" />
<path d="M318.2,368.03 L317.95,368.69 L317.61,369.57 L317.22,370.62 L316.78,371.78 L316.3,373 L315.81,374.22 L315.32,375.38 L314.85,376.43 L314.38,377.41 L313.89,378.39 L313.39,379.35 L312.88,380.29 L312.37,381.2 L311.85,382.08 L311.34,382.92 L310.83,383.7 L310.33,384.44 L309.83,385.15 L309.32,385.82 L308.82,386.46 L308.32,387.05 L307.82,387.59 L307.31,388.1 L306.81,388.55 L306.31,388.95 L305.82,389.31 L305.33,389.62 L304.84,389.89 L304.35,390.11 L303.84,390.28 L303.32,390.41 L302.79,390.48 L302.2,390.48 L301.55,390.39 L300.87,390.23 L300.19,390.04 L299.54,389.83 L298.96,389.63 L298.47,389.46 L298.1,389.35" fill="none" stroke="#50e050" stroke-width="0.8" stroke-linejoin="round" stroke-linecap="round" />
<path d="M331.6,383.7 L331.35,384.14 L331.01,384.72 L330.62,385.41 L330.18,386.17 L329.7,386.98 L329.21,387.81 L328.72,388.61 L328.25,389.35 L327.77,390.08 L327.28,390.83 L326.76,391.59 L326.24,392.35 L325.72,393.09 L325.2,393.78 L324.71,394.43 L324.23,395 L323.78,395.53 L323.36,396.02 L322.95,396.48 L322.56,396.89 L322.16,397.25 L321.75,397.54 L321.33,397.77 L320.88,397.91 L320.38,397.94 L319.83,397.85 L319.24,397.68 L318.66,397.45 L318.1,397.19 L317.6,396.95 L317.17,396.75 L316.86,396.62" fill="none" stroke="#ff4040" stroke-width="0.8" stroke-linejoin="round" stroke-linecap="round" />
<path d="M250.93,416 L251.46,415.77 L252.16,415.48 L252.99,415.13 L253.91,414.74 L254.9,414.3 L255.92,413.82 L256.93,413.31 L257.9,412.77 L258.87,412.2 L259.88,411.58 L260.92,410.93 L261.98,410.25 L263.03,409.52 L264.05,408.76 L265.02,407.96 L265.94,407.12 L266.81,406.22 L267.67,405.27 L268.5,404.27 L269.29,403.23 L270.04,402.18 L270.75,401.12 L271.39,400.07 L271.97,399.04 L272.49,398.03 L272.97,397 L273.4,395.96 L273.77,394.93 L274.09,393.91 L274.34,392.91 L274.53,391.92 L274.65,390.97 L274.7,390.02 L274.68,389.08 L274.59,388.15 L274.44,387.23 L274.23,386.35 L273.97,385.52 L273.67,384.74 L273.31,384.02 L272.89,383.38 L272.39,382.79 L271.83,382.25 L271.22,381.76 L270.58,381.31 L269.92,380.9 L269.26,380.51 L268.62,380.15 L267.95,379.81 L267.2,379.51 L266.42,379.25 L265.65,379.02 L264.91,378.81 L264.24,378.64 L263.68,378.49 L263.26,378.37" fill="none" stroke="#333333" stroke-width="0.8" stroke-linejoin="round" stroke-linecap="round" />
<path d="M278,416 L278.72,415.69 L279.69,415.29 L280.83,414.82 L282.1,414.28 L283.45,413.71 L284.82,413.12 L286.14,412.53 L287.38,411.96 L288.58,411.4 L289.8,410.83 L291.04,410.24 L292.28,409.64 L293.49,409.03 L294.65,408.4 L295.75,407.77 L296.76,407.12 L297.7,406.45 L298.59,405.76 L299.43,405.06 L300.21,404.34 L300.94,403.62 L301.62,402.9 L302.23,402.18 L302.79,401.46 L303.29,400.75 L303.73,400.01 L304.11,399.27 L304.44,398.54 L304.71,397.81 L304.93,397.11 L305.09,396.44 L305.2,395.81 L305.25,395.21 L305.23,394.63 L305.16,394.07 L305.03,393.54 L304.85,393.04 L304.64,392.58 L304.4,392.15 L304.13,391.77 L303.82,391.46 L303.47,391.2 L303.07,390.99 L302.64,390.82 L302.19,390.66 L301.72,390.51 L301.25,390.35 L300.78,390.16 L300.28,389.95 L299.73,389.72 L299.14,389.48 L298.56,389.25 L298,389.03 L297.5,388.84 L297.07,388.67 L296.76,388.55" fill="none" stroke="#ffb040" stroke-width="0.8" stroke-linejoin="round" stroke-linecap="round" />
<path d="M304.26,416 L305.04,415.75 L306.09,415.42 L307.34,415.03 L308.72,414.59 L310.16,414.12 L311.6,413.65 L312.96,413.2 L314.18,412.77 L315.3,412.37 L316.4,411.96 L317.48,411.56 L318.53,411.15 L319.53,410.75 L320.49,410.35 L321.39,409.94 L322.22,409.54 L322.98,409.13 L323.69,408.72 L324.34,408.31 L324.94,407.89 L325.49,407.49 L326,407.08 L326.47,406.69 L326.91,406.31 L327.31,405.94 L327.68,405.58 L328.01,405.23 L328.29,404.89 L328.53,404.55 L328.72,404.22 L328.85,403.89 L328.92,403.56 L328.92,403.24 L328.85,402.91 L328.72,402.58 L328.54,402.26 L328.33,401.95 L328.09,401.66 L327.83,401.39 L327.58,401.14 L327.29,400.92 L326.94,400.71 L326.56,400.52 L326.16,400.34 L325.77,400.19 L325.41,400.06 L325.12,399.94 L324.9,399.85" fill="none" stroke="#a040ff" stroke-width="0.8" stroke-linejoin="round" stroke-linecap="round" />
<path d="M224.4,374.49 L224.86,374.45 L225.48,374.38 L226.21,374.3 L227.03,374.21 L227.89,374.13 L228.77,374.05 L229.63,373.98 L230.43,373.92 L231.15,373.88 L231.81,373.84 L232.45,373.8 L233.1,373.77 L233.81,373.76 L234.6,373.76 L235.51,373.78 L236.59,373.83 L237.86,373.9 L239.29,373.99 L240.84,374.08 L242.48,374.2 L244.17,374.34 L245.88,374.51 L247.57,374.71 L249.19,374.94 L250.77,375.21 L252.36,375.51 L253.95,375.83 L255.55,376.18 L257.14,376.56 L258.73,376.96 L260.33,377.39 L261.92,377.83 L263.51,378.3 L265.1,378.81 L266.69,379.36 L268.28,379.92 L269.88,380.49 L271.47,381.06 L273.06,381.62 L274.65,382.17 L276.24,382.69 L277.83,383.21 L279.42,383.72 L281.01,384.22 L282.61,384.74 L284.2,385.26 L285.79,385.79 L287.38,386.34 L288.93,386.9 L290.44,387.45 L291.92,388.01 L293.41,388.59 L294.94,389.18 L296.55,389.8 L298.26,390.46 L300.11,391.16 L302.17,391.93 L304.43,392.77 L306.83,393.66 L309.28,394.56 L311.72,395.48 L314.07,396.37 L316.25,397.22 L318.2,398.01 L319.97,398.77 L321.65,399.54 L323.23,400.3 L324.69,401.02 L326.01,401.7 L327.17,402.29 L328.14,402.8 L328.92,403.18" fill="none" stroke="#ffb040" stroke-width="0.9" stroke-linejoin="round" stroke-linecap="round" />
<path d="M224.4,371.91 L224.86,371.87 L225.48,371.82 L226.21,371.75 L227.03,371.68 L227.89,371.61 L228.77,371.55 L229.63,371.49 L230.43,371.46 L231.15,371.43 L231.81,371.4 L232.45,371.37 L233.1,371.36 L233.81,371.36 L234.6,371.37 L235.51,371.41 L236.59,371.48 L237.86,371.58 L239.29,371.69 L240.84,371.82 L242.48,371.97 L244.17,372.14 L245.88,372.34 L247.57,372.57 L249.19,372.84 L250.77,373.13 L252.36,373.46 L253.95,373.82 L255.55,374.2 L257.14,374.61 L258.73,375.04 L260.33,375.49 L261.92,375.97 L263.51,376.47 L265.1,377.01 L266.69,377.59 L268.28,378.18 L269.88,378.78 L271.47,379.38 L273.06,379.98 L274.65,380.55 L276.24,381.11 L277.83,381.65 L279.42,382.19 L281.01,382.73 L282.61,383.27 L284.2,383.83 L285.79,384.39 L287.38,384.97 L288.93,385.56 L290.44,386.14 L291.92,386.73 L293.41,387.33 L294.94,387.96 L296.55,388.61 L298.26,389.3 L300.11,390.04 L302.17,390.85 L304.43,391.73 L306.83,392.66 L309.28,393.62 L311.72,394.58 L314.07,395.51 L316.25,396.41 L318.2,397.23 L319.97,398.03 L321.65,398.83 L323.23,399.62 L324.69,400.37 L326.01,401.07 L327.17,401.69 L328.14,402.21 L328.92,402.61" fill="none" stroke="#ff4040" stroke-width="0.8" stroke-linejoin="round" stroke-linecap="round" />
<path d="M224.4,373.85 L224.86,373.8 L225.48,373.74 L226.21,373.66 L227.03,373.58 L227.89,373.5 L228.77,373.42 L229.63,373.35 L230.43,373.31 L231.15,373.27 L231.81,373.23 L232.45,373.19 L233.1,373.17 L233.81,373.16 L234.6,373.16 L235.51,373.19 L236.59,373.25 L237.86,373.32 L239.29,373.41 L240.84,373.52 L242.48,373.64 L244.17,373.79 L245.88,373.97 L247.57,374.18 L249.19,374.42 L250.77,374.69 L252.36,374.99 L253.95,375.33 L255.55,375.69 L257.14,376.07 L258.73,376.48 L260.33,376.91 L261.92,377.36 L263.51,377.84 L265.1,378.36 L266.69,378.91 L268.28,379.48 L269.88,380.06 L271.47,380.64 L273.06,381.21 L274.65,381.76 L276.24,382.3 L277.83,382.82 L279.42,383.33 L281.01,383.85 L282.61,384.37 L284.2,384.9 L285.79,385.44 L287.38,386 L288.93,386.57 L290.44,387.13 L291.92,387.69 L293.41,388.27 L294.94,388.87 L296.55,389.5 L298.26,390.17 L300.11,390.88 L302.17,391.66 L304.43,392.51 L306.83,393.41 L309.28,394.33 L311.72,395.25 L314.07,396.15 L316.25,397.02 L318.2,397.82 L319.97,398.59 L321.65,399.36 L323.23,400.13 L324.69,400.86 L326.01,401.54 L327.17,402.14 L328.14,402.65 L328.92,403.04" fill="none" stroke="#30a030" stroke-width="0.8" stroke-linejoin="round" stroke-linecap="round" />
<path d="M224.4,372.23 L224.86,372.19 L225.48,372.14 L226.21,372.07 L227.03,372 L227.89,371.92 L228.77,371.86 L229.63,371.8 L230.43,371.76 L231.15,371.73 L231.81,371.7 L232.45,371.68 L233.1,371.66 L233.81,371.66 L234.6,371.67 L235.51,371.71 L236.59,371.78 L237.86,371.87 L239.29,371.98 L240.84,372.1 L242.48,372.25 L244.17,372.42 L245.88,372.61 L247.57,372.84 L249.19,373.1 L250.77,373.39 L252.36,373.72 L253.95,374.07 L255.55,374.45 L257.14,374.85 L258.73,375.28 L260.33,375.73 L261.92,376.2 L263.51,376.7 L265.1,377.24 L266.69,377.81 L268.28,378.4 L269.88,378.99 L271.47,379.59 L273.06,380.18 L274.65,380.75 L276.24,381.3 L277.83,381.85 L279.42,382.38 L281.01,382.92 L282.61,383.46 L284.2,384 L285.79,384.57 L287.38,385.14 L288.93,385.73 L290.44,386.31 L291.92,386.89 L293.41,387.49 L294.94,388.11 L296.55,388.76 L298.26,389.45 L300.11,390.18 L302.17,390.99 L304.43,391.86 L306.83,392.79 L309.28,393.74 L311.72,394.69 L314.07,395.62 L316.25,396.51 L318.2,397.33 L319.97,398.12 L321.65,398.92 L323.23,399.71 L324.69,400.46 L326.01,401.15 L327.17,401.77 L328.14,402.29 L328.92,402.69" fill="none" stroke="#a040ff" stroke-width="1.0" stroke-linejoin="round" stroke-linecap="round" />
<path d="M224.4,373.36 L224.86,373.32 L225.48,373.26 L226.21,373.19 L227.03,373.11 L227.89,373.03 L228.77,372.95 L229.63,372.89 L230.43,372.84 L231.15,372.81 L231.81,372.77 L232.45,372.74 L233.1,372.72 L233.81,372.71 L234.6,372.72 L235.51,372.75 L236.59,372.81 L237.86,372.89 L239.29,372.98 L240.84,373.09 L242.48,373.22 L244.17,373.38 L245.88,373.56 L247.57,373.78 L249.19,374.02 L250.77,374.3 L252.36,374.61 L253.95,374.95 L255.55,375.32 L257.14,375.71 L258.73,376.12 L260.33,376.56 L261.92,377.01 L263.51,377.5 L265.1,378.03 L266.69,378.58 L268.28,379.16 L269.88,379.74 L271.47,380.33 L273.06,380.9 L274.65,381.46 L276.24,382 L277.83,382.53 L279.42,383.05 L281.01,383.57 L282.61,384.1 L284.2,384.63 L285.79,385.18 L287.38,385.74 L288.93,386.31 L290.44,386.88 L291.92,387.45 L293.41,388.04 L294.94,388.64 L296.55,389.28 L298.26,389.95 L300.11,390.67 L302.17,391.46 L304.43,392.32 L306.83,393.22 L309.28,394.15 L311.72,395.08 L314.07,395.99 L316.25,396.86 L318.2,397.67 L319.97,398.45 L321.65,399.23 L323.23,400 L324.69,400.74 L326.01,401.42 L327.17,402.03 L328.14,402.54 L328.92,402.93" fill="none" stroke="#3030c0" stroke-width="1.0" stroke-linejoin="round" stroke-linecap="round" />
<path d="M224.4,372.88 L224.86,372.84 L225.48,372.78 L226.21,372.71 L227.03,372.63 L227.89,372.55 L228.77,372.48 L229.63,372.42 L230.43,372.38 L231.15,372.35 L231.81,372.31 L232.45,372.28 L233.1,372.26 L233.81,372.26 L234.6,372.27 L235.51,372.3 L236.59,372.37 L237.86,372.45 L239.29,372.55 L240.84,372.67 L242.48,372.81 L244.17,372.97 L245.88,373.16 L247.57,373.38 L249.19,373.63 L250.77,373.91 L252.36,374.23 L253.95,374.57 L255.55,374.94 L257.14,375.34 L258.73,375.76 L260.33,376.2 L261.92,376.67 L263.51,377.16 L265.1,377.69 L266.69,378.25 L268.28,378.83 L269.88,379.42 L271.47,380.01 L273.06,380.59 L274.65,381.16 L276.24,381.7 L277.83,382.24 L279.42,382.76 L281.01,383.29 L282.61,383.82 L284.2,384.36 L285.79,384.92 L287.38,385.49 L288.93,386.06 L290.44,386.64 L291.92,387.21 L293.41,387.8 L294.94,388.41 L296.55,389.06 L298.26,389.74 L300.11,390.46 L302.17,391.26 L304.43,392.12 L306.83,393.03 L309.28,393.97 L311.72,394.91 L314.07,395.83 L316.25,396.71 L318.2,397.52 L319.97,398.31 L321.65,399.1 L323.23,399.88 L324.69,400.62 L326.01,401.3 L327.17,401.92 L328.14,402.43 L328.92,402.83" fill="none" stroke="#6a1a8a" stroke-width="1.0" stroke-linejoin="round" stroke-linecap="round" />
<path d="M224.4,374.01 L224.86,373.96 L225.48,373.9 L226.21,373.82 L227.03,373.74 L227.89,373.66 L228.77,373.58 L229.63,373.51 L230.43,373.46 L231.15,373.42 L231.81,373.38 L232.45,373.35 L233.1,373.32 L233.81,373.31 L234.6,373.31 L235.51,373.34 L236.59,373.39 L237.86,373.47 L239.29,373.55 L240.84,373.66 L242.48,373.78 L244.17,373.93 L245.88,374.11 L247.57,374.31 L249.19,374.55 L250.77,374.82 L252.36,375.12 L253.95,375.45 L255.55,375.81 L257.14,376.2 L258.73,376.6 L260.33,377.03 L261.92,377.48 L263.51,377.96 L265.1,378.48 L266.69,379.02 L268.28,379.59 L269.88,380.17 L271.47,380.74 L273.06,381.31 L274.65,381.86 L276.24,382.39 L277.83,382.91 L279.42,383.43 L281.01,383.94 L282.61,384.46 L284.2,384.99 L285.79,385.53 L287.38,386.09 L288.93,386.65 L290.44,387.21 L291.92,387.77 L293.41,388.35 L294.94,388.95 L296.55,389.58 L298.26,390.24 L300.11,390.95 L302.17,391.73 L304.43,392.58 L306.83,393.47 L309.28,394.39 L311.72,395.31 L314.07,396.21 L316.25,397.07 L318.2,397.86 L319.97,398.63 L321.65,399.41 L323.23,400.17 L324.69,400.9 L326.01,401.58 L327.17,402.18 L328.14,402.69 L328.92,403.08" fill="none" stroke="#7a20c0" stroke-width="1.0" stroke-linejoin="round" stroke-linecap="round" />
<path d="M338.3,407.44 L346.07,400.01" fill="none" stroke="#222" stroke-width="1.0" stroke-linejoin="round" stroke-linecap="round" />
<path d="M328.92,403.4 L338.3,407.44" fill="none" stroke="#222" stroke-width="1.1" stroke-linejoin="round" stroke-linecap="round" />
<line x1="321.9" y1="317.9" x2="319.57" y2="386.51" stroke="#000" stroke-width="2.0" />
<polygon points="319.2,397.5 315.19,385.86 323.99,386.16" fill="#000"/>
<text x="322.9" y="296.4" font-family="Liberation Sans" font-size="12.2" fill="#000" text-anchor="middle" font-weight="normal" font-style="normal" >Heteroclinic</text>
<text x="324.1" y="312.5" font-family="Liberation Sans" font-size="12.2" fill="#000" text-anchor="middle" font-weight="normal" font-style="normal" >connection</text>
<rect x="613.5" y="250.5" width="144" height="144.6" fill="none" stroke="#999" stroke-width="1"/>
<line x1="613.5" y1="395.1" x2="613.5" y2="399.1" stroke="#999" stroke-width="1" />
<line x1="642.24" y1="395.1" x2="642.24" y2="399.1" stroke="#999" stroke-width="1" />
<line x1="670.98" y1="395.1" x2="670.98" y2="399.1" stroke="#999" stroke-width="1" />
<line x1="699.72" y1="395.1" x2="699.72" y2="399.1" stroke="#999" stroke-width="1" />
<line x1="728.46" y1="395.1" x2="728.46" y2="399.1" stroke="#999" stroke-width="1" />
<line x1="757.2" y1="395.1" x2="757.2" y2="399.1" stroke="#999" stroke-width="1" />
<line x1="627.87" y1="395.1" x2="627.87" y2="397.3" stroke="#999" stroke-width="1" />
<line x1="656.61" y1="395.1" x2="656.61" y2="397.3" stroke="#999" stroke-width="1" />
<line x1="685.35" y1="395.1" x2="685.35" y2="397.3" stroke="#999" stroke-width="1" />
<line x1="714.09" y1="395.1" x2="714.09" y2="397.3" stroke="#999" stroke-width="1" />
<line x1="742.83" y1="395.1" x2="742.83" y2="397.3" stroke="#999" stroke-width="1" />
<line x1="613.5" y1="395.1" x2="609.5" y2="395.1" stroke="#999" stroke-width="1" />
<line x1="613.5" y1="366.14" x2="609.5" y2="366.14" stroke="#999" stroke-width="1" />
<line x1="613.5" y1="337.18" x2="609.5" y2="337.18" stroke="#999" stroke-width="1" />
<line x1="613.5" y1="308.22" x2="609.5" y2="308.22" stroke="#999" stroke-width="1" />
<line x1="613.5" y1="279.26" x2="609.5" y2="279.26" stroke="#999" stroke-width="1" />
<line x1="613.5" y1="250.3" x2="609.5" y2="250.3" stroke="#999" stroke-width="1" />
<line x1="613.5" y1="380.62" x2="611.3" y2="380.62" stroke="#999" stroke-width="1" />
<line x1="613.5" y1="351.66" x2="611.3" y2="351.66" stroke="#999" stroke-width="1" />
<line x1="613.5" y1="322.7" x2="611.3" y2="322.7" stroke="#999" stroke-width="1" />
<line x1="613.5" y1="293.74" x2="611.3" y2="293.74" stroke="#999" stroke-width="1" />
<line x1="613.5" y1="264.78" x2="611.3" y2="264.78" stroke="#999" stroke-width="1" />
<text x="608.5" y="398.7" font-family="Liberation Serif" font-size="10.5" fill="#000" text-anchor="end" font-weight="normal" font-style="normal" >0</text>
<text x="608.5" y="369.74" font-family="Liberation Serif" font-size="10.5" fill="#000" text-anchor="end" font-weight="normal" font-style="normal" >0,2</text>
<text x="608.5" y="340.78" font-family="Liberation Serif" font-size="10.5" fill="#000" text-anchor="end" font-weight="normal" font-style="normal" >0,4</text>
<text x="608.5" y="311.82" font-family="Liberation Serif" font-size="10.5" fill="#000" text-anchor="end" font-weight="normal" font-style="normal" >0.6</text>
<text x="608.5" y="282.86" font-family="Liberation Serif" font-size="10.5" fill="#000" text-anchor="end" font-weight="normal" font-style="normal" >0.8</text>
<text x="608.5" y="253.9" font-family="Liberation Serif" font-size="10.5" fill="#000" text-anchor="end" font-weight="normal" font-style="normal" >1</text>
<text x="613.5" y="407.5" font-family="Liberation Serif" font-size="10.5" fill="#000" text-anchor="middle" font-weight="normal" font-style="normal" >0</text>
<text x="642.24" y="407.5" font-family="Liberation Serif" font-size="10.5" fill="#000" text-anchor="middle" font-weight="normal" font-style="normal" >0,2</text>
<text x="670.98" y="407.5" font-family="Liberation Serif" font-size="10.5" fill="#000" text-anchor="middle" font-weight="normal" font-style="normal" >0,4</text>
<text x="699.72" y="407.5" font-family="Liberation Serif" font-size="10.5" fill="#000" text-anchor="middle" font-weight="normal" font-style="normal" >0,6</text>
<text x="728.46" y="407.5" font-family="Liberation Serif" font-size="10.5" fill="#000" text-anchor="middle" font-weight="normal" font-style="normal" >0,8</text>
<text x="757.2" y="407.5" font-family="Liberation Serif" font-size="10.5" fill="#000" text-anchor="middle" font-weight="normal" font-style="normal" >1</text>
<g transform="translate(675,421.7) scale(0.86)"><text x="-0.71" y="0" font-family="Liberation Sans" font-size="10.6" font-weight="bold">H</text><text x="8.13" y="-0.8" font-family="Liberation Serif" font-size="10.7">(</text><path d="M13.97,-5.33 C14.49,-6.81 15.45,-7.11 16.71,-7.11 L21,-7.11" fill="none" stroke="#000" stroke-width="0.87" stroke-linecap="round"/><path d="M17.89,-6.96 C17.3,-4 16.71,-1.78 16.56,-0.52" fill="none" stroke="#000" stroke-width="1.14" stroke-linecap="round"/><text x="22.46" y="-0.8" font-family="Liberation Serif" font-size="10.7">)</text></g>
<g transform="translate(588.3,332) rotate(-90) scale(0.9)"><text x="-0.33" y="0" font-family="Liberation Sans" font-size="11.4" font-weight="bold">S</text><text x="7.0" y="3.1" font-family="Liberation Sans" font-size="6.7" font-weight="bold">4</text><text x="12.34" y="-0.4" font-family="Liberation Serif" font-size="10.4">(</text><path d="M18.58,-4.62 C19.11,-5.98 20.1,-6.26 21.39,-6.26 L25.8,-6.26" fill="none" stroke="#000" stroke-width="0.81" stroke-linecap="round"/><path d="M22.61,-6.12 C22,-3.4 21.39,-1.36 21.24,-0.2" fill="none" stroke="#000" stroke-width="1.07" stroke-linecap="round"/><text x="27.2" y="-0.4" font-family="Liberation Serif" font-size="10.4">)</text></g>
<line x1="635" y1="271.2" x2="633.33" y2="287.15" stroke="#b8b8b8" stroke-width="2.0" />
<polygon points="632.3,297 629.21,286.22 637.56,287.09" fill="#b8b8b8"/>
<line x1="664" y1="309.2" x2="660.86" y2="322.56" stroke="#b8b8b8" stroke-width="2.0" />
<polygon points="658.6,332.2 656.89,321.12 665.07,323.04" fill="#b8b8b8"/>
<line x1="728.3" y1="348.2" x2="720.27" y2="361.69" stroke="#b8b8b8" stroke-width="2.0" />
<polygon points="715.2,370.2 716.91,359.12 724.13,363.41" fill="#b8b8b8"/>
<line x1="626.6" y1="371.7" x2="637.3" y2="373.27" stroke="#b8b8b8" stroke-width="2.0" />
<polygon points="647.1,374.7 636.2,377.35 637.42,369.04" fill="#b8b8b8"/>
<line x1="664.2" y1="378.9" x2="676.14" y2="380" stroke="#b8b8b8" stroke-width="2.0" />
<polygon points="686,380.9 675.26,384.13 676.03,375.77" fill="#b8b8b8"/>
<path d="M642.24,279.26 L641.98,281.59 L641.63,284.72 L641.21,288.44 L640.75,292.56 L640.28,296.9 L639.82,301.25 L639.41,305.43 L639.08,309.23 L638.8,312.82 L638.55,316.43 L638.32,320.02 L638.12,323.55 L637.95,326.97 L637.81,330.25 L637.71,333.33 L637.64,336.17 L637.61,338.77 L637.61,341.19 L637.63,343.44 L637.7,345.52 L637.8,347.46 L637.94,349.27 L638.12,350.95 L638.36,352.53 L638.65,353.97 L638.98,355.23 L639.37,356.35 L639.79,357.35 L640.25,358.26 L640.74,359.09 L641.26,359.87 L641.81,360.64 L642.37,361.36 L642.94,362 L643.54,362.57 L644.17,363.08 L644.85,363.54 L645.58,363.96 L646.39,364.34 L647.27,364.69 L648.32,365.01 L649.55,365.27 L650.9,365.49 L652.28,365.67 L653.62,365.82 L654.84,365.94 L655.86,366.05 L656.61,366.14" fill="none" stroke="#30a030" stroke-width="0.8" stroke-linejoin="round" stroke-linecap="round" />
<path d="M656.61,294.32 L656.41,296.54 L656.15,299.51 L655.84,303.06 L655.49,306.98 L655.12,311.1 L654.74,315.21 L654.37,319.15 L654.02,322.7 L653.66,326.04 L653.26,329.42 L652.83,332.77 L652.42,336.04 L652.03,339.17 L651.7,342.11 L651.44,344.8 L651.29,347.17 L651.22,349.19 L651.18,350.88 L651.19,352.31 L651.27,353.55 L651.43,354.66 L651.69,355.71 L652.07,356.77 L652.59,357.89 L653.25,359.07 L654.07,360.25 L655.01,361.4 L656.04,362.51 L657.15,363.55 L658.3,364.49 L659.47,365.31 L660.63,366 L661.89,366.52 L663.3,366.89 L664.8,367.14 L666.31,367.3 L667.76,367.39 L669.07,367.45 L670.17,367.51 L670.98,367.59" fill="none" stroke="#ff40ff" stroke-width="0.8" stroke-linejoin="round" stroke-linecap="round" />
<path d="M671.55,307.79 L671.23,309.59 L670.78,312.02 L670.25,314.91 L669.67,318.11 L669.07,321.46 L668.49,324.8 L667.97,327.97 L667.53,330.81 L667.16,333.42 L666.79,336 L666.45,338.52 L666.15,340.97 L665.89,343.34 L665.69,345.61 L665.56,347.76 L665.52,349.78 L665.55,351.66 L665.63,353.42 L665.77,355.07 L665.98,356.62 L666.25,358.07 L666.6,359.44 L667.03,360.72 L667.53,361.94 L668.14,363.07 L668.85,364.1 L669.65,365.04 L670.52,365.9 L671.44,366.69 L672.38,367.43 L673.34,368.11 L674.29,368.75 L675.3,369.34 L676.42,369.87 L677.61,370.35 L678.8,370.76 L679.94,371.13 L680.97,371.44 L681.83,371.71 L682.48,371.93" fill="none" stroke="#a040ff" stroke-width="0.8" stroke-linejoin="round" stroke-linecap="round" />
<path d="M685.06,322.7 L684.73,324.2 L684.28,326.24 L683.73,328.67 L683.13,331.34 L682.52,334.12 L681.95,336.87 L681.44,339.43 L681.04,341.67 L680.72,343.63 L680.43,345.48 L680.18,347.24 L679.97,348.91 L679.82,350.52 L679.72,352.08 L679.7,353.61 L679.75,355.14 L679.88,356.66 L680.08,358.16 L680.36,359.64 L680.7,361.07 L681.09,362.44 L681.52,363.73 L681.98,364.92 L682.48,366 L683.01,366.94 L683.6,367.77 L684.24,368.49 L684.92,369.14 L685.62,369.72 L686.34,370.27 L687.07,370.81 L687.79,371.35 L688.57,371.9 L689.42,372.44 L690.32,372.95 L691.21,373.43 L692.07,373.86 L692.84,374.25 L693.49,374.57 L693.97,374.83" fill="none" stroke="#d0a0a0" stroke-width="0.8" stroke-linejoin="round" stroke-linecap="round" />
<path d="M698.71,337.18 L698.3,338.09 L697.72,339.31 L697.03,340.77 L696.27,342.38 L695.51,344.08 L694.79,345.78 L694.16,347.42 L693.68,348.91 L693.34,350.29 L693.07,351.65 L692.87,353 L692.72,354.32 L692.63,355.63 L692.57,356.92 L692.54,358.21 L692.53,359.48 L692.55,360.76 L692.6,362.06 L692.68,363.35 L692.8,364.63 L692.95,365.87 L693.15,367.05 L693.39,368.16 L693.68,369.18 L694.01,370.1 L694.37,370.94 L694.76,371.71 L695.2,372.42 L695.69,373.09 L696.25,373.73 L696.87,374.35 L697.56,374.97 L698.41,375.6 L699.44,376.23 L700.58,376.85 L701.76,377.43 L702.91,377.97 L703.95,378.45 L704.83,378.86 L705.47,379.17" fill="none" stroke="#4040ff" stroke-width="0.8" stroke-linejoin="round" stroke-linecap="round" />
<path d="M714.81,352.38 L714.35,352.91 L713.72,353.6 L712.96,354.41 L712.13,355.33 L711.29,356.32 L710.48,357.36 L709.77,358.42 L709.2,359.48 L708.75,360.59 L708.35,361.81 L708.01,363.1 L707.72,364.41 L707.49,365.71 L707.33,366.97 L707.23,368.14 L707.19,369.18 L707.23,370.09 L707.32,370.9 L707.49,371.63 L707.71,372.31 L708,372.96 L708.34,373.61 L708.75,374.27 L709.2,374.97 L709.74,375.73 L710.37,376.52 L711.06,377.33 L711.81,378.14 L712.59,378.92 L713.39,379.66 L714.18,380.33 L714.95,380.91 L715.76,381.41 L716.64,381.86 L717.56,382.25 L718.47,382.58 L719.34,382.88 L720.13,383.13 L720.78,383.34 L721.27,383.52" fill="none" stroke="#50e050" stroke-width="0.8" stroke-linejoin="round" stroke-linecap="round" />
<path d="M729.32,366.43 L729.08,366.87 L728.75,367.45 L728.35,368.13 L727.91,368.9 L727.47,369.72 L727.06,370.57 L726.71,371.41 L726.45,372.22 L726.26,373.04 L726.1,373.9 L725.98,374.79 L725.9,375.69 L725.86,376.58 L725.87,377.44 L725.92,378.27 L726.02,379.03 L726.17,379.73 L726.37,380.41 L726.62,381.05 L726.91,381.66 L727.24,382.24 L727.61,382.79 L728.02,383.31 L728.46,383.81 L728.95,384.26 L729.5,384.67 L730.1,385.04 L730.73,385.39 L731.39,385.72 L732.05,386.04 L732.7,386.37 L733.35,386.7 L734.01,387.06 L734.74,387.43 L735.49,387.81 L736.24,388.19 L736.95,388.53 L737.58,388.85 L738.12,389.11 L738.52,389.31" fill="none" stroke="#ff4040" stroke-width="0.8" stroke-linejoin="round" stroke-linecap="round" />
<path d="M743.4,380.91 L743.19,381.13 L742.89,381.43 L742.53,381.78 L742.14,382.18 L741.74,382.59 L741.37,383.01 L741.06,383.42 L740.82,383.81 L740.64,384.17 L740.5,384.53 L740.39,384.89 L740.32,385.25 L740.28,385.62 L740.27,385.98 L740.31,386.34 L740.39,386.7 L740.51,387.07 L740.67,387.46 L740.88,387.86 L741.12,388.25 L741.4,388.63 L741.71,388.99 L742.04,389.31 L742.4,389.6 L742.79,389.83 L743.21,390.02 L743.66,390.18 L744.14,390.31 L744.65,390.44 L745.17,390.57 L745.72,390.72 L746.28,390.9 L746.9,391.12 L747.6,391.37 L748.35,391.65 L749.11,391.92 L749.83,392.19 L750.49,392.43 L751.04,392.63 L751.45,392.78" fill="none" stroke="#444" stroke-width="0.8" stroke-linejoin="round" stroke-linecap="round" />
<path d="M628.3,395.1 L629.28,394.75 L630.6,394.31 L632.18,393.79 L633.92,393.19 L635.74,392.54 L637.56,391.83 L639.27,391.09 L640.8,390.32 L642.21,389.49 L643.59,388.59 L644.94,387.62 L646.25,386.61 L647.51,385.59 L648.71,384.57 L649.83,383.58 L650.86,382.65 L651.77,381.74 L652.55,380.82 L653.24,379.9 L653.87,379.01 L654.49,378.14 L655.12,377.32 L655.82,376.55 L656.61,375.84 L657.5,375.19 L658.47,374.59 L659.48,374.04 L660.52,373.52 L661.56,373.06 L662.59,372.64 L663.58,372.26 L664.51,371.93 L665.38,371.66 L666.2,371.44 L666.98,371.28 L667.75,371.15 L668.51,371.07 L669.3,371 L670.11,370.96 L670.98,370.92 L671.91,370.89 L672.89,370.89 L673.9,370.91 L674.93,370.95 L675.96,371.01 L676.97,371.1 L677.95,371.21 L678.88,371.35 L679.8,371.54 L680.75,371.8 L681.7,372.09 L682.61,372.39 L683.46,372.7 L684.22,372.98 L684.86,373.21 L685.35,373.38" fill="none" stroke="#ffb040" stroke-width="0.8" stroke-linejoin="round" stroke-linecap="round" />
<path d="M656.61,395.1 L657.65,394.76 L659.02,394.31 L660.65,393.78 L662.47,393.18 L664.41,392.54 L666.4,391.89 L668.37,391.24 L670.26,390.61 L672.15,389.99 L674.15,389.33 L676.2,388.65 L678.27,387.97 L680.31,387.29 L682.27,386.63 L684.11,385.99 L685.78,385.4 L687.28,384.83 L688.64,384.26 L689.9,383.71 L691.07,383.18 L692.18,382.69 L693.26,382.23 L694.33,381.83 L695.41,381.49 L696.48,381.21 L697.51,381 L698.5,380.83 L699.47,380.71 L700.42,380.62 L701.38,380.56 L702.34,380.51 L703.31,380.48 L704.29,380.45 L705.24,380.43 L706.18,380.44 L707.13,380.47 L708.09,380.52 L709.09,380.61 L710.12,380.74 L711.22,380.91 L712.44,381.15 L713.81,381.47 L715.27,381.84 L716.74,382.24 L718.14,382.63 L719.42,383 L720.48,383.3 L721.27,383.52" fill="none" stroke="#333333" stroke-width="0.8" stroke-linejoin="round" stroke-linecap="round" />
<path d="M685.35,395.1 L686.45,394.92 L687.9,394.68 L689.62,394.4 L691.55,394.08 L693.59,393.73 L695.69,393.37 L697.76,393 L699.72,392.64 L701.65,392.26 L703.64,391.86 L705.67,391.43 L707.71,391 L709.75,390.56 L711.74,390.13 L713.68,389.71 L715.53,389.31 L717.27,388.88 L718.93,388.4 L720.52,387.9 L722.08,387.43 L723.63,387 L725.19,386.67 L726.79,386.46 L728.46,386.41 L730.29,386.58 L732.29,386.94 L734.37,387.45 L736.45,388.04 L738.43,388.65 L740.21,389.23 L741.71,389.71 L742.83,390.03" fill="none" stroke="#a040ff" stroke-width="0.8" stroke-linejoin="round" stroke-linecap="round" />
<path d="M714.09,395.1 L715.22,394.87 L716.74,394.56 L718.55,394.18 L720.56,393.77 L722.65,393.34 L724.73,392.92 L726.7,392.54 L728.46,392.2 L730.05,391.9 L731.6,391.59 L733.11,391.29 L734.57,391.01 L735.98,390.76 L737.35,390.55 L738.68,390.4 L739.96,390.32 L741.17,390.3 L742.31,390.34 L743.4,390.43 L744.45,390.56 L745.47,390.73 L746.49,390.95 L747.52,391.2 L748.58,391.48 L749.71,391.84 L750.94,392.3 L752.19,392.82 L753.43,393.36 L754.6,393.9 L755.65,394.39 L756.53,394.8 L757.2,395.1" fill="none" stroke="#903060" stroke-width="0.8" stroke-linejoin="round" stroke-linecap="round" />
<path d="M642.24,364.37 L643.25,364.52 L644.6,364.72 L646.21,364.96 L647.99,365.23 L649.86,365.51 L651.74,365.79 L653.54,366.06 L655.17,366.31 L656.62,366.51 L657.94,366.68 L659.2,366.83 L660.46,366.98 L661.78,367.16 L663.21,367.39 L664.82,367.7 L666.67,368.09 L668.71,368.57 L670.87,369.12 L673.16,369.72 L675.6,370.38 L678.18,371.09 L680.92,371.86 L683.84,372.67 L686.93,373.53 L690.36,374.48 L694.18,375.53 L698.26,376.65 L702.45,377.81 L706.63,378.98 L710.65,380.12 L714.38,381.21 L717.68,382.2 L720.52,383.1 L722.99,383.93 L725.2,384.72 L727.24,385.48 L729.21,386.22 L731.2,386.96 L733.32,387.71 L735.64,388.5 L738.31,389.35 L741.29,390.28 L744.41,391.24 L747.55,392.19 L750.54,393.09 L753.24,393.91 L755.51,394.59 L757.2,395.1" fill="none" stroke="#ffb040" stroke-width="0.8" stroke-linejoin="round" stroke-linecap="round" />
<path d="M642.24,364.49 L643.25,364.64 L644.6,364.84 L646.21,365.08 L647.99,365.34 L649.86,365.62 L651.74,365.9 L653.54,366.16 L655.17,366.41 L656.62,366.61 L657.94,366.78 L659.2,366.93 L660.46,367.08 L661.78,367.26 L663.21,367.49 L664.82,367.79 L666.67,368.18 L668.71,368.66 L670.87,369.21 L673.16,369.81 L675.6,370.46 L678.18,371.17 L680.92,371.94 L683.84,372.75 L686.93,373.6 L690.36,374.54 L694.18,375.59 L698.26,376.71 L702.45,377.87 L706.63,379.03 L710.65,380.17 L714.38,381.25 L717.68,382.24 L720.52,383.13 L722.99,383.97 L725.2,384.75 L727.24,385.51 L729.21,386.25 L731.2,386.98 L733.32,387.74 L735.64,388.52 L738.31,389.37 L741.29,390.3 L744.41,391.25 L747.55,392.2 L750.54,393.1 L753.24,393.91 L755.51,394.59 L757.2,395.1" fill="none" stroke="#a040ff" stroke-width="1.0" stroke-linejoin="round" stroke-linecap="round" />
<path d="M642.24,364.84 L643.25,364.98 L644.6,365.18 L646.21,365.41 L647.99,365.67 L649.86,365.94 L651.74,366.21 L653.54,366.48 L655.17,366.72 L656.62,366.92 L657.94,367.08 L659.2,367.22 L660.46,367.37 L661.78,367.55 L663.21,367.77 L664.82,368.07 L666.67,368.46 L668.71,368.93 L670.87,369.47 L673.16,370.06 L675.6,370.71 L678.18,371.41 L680.92,372.17 L683.84,372.97 L686.93,373.81 L690.36,374.75 L694.18,375.78 L698.26,376.89 L702.45,378.03 L706.63,379.18 L710.65,380.31 L714.38,381.38 L717.68,382.36 L720.52,383.24 L722.99,384.07 L725.2,384.85 L727.24,385.6 L729.21,386.33 L731.2,387.06 L733.32,387.81 L735.64,388.58 L738.31,389.43 L741.29,390.35 L744.41,391.29 L747.55,392.23 L750.54,393.12 L753.24,393.92 L755.51,394.6 L757.2,395.1" fill="none" stroke="#5a2a9a" stroke-width="1.0" stroke-linejoin="round" stroke-linecap="round" />
<path d="M642.24,365.18 L643.25,365.33 L644.6,365.52 L646.21,365.75 L647.99,366 L649.86,366.27 L651.74,366.53 L653.54,366.79 L655.17,367.03 L656.62,367.22 L657.94,367.38 L659.2,367.52 L660.46,367.66 L661.78,367.83 L663.21,368.06 L664.82,368.35 L666.67,368.73 L668.71,369.2 L670.87,369.73 L673.16,370.31 L675.6,370.96 L678.18,371.65 L680.92,372.4 L683.84,373.19 L686.93,374.03 L690.36,374.95 L694.18,375.97 L698.26,377.06 L702.45,378.2 L706.63,379.34 L710.65,380.45 L714.38,381.51 L717.68,382.48 L720.52,383.36 L722.99,384.17 L725.2,384.95 L727.24,385.69 L729.21,386.41 L731.2,387.14 L733.32,387.88 L735.64,388.65 L738.31,389.49 L741.29,390.39 L744.41,391.33 L747.55,392.26 L750.54,393.14 L753.24,393.93 L755.51,394.6 L757.2,395.1" fill="none" stroke="#c05050" stroke-width="0.8" stroke-linejoin="round" stroke-linecap="round" />
<path d="M627.73,264.49 L627.63,266.3 L627.5,268.72 L627.34,271.63 L627.17,274.92 L627.01,278.46 L626.86,282.16 L626.73,286.13 L626.6,290.49 L626.47,295.12 L626.35,299.87 L626.24,304.62 L626.15,309.23 L626.06,313.86 L625.99,318.65 L625.93,323.42 L625.88,328.04 L625.83,332.34 L625.8,336.17 L625.78,339.51 L625.78,342.5 L625.78,345.17 L625.79,347.56 L625.8,349.71 L625.8,351.66 L625.79,353.35 L625.76,354.74 L625.74,355.9 L625.73,356.86 L625.74,357.7 L625.8,358.47 L625.9,359.09 L626.02,359.53 L626.18,359.83 L626.36,360.07 L626.57,360.32 L626.81,360.64 L627.07,361.02 L627.37,361.43 L627.7,361.83 L628.05,362.23 L628.42,362.61 L628.8,362.95 L629.21,363.28 L629.66,363.58 L630.12,363.87 L630.59,364.13 L631.04,364.36 L631.46,364.55 L631.85,364.71 L632.21,364.86 L632.55,364.97 L632.9,365.04 L633.25,365.05 L633.62,364.98 L634.01,364.79 L634.42,364.46 L634.83,364.08 L635.25,363.7 L635.66,363.4 L636.06,363.24 L636.45,363.26 L636.82,363.39 L637.19,363.6 L637.57,363.84 L637.95,364.07 L638.36,364.26 L638.79,364.41 L639.24,364.57 L639.71,364.73 L640.17,364.86 L640.64,364.95 L641.09,364.98 L641.53,364.92 L641.96,364.78 L642.38,364.6 L642.81,364.42 L643.24,364.29 L643.68,364.26 L644.11,364.33 L644.53,364.49 L644.95,364.7 L645.4,364.92 L645.88,365.12 L646.41,365.27 L646.99,365.35 L647.63,365.38 L648.29,365.39 L648.99,365.41 L649.7,365.45 L650.43,365.56 L651.2,365.75 L652.03,366 L652.87,366.28 L653.7,366.57 L654.48,366.82 L655.17,367.01 L655.7,367.11 L656.07,367.14 L656.39,367.14 L656.76,367.15 L657.28,367.19 L658.05,367.3 L658.98,367.46 L659.99,367.64 L661.15,367.86 L662.52,368.13 L664.2,368.47 L666.24,368.89 L668.81,369.42 L671.88,370.06 L675.25,370.76 L678.7,371.5 L682.04,372.24 L685.06,372.95 L687.72,373.61 L690.16,374.27 L692.49,374.93 L694.8,375.59 L697.18,376.28 L699.72,377 L702.43,377.73 L705.22,378.47 L708.09,379.24 L711.01,380.03 L713.98,380.87 L716.96,381.78 L719.96,382.76 L722.98,383.81 L726.04,384.91 L729.15,386.04 L732.35,387.17 L735.64,388.29 L739.32,389.49 L743.42,390.79 L747.59,392.1 L751.51,393.32 L754.82,394.36 L757.2,395.1" fill="none" stroke="#2030e0" stroke-width="1.05" stroke-linejoin="round" stroke-linecap="round" />
<line x1="695.9" y1="295.6" x2="689.02" y2="360.67" stroke="#000" stroke-width="2.0" />
<polygon points="687.7,373.1 684.1,359.65 694.04,360.7" fill="#000"/>
<text x="697.1" y="274.6" font-family="Liberation Sans" font-size="12.2" fill="#000" text-anchor="middle" font-weight="normal" font-style="normal" >Heteroclinic</text>
<text x="698" y="290.7" font-family="Liberation Sans" font-size="12.2" fill="#000" text-anchor="middle" font-weight="normal" font-style="normal" >connection</text>
</svg>
</body></html>
